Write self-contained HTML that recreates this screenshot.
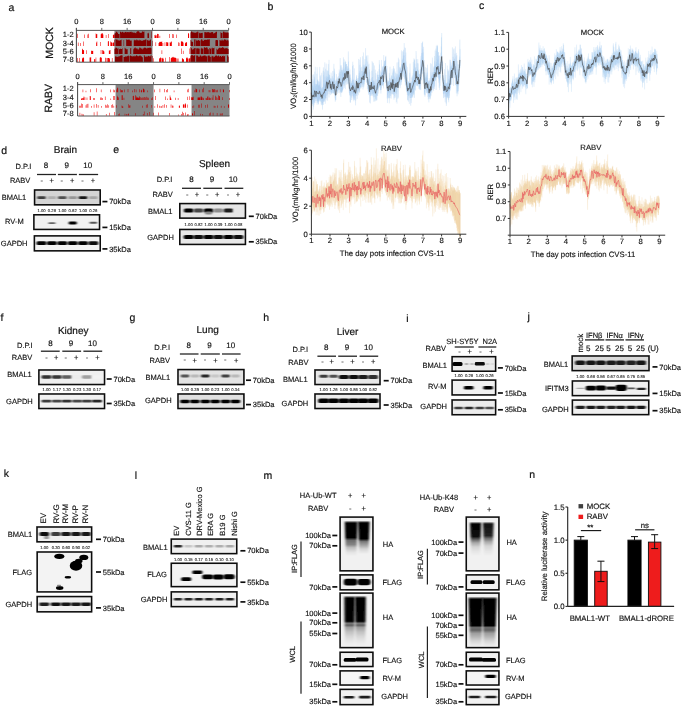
<!DOCTYPE html>
<html><head><meta charset="utf-8"><title>Figure</title>
<style>html,body{margin:0;padding:0;background:#fff;width:685px;height:707px;overflow:hidden;font-family:"Liberation Sans",sans-serif;}svg{display:block;will-change:transform;text-rendering:geometricPrecision;}</style>
</head><body>
<svg width="685" height="707" viewBox="0 0 685 707" font-family='"Liberation Sans", sans-serif'><defs><filter id="b0_85" x="-50%" y="-50%" width="200%" height="200%"><feGaussianBlur stdDeviation="0.85 0.55"/></filter><filter id="b0_80" x="-50%" y="-50%" width="200%" height="200%"><feGaussianBlur stdDeviation="0.8 0.52"/></filter><filter id="b1_00" x="-50%" y="-50%" width="200%" height="200%"><feGaussianBlur stdDeviation="1 0.65"/></filter><filter id="b0_90" x="-50%" y="-50%" width="200%" height="200%"><feGaussianBlur stdDeviation="0.9 0.59"/></filter><filter id="b0_70" x="-50%" y="-50%" width="200%" height="200%"><feGaussianBlur stdDeviation="0.7 0.45"/></filter><filter id="b0_60" x="-50%" y="-50%" width="200%" height="200%"><feGaussianBlur stdDeviation="0.6 0.39"/></filter><linearGradient id="sm1" gradientUnits="userSpaceOnUse" x1="0" y1="520.5" x2="0" y2="556"><stop offset="0" stop-color="#000" stop-opacity="0"/><stop offset="0.07" stop-color="#000" stop-opacity="1"/><stop offset="0.48" stop-color="#000" stop-opacity="1"/><stop offset="0.56" stop-color="#000" stop-opacity="0.55"/><stop offset="0.68" stop-color="#000" stop-opacity="0.45"/><stop offset="0.76" stop-color="#000" stop-opacity="0.22"/><stop offset="0.89" stop-color="#000" stop-opacity="0.06"/><stop offset="1" stop-color="#000" stop-opacity="0"/></linearGradient><filter id="b1_10" x="-50%" y="-50%" width="200%" height="200%"><feGaussianBlur stdDeviation="1.1 0.72"/></filter><linearGradient id="sm2" gradientUnits="userSpaceOnUse" x1="0" y1="520.5" x2="0" y2="554"><stop offset="0" stop-color="#000" stop-opacity="0"/><stop offset="0.07" stop-color="#000" stop-opacity="1"/><stop offset="0.54" stop-color="#000" stop-opacity="1"/><stop offset="0.63" stop-color="#000" stop-opacity="0.5"/><stop offset="0.75" stop-color="#000" stop-opacity="0.3"/><stop offset="0.85" stop-color="#000" stop-opacity="0.12"/><stop offset="1" stop-color="#000" stop-opacity="0"/></linearGradient><linearGradient id="sm3" gradientUnits="userSpaceOnUse" x1="0" y1="595.5" x2="0" y2="646"><stop offset="0" stop-color="#000" stop-opacity="0"/><stop offset="0.05" stop-color="#000" stop-opacity="1"/><stop offset="0.51" stop-color="#000" stop-opacity="1"/><stop offset="0.55" stop-color="#000" stop-opacity="0.5"/><stop offset="0.59" stop-color="#000" stop-opacity="0.6"/><stop offset="0.63" stop-color="#000" stop-opacity="0.35"/><stop offset="0.72" stop-color="#000" stop-opacity="0.2"/><stop offset="0.82" stop-color="#000" stop-opacity="0.1"/><stop offset="0.94" stop-color="#000" stop-opacity="0.02"/><stop offset="1" stop-color="#000" stop-opacity="0"/></linearGradient><linearGradient id="sm4" gradientUnits="userSpaceOnUse" x1="0" y1="595.5" x2="0" y2="646"><stop offset="0" stop-color="#000" stop-opacity="0"/><stop offset="0.05" stop-color="#000" stop-opacity="1"/><stop offset="0.51" stop-color="#000" stop-opacity="1"/><stop offset="0.55" stop-color="#000" stop-opacity="0.5"/><stop offset="0.59" stop-color="#000" stop-opacity="0.6"/><stop offset="0.63" stop-color="#000" stop-opacity="0.35"/><stop offset="0.72" stop-color="#000" stop-opacity="0.2"/><stop offset="0.82" stop-color="#000" stop-opacity="0.1"/><stop offset="0.94" stop-color="#000" stop-opacity="0.02"/><stop offset="1" stop-color="#000" stop-opacity="0"/></linearGradient><linearGradient id="sm5" gradientUnits="userSpaceOnUse" x1="0" y1="521.5" x2="0" y2="556"><stop offset="0" stop-color="#000" stop-opacity="0"/><stop offset="0.07" stop-color="#000" stop-opacity="1"/><stop offset="0.43" stop-color="#000" stop-opacity="0.95"/><stop offset="0.52" stop-color="#000" stop-opacity="0.6"/><stop offset="0.62" stop-color="#000" stop-opacity="0.3"/><stop offset="0.74" stop-color="#000" stop-opacity="0.12"/><stop offset="0.88" stop-color="#000" stop-opacity="0.04"/><stop offset="1" stop-color="#000" stop-opacity="0"/></linearGradient><linearGradient id="sm6" gradientUnits="userSpaceOnUse" x1="0" y1="521.5" x2="0" y2="556"><stop offset="0" stop-color="#000" stop-opacity="0"/><stop offset="0.07" stop-color="#000" stop-opacity="0.92"/><stop offset="0.41" stop-color="#000" stop-opacity="0.85"/><stop offset="0.49" stop-color="#000" stop-opacity="0.55"/><stop offset="0.59" stop-color="#000" stop-opacity="0.3"/><stop offset="0.71" stop-color="#000" stop-opacity="0.12"/><stop offset="0.88" stop-color="#000" stop-opacity="0.04"/><stop offset="1" stop-color="#000" stop-opacity="0"/></linearGradient><linearGradient id="sm7" gradientUnits="userSpaceOnUse" x1="0" y1="596.5" x2="0" y2="647.5"><stop offset="0" stop-color="#000" stop-opacity="0"/><stop offset="0.05" stop-color="#000" stop-opacity="1"/><stop offset="0.57" stop-color="#000" stop-opacity="1"/><stop offset="0.61" stop-color="#000" stop-opacity="0.55"/><stop offset="0.66" stop-color="#000" stop-opacity="0.6"/><stop offset="0.72" stop-color="#000" stop-opacity="0.35"/><stop offset="0.79" stop-color="#000" stop-opacity="0.25"/><stop offset="0.87" stop-color="#000" stop-opacity="0.12"/><stop offset="0.96" stop-color="#000" stop-opacity="0.03"/><stop offset="1" stop-color="#000" stop-opacity="0"/></linearGradient><linearGradient id="sm8" gradientUnits="userSpaceOnUse" x1="0" y1="596.5" x2="0" y2="647.5"><stop offset="0" stop-color="#000" stop-opacity="0"/><stop offset="0.05" stop-color="#000" stop-opacity="1"/><stop offset="0.57" stop-color="#000" stop-opacity="1"/><stop offset="0.61" stop-color="#000" stop-opacity="0.55"/><stop offset="0.66" stop-color="#000" stop-opacity="0.6"/><stop offset="0.72" stop-color="#000" stop-opacity="0.35"/><stop offset="0.79" stop-color="#000" stop-opacity="0.25"/><stop offset="0.87" stop-color="#000" stop-opacity="0.12"/><stop offset="0.96" stop-color="#000" stop-opacity="0.03"/><stop offset="1" stop-color="#000" stop-opacity="0"/></linearGradient><filter id="gblur" x="0" y="0" width="100%" height="100%" filterUnits="userSpaceOnUse"><feGaussianBlur stdDeviation="0.3"/></filter></defs><rect width="685" height="707" fill="#fff"/><g filter="url(#gblur)"><text x="8.6" y="10.9" font-size="10.5" text-anchor="start" fill="#141414" stroke="#141414" stroke-width="0.21">a</text>
<text x="267.4" y="9.7" font-size="10.5" text-anchor="start" fill="#141414" stroke="#141414" stroke-width="0.21">b</text>
<text x="479" y="8.5" font-size="10.5" text-anchor="start" fill="#141414" stroke="#141414" stroke-width="0.21">c</text>
<text x="1.3" y="154.2" font-size="10.5" text-anchor="start" fill="#141414" stroke="#141414" stroke-width="0.21">d</text>
<text x="113.2" y="152.5" font-size="10.5" text-anchor="start" fill="#141414" stroke="#141414" stroke-width="0.21">e</text>
<text x="0.6" y="320.8" font-size="10.5" text-anchor="start" fill="#141414" stroke="#141414" stroke-width="0.21">f</text>
<text x="129.4" y="320.8" font-size="10.5" text-anchor="start" fill="#141414" stroke="#141414" stroke-width="0.21">g</text>
<text x="263.2" y="320.5" font-size="10.5" text-anchor="start" fill="#141414" stroke="#141414" stroke-width="0.21">h</text>
<text x="406.2" y="322" font-size="10.5" text-anchor="start" fill="#141414" stroke="#141414" stroke-width="0.21">i</text>
<text x="527.6" y="320" font-size="10.5" text-anchor="start" fill="#141414" stroke="#141414" stroke-width="0.21">j</text>
<text x="3.7" y="477.2" font-size="10.5" text-anchor="start" fill="#141414" stroke="#141414" stroke-width="0.21">k</text>
<text x="134.7" y="479" font-size="10.5" text-anchor="start" fill="#141414" stroke="#141414" stroke-width="0.21">l</text>
<text x="263.4" y="478.6" font-size="10.5" text-anchor="start" fill="#141414" stroke="#141414" stroke-width="0.21">m</text>
<text x="529.2" y="477.6" font-size="10.5" text-anchor="start" fill="#141414" stroke="#141414" stroke-width="0.21">n</text>
<text x="65.5" y="153.38" font-size="10" text-anchor="middle" fill="#141414" stroke="#141414" stroke-width="0.2">Brain</text>
<text x="31.3" y="168.69" font-size="7.5" text-anchor="end" fill="#141414" stroke="#141414" stroke-width="0.15">D.P.I</text>
<text x="46.1" y="168.26" font-size="8" text-anchor="middle" fill="#141414" stroke="#141414" stroke-width="0.16">8</text>
<text x="66.8" y="168.26" font-size="8" text-anchor="middle" fill="#141414" stroke="#141414" stroke-width="0.16">9</text>
<text x="87.7" y="168.26" font-size="8" text-anchor="middle" fill="#141414" stroke="#141414" stroke-width="0.16">10</text>
<line x1="37" y1="174.5" x2="56" y2="174.5" stroke="#222" stroke-width="1.3"/>
<line x1="57.9" y1="174.5" x2="76.9" y2="174.5" stroke="#222" stroke-width="1.3"/>
<line x1="78.9" y1="174.5" x2="98.1" y2="174.5" stroke="#222" stroke-width="1.3"/>
<text x="30.4" y="183.19" font-size="7.5" text-anchor="end" fill="#141414" stroke="#141414" stroke-width="0.15">RABV</text>
<text x="41.7" y="182.88" font-size="7.5" text-anchor="middle" fill="#141414" stroke="#141414" stroke-width="0.15">-</text>
<text x="51.6" y="183.19" font-size="7.5" text-anchor="middle" fill="#141414" stroke="#141414" stroke-width="0.15">+</text>
<text x="61.7" y="182.88" font-size="7.5" text-anchor="middle" fill="#141414" stroke="#141414" stroke-width="0.15">-</text>
<text x="72.1" y="183.19" font-size="7.5" text-anchor="middle" fill="#141414" stroke="#141414" stroke-width="0.15">+</text>
<text x="82.5" y="182.88" font-size="7.5" text-anchor="middle" fill="#141414" stroke="#141414" stroke-width="0.15">-</text>
<text x="93" y="183.19" font-size="7.5" text-anchor="middle" fill="#141414" stroke="#141414" stroke-width="0.15">+</text>
<rect x="34.57" y="189.97" width="65.65" height="14.85" fill="#d4d4d4" stroke="#0a0a0a" stroke-width="1.55"/>
<rect x="37.25" y="196.2" width="8.5" height="2.8" rx="1.12" fill="#3c3c3c" opacity="1" filter="url(#b0_85)"/>
<rect x="47.65" y="196.2" width="8.5" height="2.8" rx="1.12" fill="#afafaf" opacity="1" filter="url(#b0_85)"/>
<rect x="58.05" y="196.2" width="8.5" height="2.8" rx="1.12" fill="#505050" opacity="1" filter="url(#b0_85)"/>
<rect x="68.45" y="196.2" width="8.5" height="2.8" rx="1.12" fill="#969696" opacity="1" filter="url(#b0_85)"/>
<rect x="78.75" y="196.2" width="8.5" height="2.8" rx="1.12" fill="#191919" opacity="1" filter="url(#b0_85)"/>
<rect x="89.05" y="196.2" width="8.5" height="2.8" rx="1.12" fill="#a5a5a5" opacity="1" filter="url(#b0_85)"/>
<text x="14" y="200.28" font-size="7.5" text-anchor="middle" fill="#141414" stroke="#141414" stroke-width="0.15">BMAL1</text>
<text x="41.5" y="211.5" font-size="4.2" text-anchor="middle" fill="#2a2a2a" stroke="#2a2a2a" stroke-width="0.12">1.00</text>
<text x="51.9" y="211.5" font-size="4.2" text-anchor="middle" fill="#2a2a2a" stroke="#2a2a2a" stroke-width="0.12">0.26</text>
<text x="62.3" y="211.5" font-size="4.2" text-anchor="middle" fill="#2a2a2a" stroke="#2a2a2a" stroke-width="0.12">1.00</text>
<text x="72.7" y="211.5" font-size="4.2" text-anchor="middle" fill="#2a2a2a" stroke="#2a2a2a" stroke-width="0.12">0.62</text>
<text x="83" y="211.5" font-size="4.2" text-anchor="middle" fill="#2a2a2a" stroke="#2a2a2a" stroke-width="0.12">1.00</text>
<text x="93.3" y="211.5" font-size="4.2" text-anchor="middle" fill="#2a2a2a" stroke="#2a2a2a" stroke-width="0.12">0.26</text>
<rect x="33.88" y="214.78" width="65.65" height="14.65" fill="#f1f1f1" stroke="#0a0a0a" stroke-width="1.55"/>
<rect x="48.4" y="222.3" width="7" height="1.8" rx="0.72" fill="#666" opacity="1" filter="url(#b0_80)"/>
<rect x="68.7" y="221.5" width="8" height="3" rx="1.2" fill="#000" opacity="1" filter="url(#b0_80)"/>
<rect x="89.55" y="221.7" width="7.5" height="2" rx="0.8" fill="#555" opacity="1" filter="url(#b0_80)"/>
<text x="14.4" y="223.99" font-size="7.5" text-anchor="middle" fill="#141414" stroke="#141414" stroke-width="0.15">RV-M</text>
<rect x="34.38" y="235.88" width="65.85" height="14.95" fill="#f3f3f3" stroke="#0a0a0a" stroke-width="1.55"/>
<rect x="36.5" y="241.3" width="10" height="3.8" rx="1.52" fill="#000000" opacity="1" filter="url(#b0_80)"/>
<rect x="46.9" y="241.3" width="10" height="3.8" rx="1.52" fill="#050505" opacity="1" filter="url(#b0_80)"/>
<rect x="57.3" y="241.3" width="10" height="3.8" rx="1.52" fill="#000000" opacity="1" filter="url(#b0_80)"/>
<rect x="67.7" y="241.3" width="10" height="3.8" rx="1.52" fill="#050505" opacity="1" filter="url(#b0_80)"/>
<rect x="78" y="241.3" width="10" height="3.8" rx="1.52" fill="#000000" opacity="1" filter="url(#b0_80)"/>
<rect x="88.3" y="241.3" width="10" height="3.8" rx="1.52" fill="#0a0a0a" opacity="1" filter="url(#b0_80)"/>
<text x="14.2" y="246.28" font-size="7.5" text-anchor="middle" fill="#141414" stroke="#141414" stroke-width="0.15">GAPDH</text>
<line x1="102.4" y1="201.6" x2="107.4" y2="201.6" stroke="#111" stroke-width="1.7"/>
<text x="109.2" y="204.28" font-size="7.5" text-anchor="start" fill="#141414" stroke="#141414" stroke-width="0.15">70kDa</text>
<line x1="102.4" y1="227.4" x2="107.4" y2="227.4" stroke="#111" stroke-width="1.7"/>
<text x="109.2" y="230.09" font-size="7.5" text-anchor="start" fill="#141414" stroke="#141414" stroke-width="0.15">15kDa</text>
<line x1="102.4" y1="248.9" x2="107.4" y2="248.9" stroke="#111" stroke-width="1.7"/>
<text x="109.2" y="251.59" font-size="7.5" text-anchor="start" fill="#141414" stroke="#141414" stroke-width="0.15">35kDa</text>
<text x="214.5" y="166.58" font-size="10" text-anchor="middle" fill="#141414" stroke="#141414" stroke-width="0.2">Spleen</text>
<text x="172.4" y="181.59" font-size="7.5" text-anchor="end" fill="#141414" stroke="#141414" stroke-width="0.15">D.P.I</text>
<text x="191.6" y="182.16" font-size="8" text-anchor="middle" fill="#141414" stroke="#141414" stroke-width="0.16">8</text>
<text x="212" y="182.16" font-size="8" text-anchor="middle" fill="#141414" stroke="#141414" stroke-width="0.16">9</text>
<text x="233.1" y="182.16" font-size="8" text-anchor="middle" fill="#141414" stroke="#141414" stroke-width="0.16">10</text>
<line x1="182" y1="188.3" x2="201" y2="188.3" stroke="#222" stroke-width="1.3"/>
<line x1="203.3" y1="188.3" x2="222.1" y2="188.3" stroke="#222" stroke-width="1.3"/>
<line x1="224.5" y1="188.3" x2="243.3" y2="188.3" stroke="#222" stroke-width="1.3"/>
<text x="172.9" y="197.49" font-size="7.5" text-anchor="end" fill="#141414" stroke="#141414" stroke-width="0.15">RABV</text>
<text x="187.2" y="196.69" font-size="7.5" text-anchor="middle" fill="#141414" stroke="#141414" stroke-width="0.15">-</text>
<text x="197" y="196.99" font-size="7.5" text-anchor="middle" fill="#141414" stroke="#141414" stroke-width="0.15">+</text>
<text x="207.2" y="196.69" font-size="7.5" text-anchor="middle" fill="#141414" stroke="#141414" stroke-width="0.15">-</text>
<text x="217.2" y="196.99" font-size="7.5" text-anchor="middle" fill="#141414" stroke="#141414" stroke-width="0.15">+</text>
<text x="228" y="196.69" font-size="7.5" text-anchor="middle" fill="#141414" stroke="#141414" stroke-width="0.15">-</text>
<text x="237.9" y="196.99" font-size="7.5" text-anchor="middle" fill="#141414" stroke="#141414" stroke-width="0.15">+</text>
<rect x="179.78" y="203.58" width="65.65" height="14.55" fill="#e6e6e6" stroke="#0a0a0a" stroke-width="1.55"/>
<rect x="183.95" y="208.6" width="9.5" height="3.8" rx="1.52" fill="#050505" opacity="1" filter="url(#b0_85)"/>
<rect x="193.75" y="208.6" width="9.5" height="3.8" rx="1.52" fill="#464646" opacity="1" filter="url(#b0_85)"/>
<rect x="203.85" y="208.6" width="9.5" height="3.8" rx="1.52" fill="#050505" opacity="1" filter="url(#b0_85)"/>
<rect x="213.55" y="208.6" width="9.5" height="3.8" rx="1.52" fill="#8c8c8c" opacity="1" filter="url(#b0_85)"/>
<rect x="223.75" y="208.6" width="9.5" height="3.8" rx="1.52" fill="#1e1e1e" opacity="1" filter="url(#b0_85)"/>
<rect x="233.55" y="208.6" width="9.5" height="3.8" rx="1.52" fill="#e6e6e6" opacity="1" filter="url(#b0_85)"/>
<rect x="205.1" y="211.5" width="7" height="3" rx="1.2" fill="#888" opacity="1" filter="url(#b1_00)"/>
<text x="160.2" y="213.69" font-size="7.5" text-anchor="middle" fill="#141414" stroke="#141414" stroke-width="0.15">BMAL1</text>
<text x="188.7" y="225.8" font-size="4.2" text-anchor="middle" fill="#2a2a2a" stroke="#2a2a2a" stroke-width="0.12">1.00</text>
<text x="198.5" y="225.8" font-size="4.2" text-anchor="middle" fill="#2a2a2a" stroke="#2a2a2a" stroke-width="0.12">0.82</text>
<text x="208.6" y="225.8" font-size="4.2" text-anchor="middle" fill="#2a2a2a" stroke="#2a2a2a" stroke-width="0.12">1.00</text>
<text x="218.3" y="225.8" font-size="4.2" text-anchor="middle" fill="#2a2a2a" stroke="#2a2a2a" stroke-width="0.12">0.39</text>
<text x="228.5" y="225.8" font-size="4.2" text-anchor="middle" fill="#2a2a2a" stroke="#2a2a2a" stroke-width="0.12">1.00</text>
<text x="238.3" y="225.8" font-size="4.2" text-anchor="middle" fill="#2a2a2a" stroke="#2a2a2a" stroke-width="0.12">0.08</text>
<rect x="179.78" y="229.47" width="65.65" height="14.95" fill="#e8e8e8" stroke="#0a0a0a" stroke-width="1.55"/>
<rect x="183.7" y="235" width="10" height="4" rx="1.6" fill="#000000" opacity="1" filter="url(#b0_80)"/>
<rect x="193.5" y="235" width="10" height="4" rx="1.6" fill="#0a0a0a" opacity="1" filter="url(#b0_80)"/>
<rect x="203.6" y="235" width="10" height="4" rx="1.6" fill="#000000" opacity="1" filter="url(#b0_80)"/>
<rect x="213.3" y="235" width="10" height="4" rx="1.6" fill="#0f0f0f" opacity="1" filter="url(#b0_80)"/>
<rect x="223.5" y="235" width="10" height="4" rx="1.6" fill="#050505" opacity="1" filter="url(#b0_80)"/>
<rect x="233.3" y="235" width="10" height="4" rx="1.6" fill="#0f0f0f" opacity="1" filter="url(#b0_80)"/>
<text x="160.5" y="240.49" font-size="7.5" text-anchor="middle" fill="#141414" stroke="#141414" stroke-width="0.15">GAPDH</text>
<line x1="248.8" y1="216.3" x2="253.8" y2="216.3" stroke="#111" stroke-width="1.7"/>
<text x="255.6" y="218.99" font-size="7.5" text-anchor="start" fill="#141414" stroke="#141414" stroke-width="0.15">70kDa</text>
<line x1="248.8" y1="241.8" x2="253.8" y2="241.8" stroke="#111" stroke-width="1.7"/>
<text x="255.6" y="244.49" font-size="7.5" text-anchor="start" fill="#141414" stroke="#141414" stroke-width="0.15">35kDa</text>
<text x="73.2" y="333.58" font-size="10" text-anchor="middle" fill="#141414" stroke="#141414" stroke-width="0.2">Kidney</text>
<text x="32.7" y="347.58" font-size="7.5" text-anchor="end" fill="#141414" stroke="#141414" stroke-width="0.15">D.P.I</text>
<text x="50.5" y="345.66" font-size="8" text-anchor="middle" fill="#141414" stroke="#141414" stroke-width="0.16">8</text>
<text x="70.9" y="345.66" font-size="8" text-anchor="middle" fill="#141414" stroke="#141414" stroke-width="0.16">9</text>
<text x="92.4" y="345.66" font-size="8" text-anchor="middle" fill="#141414" stroke="#141414" stroke-width="0.16">10</text>
<line x1="40.9" y1="351.2" x2="59.7" y2="351.2" stroke="#222" stroke-width="1.3"/>
<line x1="62.3" y1="351.2" x2="81.1" y2="351.2" stroke="#222" stroke-width="1.3"/>
<line x1="83.4" y1="351.2" x2="102.2" y2="351.2" stroke="#222" stroke-width="1.3"/>
<text x="32.3" y="360.29" font-size="7.5" text-anchor="end" fill="#141414" stroke="#141414" stroke-width="0.15">RABV</text>
<text x="46.4" y="359.78" font-size="7.5" text-anchor="middle" fill="#141414" stroke="#141414" stroke-width="0.15">-</text>
<text x="56.2" y="360.08" font-size="7.5" text-anchor="middle" fill="#141414" stroke="#141414" stroke-width="0.15">+</text>
<text x="65.8" y="359.78" font-size="7.5" text-anchor="middle" fill="#141414" stroke="#141414" stroke-width="0.15">-</text>
<text x="76.2" y="360.08" font-size="7.5" text-anchor="middle" fill="#141414" stroke="#141414" stroke-width="0.15">+</text>
<text x="86.9" y="359.78" font-size="7.5" text-anchor="middle" fill="#141414" stroke="#141414" stroke-width="0.15">-</text>
<text x="97.5" y="360.08" font-size="7.5" text-anchor="middle" fill="#141414" stroke="#141414" stroke-width="0.15">+</text>
<rect x="38.88" y="369.97" width="65.65" height="14.55" fill="#efefef" stroke="#0a0a0a" stroke-width="1.55"/>
<rect x="41.5" y="375.35" width="10" height="3.3" rx="1.32" fill="#323232" opacity="1" filter="url(#b0_90)"/>
<rect x="51.9" y="375.35" width="10" height="3.3" rx="1.32" fill="#373737" opacity="1" filter="url(#b0_90)"/>
<rect x="61.8" y="375.35" width="10" height="3.3" rx="1.32" fill="#5f5f5f" opacity="1" filter="url(#b0_90)"/>
<rect x="72.2" y="375.35" width="10" height="3.3" rx="1.32" fill="#ececec" opacity="1" filter="url(#b0_90)"/>
<rect x="81.9" y="375.35" width="10" height="3.3" rx="1.32" fill="#a0a0a0" opacity="1" filter="url(#b0_90)"/>
<rect x="92" y="375.35" width="10" height="3.3" rx="1.32" fill="#f2f2f2" opacity="1" filter="url(#b0_90)"/>
<text x="19.5" y="376.99" font-size="7.5" text-anchor="middle" fill="#141414" stroke="#141414" stroke-width="0.15">BMAL1</text>
<text x="46.5" y="390.5" font-size="4.2" text-anchor="middle" fill="#2a2a2a" stroke="#2a2a2a" stroke-width="0.12">1.00</text>
<text x="56.9" y="390.5" font-size="4.2" text-anchor="middle" fill="#2a2a2a" stroke="#2a2a2a" stroke-width="0.12">1.17</text>
<text x="66.8" y="390.5" font-size="4.2" text-anchor="middle" fill="#2a2a2a" stroke="#2a2a2a" stroke-width="0.12">1.30</text>
<text x="77.2" y="390.5" font-size="4.2" text-anchor="middle" fill="#2a2a2a" stroke="#2a2a2a" stroke-width="0.12">0.23</text>
<text x="86.9" y="390.5" font-size="4.2" text-anchor="middle" fill="#2a2a2a" stroke="#2a2a2a" stroke-width="0.12">1.30</text>
<text x="97" y="390.5" font-size="4.2" text-anchor="middle" fill="#2a2a2a" stroke="#2a2a2a" stroke-width="0.12">0.17</text>
<rect x="38.88" y="393.97" width="65.65" height="14.55" fill="#f1f1f1" stroke="#0a0a0a" stroke-width="1.55"/>
<rect x="41.5" y="399.7" width="10" height="2.8" rx="1.12" fill="#3c3c3c" opacity="1" filter="url(#b0_80)"/>
<rect x="51.9" y="399.7" width="10" height="2.8" rx="1.12" fill="#464646" opacity="1" filter="url(#b0_80)"/>
<rect x="61.8" y="399.7" width="10" height="2.8" rx="1.12" fill="#323232" opacity="1" filter="url(#b0_80)"/>
<rect x="72.2" y="399.7" width="10" height="2.8" rx="1.12" fill="#464646" opacity="1" filter="url(#b0_80)"/>
<rect x="81.9" y="399.7" width="10" height="2.8" rx="1.12" fill="#3c3c3c" opacity="1" filter="url(#b0_80)"/>
<rect x="92" y="399.7" width="10" height="2.8" rx="1.12" fill="#282828" opacity="1" filter="url(#b0_80)"/>
<text x="19.4" y="403.58" font-size="7.5" text-anchor="middle" fill="#141414" stroke="#141414" stroke-width="0.15">GAPDH</text>
<line x1="106.7" y1="379" x2="111.7" y2="379" stroke="#111" stroke-width="1.7"/>
<text x="113.5" y="381.69" font-size="7.5" text-anchor="start" fill="#141414" stroke="#141414" stroke-width="0.15">70kDa</text>
<line x1="106.7" y1="403.5" x2="111.7" y2="403.5" stroke="#111" stroke-width="1.7"/>
<text x="113.5" y="406.19" font-size="7.5" text-anchor="start" fill="#141414" stroke="#141414" stroke-width="0.15">35kDa</text>
<text x="207.7" y="332.98" font-size="10" text-anchor="middle" fill="#141414" stroke="#141414" stroke-width="0.2">Lung</text>
<text x="170" y="350.29" font-size="7.5" text-anchor="end" fill="#141414" stroke="#141414" stroke-width="0.15">D.P.I</text>
<text x="188.7" y="348.06" font-size="8" text-anchor="middle" fill="#141414" stroke="#141414" stroke-width="0.16">8</text>
<text x="209.5" y="348.06" font-size="8" text-anchor="middle" fill="#141414" stroke="#141414" stroke-width="0.16">9</text>
<text x="230.7" y="348.06" font-size="8" text-anchor="middle" fill="#141414" stroke="#141414" stroke-width="0.16">10</text>
<line x1="179.9" y1="354" x2="198.5" y2="354" stroke="#222" stroke-width="1.3"/>
<line x1="200.7" y1="354" x2="219.8" y2="354" stroke="#222" stroke-width="1.3"/>
<line x1="222" y1="354" x2="240.6" y2="354" stroke="#222" stroke-width="1.3"/>
<text x="170" y="363.19" font-size="7.5" text-anchor="end" fill="#141414" stroke="#141414" stroke-width="0.15">RABV</text>
<text x="184.7" y="362.49" font-size="7.5" text-anchor="middle" fill="#141414" stroke="#141414" stroke-width="0.15">-</text>
<text x="194.8" y="362.79" font-size="7.5" text-anchor="middle" fill="#141414" stroke="#141414" stroke-width="0.15">+</text>
<text x="204.9" y="362.49" font-size="7.5" text-anchor="middle" fill="#141414" stroke="#141414" stroke-width="0.15">-</text>
<text x="215.4" y="362.79" font-size="7.5" text-anchor="middle" fill="#141414" stroke="#141414" stroke-width="0.15">+</text>
<text x="225.2" y="362.49" font-size="7.5" text-anchor="middle" fill="#141414" stroke="#141414" stroke-width="0.15">-</text>
<text x="236.2" y="362.79" font-size="7.5" text-anchor="middle" fill="#141414" stroke="#141414" stroke-width="0.15">+</text>
<rect x="177.97" y="369.57" width="65.95" height="14.95" fill="#e3e3e3" stroke="#0a0a0a" stroke-width="1.55"/>
<rect x="180.75" y="374.6" width="8.5" height="2.8" rx="1.12" fill="#555555" opacity="1" filter="url(#b0_85)"/>
<rect x="190.65" y="374.6" width="8.5" height="2.8" rx="1.12" fill="#b9b9b9" opacity="1" filter="url(#b0_85)"/>
<rect x="201.05" y="374.6" width="8.5" height="2.8" rx="1.12" fill="#282828" opacity="1" filter="url(#b0_85)"/>
<rect x="210.95" y="374.6" width="8.5" height="2.8" rx="1.12" fill="#c8c8c8" opacity="1" filter="url(#b0_85)"/>
<rect x="221.35" y="374.6" width="8.5" height="2.8" rx="1.12" fill="#414141" opacity="1" filter="url(#b0_85)"/>
<rect x="231.15" y="374.6" width="8.5" height="2.8" rx="1.12" fill="#b9b9b9" opacity="1" filter="url(#b0_85)"/>
<text x="157.9" y="379.69" font-size="7.5" text-anchor="middle" fill="#141414" stroke="#141414" stroke-width="0.15">BMAL1</text>
<text x="185" y="390.6" font-size="4.2" text-anchor="middle" fill="#2a2a2a" stroke="#2a2a2a" stroke-width="0.12">1.00</text>
<text x="194.9" y="390.6" font-size="4.2" text-anchor="middle" fill="#2a2a2a" stroke="#2a2a2a" stroke-width="0.12">0.39</text>
<text x="205.3" y="390.6" font-size="4.2" text-anchor="middle" fill="#2a2a2a" stroke="#2a2a2a" stroke-width="0.12">1.00</text>
<text x="215.2" y="390.6" font-size="4.2" text-anchor="middle" fill="#2a2a2a" stroke="#2a2a2a" stroke-width="0.12">0.23</text>
<text x="225.6" y="390.6" font-size="4.2" text-anchor="middle" fill="#2a2a2a" stroke="#2a2a2a" stroke-width="0.12">1.00</text>
<text x="235.4" y="390.6" font-size="4.2" text-anchor="middle" fill="#2a2a2a" stroke="#2a2a2a" stroke-width="0.12">0.34</text>
<rect x="177.97" y="393.97" width="65.95" height="14.55" fill="#e0e0e0" stroke="#0a0a0a" stroke-width="1.55"/>
<rect x="180.25" y="399.7" width="9.5" height="3.6" rx="1.44" fill="#000000" opacity="1" filter="url(#b0_80)"/>
<rect x="190.15" y="399.7" width="9.5" height="3.6" rx="1.44" fill="#050505" opacity="1" filter="url(#b0_80)"/>
<rect x="200.55" y="399.7" width="9.5" height="3.6" rx="1.44" fill="#050505" opacity="1" filter="url(#b0_80)"/>
<rect x="210.45" y="399.7" width="9.5" height="3.6" rx="1.44" fill="#000000" opacity="1" filter="url(#b0_80)"/>
<rect x="220.85" y="399.7" width="9.5" height="3.6" rx="1.44" fill="#050505" opacity="1" filter="url(#b0_80)"/>
<rect x="230.65" y="399.7" width="9.5" height="3.6" rx="1.44" fill="#000000" opacity="1" filter="url(#b0_80)"/>
<text x="158.3" y="403.08" font-size="7.5" text-anchor="middle" fill="#141414" stroke="#141414" stroke-width="0.15">GAPDH</text>
<line x1="246" y1="380.2" x2="251" y2="380.2" stroke="#111" stroke-width="1.7"/>
<text x="252.8" y="382.88" font-size="7.5" text-anchor="start" fill="#141414" stroke="#141414" stroke-width="0.15">70kDa</text>
<line x1="246" y1="404.6" x2="251" y2="404.6" stroke="#111" stroke-width="1.7"/>
<text x="252.8" y="407.29" font-size="7.5" text-anchor="start" fill="#141414" stroke="#141414" stroke-width="0.15">35kDa</text>
<text x="347.6" y="334.98" font-size="10" text-anchor="middle" fill="#141414" stroke="#141414" stroke-width="0.2">Liver</text>
<text x="308.2" y="351.69" font-size="7.5" text-anchor="end" fill="#141414" stroke="#141414" stroke-width="0.15">D.P.I</text>
<text x="326.3" y="350.26" font-size="8" text-anchor="middle" fill="#141414" stroke="#141414" stroke-width="0.16">8</text>
<text x="346.9" y="350.26" font-size="8" text-anchor="middle" fill="#141414" stroke="#141414" stroke-width="0.16">9</text>
<text x="368.4" y="350.26" font-size="8" text-anchor="middle" fill="#141414" stroke="#141414" stroke-width="0.16">10</text>
<line x1="317.4" y1="356.2" x2="336" y2="356.2" stroke="#222" stroke-width="1.3"/>
<line x1="338.2" y1="356.2" x2="357" y2="356.2" stroke="#222" stroke-width="1.3"/>
<line x1="359.6" y1="356.2" x2="378.2" y2="356.2" stroke="#222" stroke-width="1.3"/>
<text x="308.6" y="364.69" font-size="7.5" text-anchor="end" fill="#141414" stroke="#141414" stroke-width="0.15">RABV</text>
<text x="322.4" y="364.19" font-size="7.5" text-anchor="middle" fill="#141414" stroke="#141414" stroke-width="0.15">-</text>
<text x="331.8" y="364.49" font-size="7.5" text-anchor="middle" fill="#141414" stroke="#141414" stroke-width="0.15">+</text>
<text x="342.5" y="364.19" font-size="7.5" text-anchor="middle" fill="#141414" stroke="#141414" stroke-width="0.15">-</text>
<text x="352.4" y="364.49" font-size="7.5" text-anchor="middle" fill="#141414" stroke="#141414" stroke-width="0.15">+</text>
<text x="362.9" y="364.19" font-size="7.5" text-anchor="middle" fill="#141414" stroke="#141414" stroke-width="0.15">-</text>
<text x="373.2" y="364.49" font-size="7.5" text-anchor="middle" fill="#141414" stroke="#141414" stroke-width="0.15">+</text>
<rect x="314.97" y="369.97" width="65.05" height="14.55" fill="#e8e8e8" stroke="#0a0a0a" stroke-width="1.55"/>
<rect x="319.45" y="374.8" width="8.5" height="3" rx="1.2" fill="#3c3c3c" opacity="1" filter="url(#b0_85)"/>
<rect x="329.25" y="374.8" width="8.5" height="3" rx="1.2" fill="#505050" opacity="1" filter="url(#b0_85)"/>
<rect x="338.9" y="374.9" width="10" height="4.2" rx="1.68" fill="#0f0f0f" opacity="1" filter="url(#b0_85)"/>
<rect x="348.8" y="374.9" width="10" height="4.2" rx="1.68" fill="#0a0a0a" opacity="1" filter="url(#b0_85)"/>
<rect x="358.1" y="374.9" width="10" height="4.2" rx="1.68" fill="#1e1e1e" opacity="1" filter="url(#b0_85)"/>
<rect x="368" y="374.9" width="10" height="4.2" rx="1.68" fill="#2d2d2d" opacity="1" filter="url(#b0_85)"/>
<text x="295.4" y="381.88" font-size="7.5" text-anchor="middle" fill="#141414" stroke="#141414" stroke-width="0.15">BMAL1</text>
<text x="323.7" y="390.9" font-size="4.2" text-anchor="middle" fill="#2a2a2a" stroke="#2a2a2a" stroke-width="0.12">1.00</text>
<text x="333.5" y="390.9" font-size="4.2" text-anchor="middle" fill="#2a2a2a" stroke="#2a2a2a" stroke-width="0.12">1.26</text>
<text x="343.9" y="390.9" font-size="4.2" text-anchor="middle" fill="#2a2a2a" stroke="#2a2a2a" stroke-width="0.12">1.00</text>
<text x="353.8" y="390.9" font-size="4.2" text-anchor="middle" fill="#2a2a2a" stroke="#2a2a2a" stroke-width="0.12">0.86</text>
<text x="363.1" y="390.9" font-size="4.2" text-anchor="middle" fill="#2a2a2a" stroke="#2a2a2a" stroke-width="0.12">1.00</text>
<text x="373" y="390.9" font-size="4.2" text-anchor="middle" fill="#2a2a2a" stroke="#2a2a2a" stroke-width="0.12">0.82</text>
<rect x="314.97" y="393.97" width="65.05" height="14.55" fill="#ebebeb" stroke="#0a0a0a" stroke-width="1.55"/>
<rect x="318.2" y="398.5" width="11" height="4.6" rx="1.84" fill="#000000" opacity="1" filter="url(#b0_80)"/>
<rect x="328" y="398.5" width="11" height="4.6" rx="1.84" fill="#050505" opacity="1" filter="url(#b0_80)"/>
<rect x="338.4" y="398.5" width="11" height="4.6" rx="1.84" fill="#050505" opacity="1" filter="url(#b0_80)"/>
<rect x="348.3" y="398.5" width="11" height="4.6" rx="1.84" fill="#000000" opacity="1" filter="url(#b0_80)"/>
<rect x="357.6" y="398.5" width="11" height="4.6" rx="1.84" fill="#050505" opacity="1" filter="url(#b0_80)"/>
<rect x="367.5" y="398.5" width="11" height="4.6" rx="1.84" fill="#050505" opacity="1" filter="url(#b0_80)"/>
<text x="294.9" y="405.88" font-size="7.5" text-anchor="middle" fill="#141414" stroke="#141414" stroke-width="0.15">GAPDH</text>
<line x1="383.7" y1="380.7" x2="388.7" y2="380.7" stroke="#111" stroke-width="1.7"/>
<text x="390.5" y="383.38" font-size="7.5" text-anchor="start" fill="#141414" stroke="#141414" stroke-width="0.15">70kDa</text>
<line x1="383.7" y1="405" x2="388.7" y2="405" stroke="#111" stroke-width="1.7"/>
<text x="390.5" y="407.69" font-size="7.5" text-anchor="start" fill="#141414" stroke="#141414" stroke-width="0.15">35kDa</text>
<text x="462.4" y="343.99" font-size="7.5" text-anchor="middle" fill="#141414" stroke="#141414" stroke-width="0.15">SH-SY5Y</text>
<text x="489.8" y="343.99" font-size="7.5" text-anchor="middle" fill="#141414" stroke="#141414" stroke-width="0.15">N2A</text>
<line x1="454.7" y1="347" x2="473.8" y2="347" stroke="#222" stroke-width="1.3"/>
<line x1="478.4" y1="347" x2="496.3" y2="347" stroke="#222" stroke-width="1.3"/>
<text x="446" y="351.29" font-size="7.5" text-anchor="end" fill="#141414" stroke="#141414" stroke-width="0.15">RABV</text>
<text x="459.6" y="354.19" font-size="7.5" text-anchor="middle" fill="#141414" stroke="#141414" stroke-width="0.15">-</text>
<text x="469.6" y="354.49" font-size="7.5" text-anchor="middle" fill="#141414" stroke="#141414" stroke-width="0.15">+</text>
<text x="480.6" y="354.19" font-size="7.5" text-anchor="middle" fill="#141414" stroke="#141414" stroke-width="0.15">-</text>
<text x="491.5" y="354.49" font-size="7.5" text-anchor="middle" fill="#141414" stroke="#141414" stroke-width="0.15">+</text>
<rect x="452.07" y="356.67" width="43.55" height="14.55" fill="#ececec" stroke="#0a0a0a" stroke-width="1.55"/>
<rect x="452.5" y="362.1" width="10" height="3.8" rx="1.52" fill="#000" opacity="1" filter="url(#b0_70)"/>
<rect x="465" y="363.1" width="3" height="1.8" rx="0.72" fill="#999" opacity="1" filter="url(#b0_80)"/>
<rect x="470.5" y="363.1" width="3" height="1.8" rx="0.72" fill="#aaa" opacity="1" filter="url(#b0_80)"/>
<rect x="474.8" y="362" width="10" height="3.6" rx="1.44" fill="#080808" opacity="1" filter="url(#b0_70)"/>
<rect x="486" y="363.2" width="3" height="1.6" rx="0.64" fill="#bbb" opacity="1" filter="url(#b0_80)"/>
<rect x="491.25" y="363.3" width="2.5" height="1.4" rx="0.56" fill="#ccc" opacity="1" filter="url(#b0_80)"/>
<text x="447" y="367.58" font-size="7.5" text-anchor="end" fill="#141414" stroke="#141414" stroke-width="0.15">BMAL1</text>
<text x="458.6" y="376.9" font-size="4.2" text-anchor="middle" fill="#2a2a2a" stroke="#2a2a2a" stroke-width="0.12">1.00</text>
<text x="469" y="376.9" font-size="4.2" text-anchor="middle" fill="#2a2a2a" stroke="#2a2a2a" stroke-width="0.12">0.26</text>
<text x="479.8" y="376.9" font-size="4.2" text-anchor="middle" fill="#2a2a2a" stroke="#2a2a2a" stroke-width="0.12">1.00</text>
<text x="489.6" y="376.9" font-size="4.2" text-anchor="middle" fill="#2a2a2a" stroke="#2a2a2a" stroke-width="0.12">0.26</text>
<rect x="452.07" y="380.07" width="43.55" height="14.85" fill="#f1f1f1" stroke="#0a0a0a" stroke-width="1.55"/>
<rect x="463.95" y="386" width="9.5" height="3.6" rx="1.44" fill="#000" opacity="1" filter="url(#b0_80)"/>
<rect x="483.35" y="386" width="9.5" height="3.6" rx="1.44" fill="#000" opacity="1" filter="url(#b0_80)"/>
<text x="446.6" y="389.08" font-size="7.5" text-anchor="end" fill="#141414" stroke="#141414" stroke-width="0.15">RV-M</text>
<rect x="452.07" y="399.97" width="43.55" height="14.75" fill="#ececec" stroke="#0a0a0a" stroke-width="1.55"/>
<rect x="454.1" y="406.7" width="9" height="2.6" rx="1.04" fill="#3c3c3c" opacity="1" filter="url(#b0_85)"/>
<rect x="464.5" y="406.7" width="9" height="2.6" rx="1.04" fill="#282828" opacity="1" filter="url(#b0_85)"/>
<rect x="475.3" y="406.7" width="9" height="2.6" rx="1.04" fill="#3c3c3c" opacity="1" filter="url(#b0_85)"/>
<rect x="485.1" y="406.7" width="9" height="2.6" rx="1.04" fill="#505050" opacity="1" filter="url(#b0_85)"/>
<text x="447" y="408.79" font-size="7.5" text-anchor="end" fill="#141414" stroke="#141414" stroke-width="0.15">GAPDH</text>
<line x1="497.9" y1="367.9" x2="502.9" y2="367.9" stroke="#111" stroke-width="1.7"/>
<text x="504.7" y="370.58" font-size="7.5" text-anchor="start" fill="#141414" stroke="#141414" stroke-width="0.15">70kDa</text>
<line x1="497.9" y1="393" x2="502.9" y2="393" stroke="#111" stroke-width="1.7"/>
<text x="504.7" y="395.69" font-size="7.5" text-anchor="start" fill="#141414" stroke="#141414" stroke-width="0.15">15kDa</text>
<line x1="497.9" y1="409.8" x2="502.9" y2="409.8" stroke="#111" stroke-width="1.7"/>
<text x="504.7" y="412.49" font-size="7.5" text-anchor="start" fill="#141414" stroke="#141414" stroke-width="0.15">35kDa</text>
<text transform="translate(579.9,343.2) rotate(-90)" x="0" y="2.79" font-size="7.8" text-anchor="middle" fill="#141414" stroke="#141414" stroke-width="0.16">mock</text>
<text x="594.2" y="337.79" font-size="7.5" text-anchor="middle" fill="#141414" stroke="#141414" stroke-width="0.15">IFNβ</text>
<text x="614.7" y="337.79" font-size="7.5" text-anchor="middle" fill="#141414" stroke="#141414" stroke-width="0.15">IFNα</text>
<text x="635.6" y="337.79" font-size="7.5" text-anchor="middle" fill="#141414" stroke="#141414" stroke-width="0.15">IFNγ</text>
<line x1="585" y1="339.9" x2="604.3" y2="339.9" stroke="#222" stroke-width="1.3"/>
<line x1="605.5" y1="339.9" x2="624" y2="339.9" stroke="#222" stroke-width="1.3"/>
<line x1="625.5" y1="339.9" x2="644" y2="339.9" stroke="#222" stroke-width="1.3"/>
<text x="588.2" y="350.96" font-size="8" text-anchor="middle" fill="#141414" stroke="#141414" stroke-width="0.16">5</text>
<text x="599.5" y="350.96" font-size="8" text-anchor="middle" fill="#141414" stroke="#141414" stroke-width="0.16">25</text>
<text x="608.4" y="350.96" font-size="8" text-anchor="middle" fill="#141414" stroke="#141414" stroke-width="0.16">5</text>
<text x="619.5" y="350.96" font-size="8" text-anchor="middle" fill="#141414" stroke="#141414" stroke-width="0.16">25</text>
<text x="630" y="350.96" font-size="8" text-anchor="middle" fill="#141414" stroke="#141414" stroke-width="0.16">5</text>
<text x="640.4" y="350.96" font-size="8" text-anchor="middle" fill="#141414" stroke="#141414" stroke-width="0.16">25</text>
<text x="653.2" y="350.96" font-size="8" text-anchor="middle" fill="#141414" stroke="#141414" stroke-width="0.16">(U)</text>
<rect x="572.17" y="355.97" width="76.85" height="14.65" fill="#d9d9d9" stroke="#0a0a0a" stroke-width="1.55"/>
<rect x="575.3" y="360.5" width="10" height="4.6" rx="1.84" fill="#141414" opacity="1" filter="url(#b0_85)"/>
<rect x="585.9" y="360.5" width="10" height="4.6" rx="1.84" fill="#141414" opacity="1" filter="url(#b0_85)"/>
<rect x="595.8" y="360.5" width="10" height="4.6" rx="1.84" fill="#191919" opacity="1" filter="url(#b0_85)"/>
<rect x="606.2" y="360.5" width="10" height="4.6" rx="1.84" fill="#1e1e1e" opacity="1" filter="url(#b0_85)"/>
<rect x="615.7" y="360.5" width="10" height="4.6" rx="1.84" fill="#1e1e1e" opacity="1" filter="url(#b0_85)"/>
<rect x="626.1" y="360.5" width="10" height="4.6" rx="1.84" fill="#232323" opacity="1" filter="url(#b0_85)"/>
<rect x="636" y="360.5" width="10" height="4.6" rx="1.84" fill="#141414" opacity="1" filter="url(#b0_85)"/>
<text x="568.3" y="366.69" font-size="7.5" text-anchor="end" fill="#141414" stroke="#141414" stroke-width="0.15">BMAL1</text>
<text x="580.3" y="377.8" font-size="4.2" text-anchor="middle" fill="#2a2a2a" stroke="#2a2a2a" stroke-width="0.12">1.00</text>
<text x="590.9" y="377.8" font-size="4.2" text-anchor="middle" fill="#2a2a2a" stroke="#2a2a2a" stroke-width="0.12">0.66</text>
<text x="600.8" y="377.8" font-size="4.2" text-anchor="middle" fill="#2a2a2a" stroke="#2a2a2a" stroke-width="0.12">0.56</text>
<text x="611.2" y="377.8" font-size="4.2" text-anchor="middle" fill="#2a2a2a" stroke="#2a2a2a" stroke-width="0.12">0.67</text>
<text x="620.7" y="377.8" font-size="4.2" text-anchor="middle" fill="#2a2a2a" stroke="#2a2a2a" stroke-width="0.12">0.65</text>
<text x="631.1" y="377.8" font-size="4.2" text-anchor="middle" fill="#2a2a2a" stroke="#2a2a2a" stroke-width="0.12">0.75</text>
<text x="641" y="377.8" font-size="4.2" text-anchor="middle" fill="#2a2a2a" stroke="#2a2a2a" stroke-width="0.12">0.85</text>
<rect x="572.38" y="380.97" width="76.35" height="14.65" fill="#f0f0f0" stroke="#0a0a0a" stroke-width="1.55"/>
<rect x="576.3" y="387.7" width="8" height="1.4" rx="0.56" fill="#aaa" opacity="1" filter="url(#b0_80)"/>
<rect x="585.65" y="385.8" width="10.5" height="4.6" rx="1.84" fill="#000" opacity="1" filter="url(#b0_80)"/>
<rect x="595.55" y="385.6" width="10.5" height="4.8" rx="1.92" fill="#000" opacity="1" filter="url(#b0_80)"/>
<rect x="606.2" y="386.5" width="10" height="3.2" rx="1.28" fill="#111" opacity="1" filter="url(#b0_80)"/>
<rect x="615.45" y="384.8" width="11.5" height="6.2" rx="2.48" fill="#000" opacity="1" filter="url(#b0_80)"/>
<rect x="627.1" y="387.6" width="8" height="1.6" rx="0.64" fill="#555" opacity="1" filter="url(#b0_80)"/>
<rect x="636.8" y="387.7" width="9" height="2.2" rx="0.88" fill="#222" opacity="1" filter="url(#b0_80)"/>
<text x="568.7" y="390.79" font-size="7.5" text-anchor="end" fill="#141414" stroke="#141414" stroke-width="0.15">IFITM3</text>
<rect x="572.38" y="400.07" width="76.35" height="14.55" fill="#f0f0f0" stroke="#0a0a0a" stroke-width="1.55"/>
<rect x="575.55" y="405.7" width="9.5" height="3.2" rx="1.28" fill="#1e1e1e" opacity="1" filter="url(#b0_85)"/>
<rect x="586.15" y="405.7" width="9.5" height="3.2" rx="1.28" fill="#191919" opacity="1" filter="url(#b0_85)"/>
<rect x="596.05" y="405.7" width="9.5" height="3.2" rx="1.28" fill="#1e1e1e" opacity="1" filter="url(#b0_85)"/>
<rect x="606.45" y="405.7" width="9.5" height="3.2" rx="1.28" fill="#232323" opacity="1" filter="url(#b0_85)"/>
<rect x="615.95" y="405.7" width="9.5" height="3.2" rx="1.28" fill="#1e1e1e" opacity="1" filter="url(#b0_85)"/>
<rect x="626.35" y="405.7" width="9.5" height="3.2" rx="1.28" fill="#141414" opacity="1" filter="url(#b0_85)"/>
<rect x="636.25" y="405.7" width="9.5" height="3.2" rx="1.28" fill="#141414" opacity="1" filter="url(#b0_85)"/>
<text x="568.7" y="412.19" font-size="7.5" text-anchor="end" fill="#141414" stroke="#141414" stroke-width="0.15">GAPDH</text>
<line x1="652.5" y1="366.9" x2="657.5" y2="366.9" stroke="#111" stroke-width="1.7"/>
<text x="659.3" y="369.58" font-size="7.5" text-anchor="start" fill="#141414" stroke="#141414" stroke-width="0.15">70kDa</text>
<line x1="652.5" y1="393.4" x2="657.5" y2="393.4" stroke="#111" stroke-width="1.7"/>
<text x="659.3" y="396.08" font-size="7.5" text-anchor="start" fill="#141414" stroke="#141414" stroke-width="0.15">15kDa</text>
<line x1="652.5" y1="410.7" x2="657.5" y2="410.7" stroke="#111" stroke-width="1.7"/>
<text x="659.3" y="413.38" font-size="7.5" text-anchor="start" fill="#141414" stroke="#141414" stroke-width="0.15">35kDa</text>
<text transform="translate(43.5,523.6) rotate(-90)" x="0" y="2.86" font-size="8" text-anchor="start" fill="#141414" stroke="#141414" stroke-width="0.16">EV</text>
<text transform="translate(55.8,523.6) rotate(-90)" x="0" y="2.86" font-size="8" text-anchor="start" fill="#141414" stroke="#141414" stroke-width="0.16">RV-G</text>
<text transform="translate(65,523.6) rotate(-90)" x="0" y="2.86" font-size="8" text-anchor="start" fill="#141414" stroke="#141414" stroke-width="0.16">RV-M</text>
<text transform="translate(75.2,523.6) rotate(-90)" x="0" y="2.86" font-size="8" text-anchor="start" fill="#141414" stroke="#141414" stroke-width="0.16">RV-P</text>
<text transform="translate(85.4,523.6) rotate(-90)" x="0" y="2.86" font-size="8" text-anchor="start" fill="#141414" stroke="#141414" stroke-width="0.16">RV-N</text>
<rect x="36.98" y="526.98" width="54.65" height="14.85" fill="#efefef" stroke="#0a0a0a" stroke-width="1.55"/>
<rect x="39.55" y="532.1" width="9.5" height="3.8" rx="1.52" fill="#0a0a0a" opacity="1" filter="url(#b0_85)"/>
<rect x="51.05" y="532.1" width="9.5" height="3.8" rx="1.52" fill="#3c3c3c" opacity="1" filter="url(#b0_85)"/>
<rect x="61.25" y="532.1" width="9.5" height="3.8" rx="1.52" fill="#141414" opacity="1" filter="url(#b0_85)"/>
<rect x="71.25" y="532.1" width="9.5" height="3.8" rx="1.52" fill="#141414" opacity="1" filter="url(#b0_85)"/>
<rect x="81.25" y="532.1" width="9.5" height="3.8" rx="1.52" fill="#141414" opacity="1" filter="url(#b0_85)"/>
<rect x="44" y="536" width="5" height="3" rx="1.2" fill="#999" opacity="1" filter="url(#b0_90)"/>
<text x="32.3" y="536.88" font-size="7.5" text-anchor="end" fill="#141414" stroke="#141414" stroke-width="0.15">BMAL1</text>
<text x="44.3" y="549.2" font-size="4.2" text-anchor="middle" fill="#2a2a2a" stroke="#2a2a2a" stroke-width="0.12">1.00</text>
<text x="55.8" y="549.2" font-size="4.2" text-anchor="middle" fill="#2a2a2a" stroke="#2a2a2a" stroke-width="0.12">0.30</text>
<text x="66" y="549.2" font-size="4.2" text-anchor="middle" fill="#2a2a2a" stroke="#2a2a2a" stroke-width="0.12">0.60</text>
<text x="76" y="549.2" font-size="4.2" text-anchor="middle" fill="#2a2a2a" stroke="#2a2a2a" stroke-width="0.12">0.90</text>
<text x="86" y="549.2" font-size="4.2" text-anchor="middle" fill="#2a2a2a" stroke="#2a2a2a" stroke-width="0.12">0.02</text>
<rect x="37.17" y="551.98" width="54.45" height="39.95" fill="#f3f3f3" stroke="#0a0a0a" stroke-width="1.55"/>
<ellipse cx="59.3" cy="556.3" rx="5" ry="2.6" fill="#000" opacity="1" filter="url(#b0_70)"/>
<ellipse cx="83.8" cy="557.4" rx="4.5" ry="2.6" fill="#000" opacity="1" filter="url(#b0_70)"/>
<ellipse cx="76" cy="565.8" rx="6.25" ry="5" fill="#000" opacity="1" filter="url(#b0_70)"/>
<ellipse cx="78.8" cy="561" rx="3.75" ry="2.25" fill="#000" opacity="1" filter="url(#b0_70)"/>
<ellipse cx="67.9" cy="577.2" rx="3.25" ry="1.3" fill="#000" opacity="1" filter="url(#b0_60)"/>
<ellipse cx="59.7" cy="588" rx="3.75" ry="1.9" fill="#000" opacity="1" filter="url(#b0_60)"/>
<rect x="57" y="584.65" width="4" height="1.5" rx="0.6" fill="#888" opacity="1" filter="url(#b0_70)"/>
<text x="32.1" y="574.88" font-size="7.5" text-anchor="end" fill="#141414" stroke="#141414" stroke-width="0.15">FLAG</text>
<rect x="37.17" y="596.57" width="54.45" height="15.25" fill="#f1f1f1" stroke="#0a0a0a" stroke-width="1.55"/>
<rect x="39.3" y="602.5" width="10" height="3.4" rx="1.36" fill="#1e1e1e" opacity="1" filter="url(#b0_85)"/>
<rect x="50.8" y="602.5" width="10" height="3.4" rx="1.36" fill="#0f0f0f" opacity="1" filter="url(#b0_85)"/>
<rect x="61" y="602.5" width="10" height="3.4" rx="1.36" fill="#141414" opacity="1" filter="url(#b0_85)"/>
<rect x="71" y="602.5" width="10" height="3.4" rx="1.36" fill="#1e1e1e" opacity="1" filter="url(#b0_85)"/>
<rect x="81" y="602.5" width="10" height="3.4" rx="1.36" fill="#141414" opacity="1" filter="url(#b0_85)"/>
<text x="32.1" y="606.68" font-size="7.5" text-anchor="end" fill="#141414" stroke="#141414" stroke-width="0.15">GAPDH</text>
<line x1="96" y1="539.3" x2="101" y2="539.3" stroke="#111" stroke-width="1.7"/>
<text x="102.8" y="541.98" font-size="7.5" text-anchor="start" fill="#141414" stroke="#141414" stroke-width="0.15">70kDa</text>
<line x1="96" y1="572" x2="101" y2="572" stroke="#111" stroke-width="1.7"/>
<text x="102.8" y="574.68" font-size="7.5" text-anchor="start" fill="#141414" stroke="#141414" stroke-width="0.15">55kDa</text>
<line x1="96" y1="607.9" x2="101" y2="607.9" stroke="#111" stroke-width="1.7"/>
<text x="102.8" y="610.58" font-size="7.5" text-anchor="start" fill="#141414" stroke="#141414" stroke-width="0.15">35kDa</text>
<text transform="translate(176.6,535.8) rotate(-90)" x="0" y="2.69" font-size="7.5" text-anchor="start" fill="#141414" stroke="#141414" stroke-width="0.15">EV</text>
<text transform="translate(188.2,535.8) rotate(-90)" x="0" y="2.69" font-size="7.5" text-anchor="start" fill="#141414" stroke="#141414" stroke-width="0.15">CVS-11 G</text>
<text transform="translate(199.5,535.8) rotate(-90)" x="0" y="2.69" font-size="7.5" text-anchor="start" fill="#141414" stroke="#141414" stroke-width="0.15">DRV-Mexico G</text>
<text transform="translate(210.1,535.8) rotate(-90)" x="0" y="2.69" font-size="7.5" text-anchor="start" fill="#141414" stroke="#141414" stroke-width="0.15">ERA G</text>
<text transform="translate(222,535.8) rotate(-90)" x="0" y="2.69" font-size="7.5" text-anchor="start" fill="#141414" stroke="#141414" stroke-width="0.15">B19 G</text>
<text transform="translate(234.6,535.8) rotate(-90)" x="0" y="2.69" font-size="7.5" text-anchor="start" fill="#141414" stroke="#141414" stroke-width="0.15">Nishi G</text>
<rect x="171.28" y="539.07" width="65.45" height="14.55" fill="#f0f0f0" stroke="#0a0a0a" stroke-width="1.55"/>
<rect x="173.75" y="545" width="8.5" height="2.6" rx="1.04" fill="#282828" opacity="1" filter="url(#b0_85)"/>
<rect x="184.25" y="545" width="8.5" height="2.6" rx="1.04" fill="#c8c8c8" opacity="1" filter="url(#b0_85)"/>
<rect x="194.55" y="545" width="8.5" height="2.6" rx="1.04" fill="#aaaaaa" opacity="1" filter="url(#b0_85)"/>
<rect x="204.75" y="545" width="8.5" height="2.6" rx="1.04" fill="#afafaf" opacity="1" filter="url(#b0_85)"/>
<rect x="215.25" y="545" width="8.5" height="2.6" rx="1.04" fill="#afafaf" opacity="1" filter="url(#b0_85)"/>
<rect x="225.55" y="545" width="8.5" height="2.6" rx="1.04" fill="#aaaaaa" opacity="1" filter="url(#b0_85)"/>
<text x="167.6" y="549.78" font-size="7.5" text-anchor="end" fill="#141414" stroke="#141414" stroke-width="0.15">BMAL1</text>
<text x="178" y="560.5" font-size="4.2" text-anchor="middle" fill="#2a2a2a" stroke="#2a2a2a" stroke-width="0.12">1.00</text>
<text x="188.5" y="560.5" font-size="4.2" text-anchor="middle" fill="#2a2a2a" stroke="#2a2a2a" stroke-width="0.12">0.15</text>
<text x="198.8" y="560.5" font-size="4.2" text-anchor="middle" fill="#2a2a2a" stroke="#2a2a2a" stroke-width="0.12">0.17</text>
<text x="209" y="560.5" font-size="4.2" text-anchor="middle" fill="#2a2a2a" stroke="#2a2a2a" stroke-width="0.12">0.15</text>
<text x="219.5" y="560.5" font-size="4.2" text-anchor="middle" fill="#2a2a2a" stroke="#2a2a2a" stroke-width="0.12">0.10</text>
<text x="229.8" y="560.5" font-size="4.2" text-anchor="middle" fill="#2a2a2a" stroke="#2a2a2a" stroke-width="0.12">0.10</text>
<rect x="171.28" y="563.27" width="65.65" height="23.35" fill="#f3f3f3" stroke="#0a0a0a" stroke-width="1.55"/>
<rect x="181.2" y="577.3" width="10" height="3.8" rx="1.52" fill="#000" opacity="1" filter="url(#b0_80)"/>
<rect x="192.4" y="570.5" width="10" height="3.6" rx="1.44" fill="#000" opacity="1" filter="url(#b0_80)"/>
<rect x="202.2" y="574.4" width="11" height="4.8" rx="1.92" fill="#000" opacity="1" filter="url(#b0_80)"/>
<rect x="212.8" y="574.4" width="11" height="5.2" rx="2.08" fill="#000" opacity="1" filter="url(#b0_80)"/>
<rect x="223.6" y="574.3" width="11" height="5" rx="2" fill="#000" opacity="1" filter="url(#b0_80)"/>
<text x="166.8" y="577.38" font-size="7.5" text-anchor="end" fill="#141414" stroke="#141414" stroke-width="0.15">FLAG</text>
<rect x="171.28" y="591.88" width="65.65" height="14.75" fill="#efefef" stroke="#0a0a0a" stroke-width="1.55"/>
<rect x="173.75" y="598" width="8.5" height="2.6" rx="1.04" fill="#282828" opacity="1" filter="url(#b0_85)"/>
<rect x="184.25" y="598" width="8.5" height="2.6" rx="1.04" fill="#232323" opacity="1" filter="url(#b0_85)"/>
<rect x="194.55" y="598" width="8.5" height="2.6" rx="1.04" fill="#1e1e1e" opacity="1" filter="url(#b0_85)"/>
<rect x="204.75" y="598" width="8.5" height="2.6" rx="1.04" fill="#232323" opacity="1" filter="url(#b0_85)"/>
<rect x="215.25" y="598" width="8.5" height="2.6" rx="1.04" fill="#1e1e1e" opacity="1" filter="url(#b0_85)"/>
<rect x="225.55" y="598" width="8.5" height="2.6" rx="1.04" fill="#1e1e1e" opacity="1" filter="url(#b0_85)"/>
<text x="167.4" y="601.98" font-size="7.5" text-anchor="end" fill="#141414" stroke="#141414" stroke-width="0.15">GAPDH</text>
<line x1="240.4" y1="550.8" x2="245.4" y2="550.8" stroke="#111" stroke-width="1.7"/>
<text x="247.2" y="553.48" font-size="7.5" text-anchor="start" fill="#141414" stroke="#141414" stroke-width="0.15">70kDa</text>
<line x1="240.4" y1="582.2" x2="245.4" y2="582.2" stroke="#111" stroke-width="1.7"/>
<text x="247.2" y="584.88" font-size="7.5" text-anchor="start" fill="#141414" stroke="#141414" stroke-width="0.15">55kDa</text>
<line x1="240.4" y1="601.9" x2="245.4" y2="601.9" stroke="#111" stroke-width="1.7"/>
<text x="247.2" y="604.58" font-size="7.5" text-anchor="start" fill="#141414" stroke="#141414" stroke-width="0.15">35kDa</text>
<text x="336.5" y="498.19" font-size="7.5" text-anchor="end" fill="#141414" stroke="#141414" stroke-width="0.15">HA-Ub-WT</text>
<text x="350.2" y="498.19" font-size="7.5" text-anchor="middle" fill="#141414" stroke="#141414" stroke-width="0.15">+</text>
<text x="363.6" y="498.19" font-size="7.5" text-anchor="middle" fill="#141414" stroke="#141414" stroke-width="0.15">+</text>
<text x="328.4" y="511.29" font-size="7.5" text-anchor="end" fill="#141414" stroke="#141414" stroke-width="0.15">RABV</text>
<text x="350.2" y="510.99" font-size="7.5" text-anchor="middle" fill="#141414" stroke="#141414" stroke-width="0.15">-</text>
<text x="363.6" y="511.29" font-size="7.5" text-anchor="middle" fill="#141414" stroke="#141414" stroke-width="0.15">+</text>
<rect x="340.07" y="517.07" width="32.85" height="53.75" fill="#f1f1f1" stroke="#0a0a0a" stroke-width="1.55"/>
<rect x="340.07" y="574.88" width="32.85" height="14.95" fill="#f1f1f1" stroke="#0a0a0a" stroke-width="1.55"/>
<rect x="340.07" y="593.07" width="32.85" height="54.55" fill="#f1f1f1" stroke="#0a0a0a" stroke-width="1.55"/>
<rect x="340.07" y="652.27" width="32.85" height="14.25" fill="#f1f1f1" stroke="#0a0a0a" stroke-width="1.55"/>
<rect x="340.07" y="670.88" width="32.85" height="14.15" fill="#f5f5f5" stroke="#0a0a0a" stroke-width="1.55"/>
<rect x="340.07" y="689.38" width="32.85" height="15.25" fill="#f1f1f1" stroke="#0a0a0a" stroke-width="1.55"/>
<text x="382.8" y="546.58" font-size="7.5" text-anchor="start" fill="#141414" stroke="#141414" stroke-width="0.15">HA</text>
<text x="382.4" y="585.18" font-size="7.5" text-anchor="start" fill="#141414" stroke="#141414" stroke-width="0.15">FLAG</text>
<text x="382.8" y="619.68" font-size="7.5" text-anchor="start" fill="#141414" stroke="#141414" stroke-width="0.15">HA</text>
<text x="382.4" y="662.88" font-size="7.5" text-anchor="start" fill="#141414" stroke="#141414" stroke-width="0.15">FLAG</text>
<text x="382.4" y="681.48" font-size="7.5" text-anchor="start" fill="#141414" stroke="#141414" stroke-width="0.15">RV-M</text>
<text x="381.3" y="699.08" font-size="7.5" text-anchor="start" fill="#141414" stroke="#141414" stroke-width="0.15">GAPDH</text>
<line x1="332.3" y1="535.5" x2="337.3" y2="535.5" stroke="#111" stroke-width="1.7"/>
<text x="331" y="538.18" font-size="7.5" text-anchor="end" fill="#141414" stroke="#141414" stroke-width="0.15">100kDa</text>
<line x1="332.3" y1="545.8" x2="337.3" y2="545.8" stroke="#111" stroke-width="1.7"/>
<text x="331" y="548.48" font-size="7.5" text-anchor="end" fill="#141414" stroke="#141414" stroke-width="0.15">70kDa</text>
<line x1="332.3" y1="586.9" x2="337.3" y2="586.9" stroke="#111" stroke-width="1.7"/>
<text x="331" y="589.58" font-size="7.5" text-anchor="end" fill="#141414" stroke="#141414" stroke-width="0.15">70kDa</text>
<line x1="332.3" y1="613.1" x2="337.3" y2="613.1" stroke="#111" stroke-width="1.7"/>
<text x="331" y="615.78" font-size="7.5" text-anchor="end" fill="#141414" stroke="#141414" stroke-width="0.15">100kDa</text>
<line x1="332.3" y1="622.8" x2="337.3" y2="622.8" stroke="#111" stroke-width="1.7"/>
<text x="331" y="625.48" font-size="7.5" text-anchor="end" fill="#141414" stroke="#141414" stroke-width="0.15">70kDa</text>
<line x1="332.3" y1="633.5" x2="337.3" y2="633.5" stroke="#111" stroke-width="1.7"/>
<text x="331" y="636.18" font-size="7.5" text-anchor="end" fill="#141414" stroke="#141414" stroke-width="0.15">55kDa</text>
<line x1="332.3" y1="664.8" x2="337.3" y2="664.8" stroke="#111" stroke-width="1.7"/>
<text x="331" y="667.48" font-size="7.5" text-anchor="end" fill="#141414" stroke="#141414" stroke-width="0.15">70kDa</text>
<line x1="332.3" y1="684.3" x2="337.3" y2="684.3" stroke="#111" stroke-width="1.7"/>
<text x="331" y="686.98" font-size="7.5" text-anchor="end" fill="#141414" stroke="#141414" stroke-width="0.15">15kDa</text>
<line x1="332.3" y1="701.8" x2="337.3" y2="701.8" stroke="#111" stroke-width="1.7"/>
<text x="331" y="704.48" font-size="7.5" text-anchor="end" fill="#141414" stroke="#141414" stroke-width="0.15">35kDa</text>
<text transform="translate(294,558.5) rotate(-90)" x="0" y="2.69" font-size="7.5" text-anchor="middle" fill="#141414" stroke="#141414" stroke-width="0.15">IP:FLAG</text>
<line x1="301" y1="541.5" x2="301" y2="577.1" stroke="#222" stroke-width="1.2"/>
<text transform="translate(292.7,654.3) rotate(-90)" x="0" y="2.69" font-size="7.5" text-anchor="middle" fill="#141414" stroke="#141414" stroke-width="0.15">WCL</text>
<line x1="301" y1="621.5" x2="301" y2="693.7" stroke="#222" stroke-width="1.2"/>
<polygon points="344.7,520.5 357.6,520.5 356.4,556 345.9,556" fill="url(#sm1)" filter="url(#b1_10)"/>
<polygon points="358,520.5 369.6,520.5 368.4,554 359.2,554" fill="url(#sm2)" filter="url(#b1_10)"/>
<rect x="343.85" y="578.8" width="13.5" height="6.6" rx="2.64" fill="#000" opacity="1" filter="url(#b0_80)"/>
<rect x="357.5" y="579" width="13" height="6.2" rx="2.48" fill="#000" opacity="1" filter="url(#b0_80)"/>
<polygon points="344.3,595.5 354.9,595.5 354.3,646 344.9,646" fill="url(#sm3)" filter="url(#b0_90)"/>
<polygon points="355.1,595.5 365.9,595.5 365.3,646 355.7,646" fill="url(#sm4)" filter="url(#b0_90)"/>
<rect x="343.75" y="657.9" width="12.5" height="3.8" rx="1.52" fill="#050505" opacity="1" filter="url(#b0_70)"/>
<rect x="355.5" y="657.5" width="13" height="4" rx="1.6" fill="#050505" opacity="1" filter="url(#b0_70)"/>
<rect x="360.15" y="675.9" width="9.3" height="3.4" rx="1.36" fill="#000" opacity="1" filter="url(#b0_80)"/>
<rect x="343.75" y="695.9" width="10.5" height="2.6" rx="1.04" fill="#1a1a1a" opacity="1" filter="url(#b0_80)"/>
<rect x="359.05" y="695.8" width="11.5" height="2.8" rx="1.12" fill="#1a1a1a" opacity="1" filter="url(#b0_80)"/>
<text x="458.1" y="499.88" font-size="7.5" text-anchor="end" fill="#141414" stroke="#141414" stroke-width="0.15">HA-Ub-K48</text>
<text x="475.6" y="499.88" font-size="7.5" text-anchor="middle" fill="#141414" stroke="#141414" stroke-width="0.15">+</text>
<text x="489.2" y="499.88" font-size="7.5" text-anchor="middle" fill="#141414" stroke="#141414" stroke-width="0.15">+</text>
<text x="454.1" y="511.99" font-size="7.5" text-anchor="end" fill="#141414" stroke="#141414" stroke-width="0.15">RABV</text>
<text x="475.6" y="511.69" font-size="7.5" text-anchor="middle" fill="#141414" stroke="#141414" stroke-width="0.15">-</text>
<text x="489.2" y="511.99" font-size="7.5" text-anchor="middle" fill="#141414" stroke="#141414" stroke-width="0.15">+</text>
<rect x="466.27" y="517.07" width="32.65" height="53.75" fill="#f1f1f1" stroke="#0a0a0a" stroke-width="1.55"/>
<rect x="466.27" y="574.88" width="32.65" height="14.95" fill="#f1f1f1" stroke="#0a0a0a" stroke-width="1.55"/>
<rect x="466.27" y="593.07" width="32.65" height="54.55" fill="#f1f1f1" stroke="#0a0a0a" stroke-width="1.55"/>
<rect x="466.27" y="652.27" width="32.65" height="14.25" fill="#f1f1f1" stroke="#0a0a0a" stroke-width="1.55"/>
<rect x="466.27" y="670.88" width="32.65" height="14.15" fill="#f5f5f5" stroke="#0a0a0a" stroke-width="1.55"/>
<rect x="466.27" y="689.38" width="32.65" height="15.25" fill="#f1f1f1" stroke="#0a0a0a" stroke-width="1.55"/>
<text x="506.4" y="545.48" font-size="7.5" text-anchor="start" fill="#141414" stroke="#141414" stroke-width="0.15">HA</text>
<text x="506" y="585.18" font-size="7.5" text-anchor="start" fill="#141414" stroke="#141414" stroke-width="0.15">FLAG</text>
<text x="506.4" y="619.68" font-size="7.5" text-anchor="start" fill="#141414" stroke="#141414" stroke-width="0.15">HA</text>
<text x="506" y="662.88" font-size="7.5" text-anchor="start" fill="#141414" stroke="#141414" stroke-width="0.15">FLAG</text>
<text x="506" y="681.48" font-size="7.5" text-anchor="start" fill="#141414" stroke="#141414" stroke-width="0.15">RV-M</text>
<text x="504.9" y="699.08" font-size="7.5" text-anchor="start" fill="#141414" stroke="#141414" stroke-width="0.15">GAPDH</text>
<line x1="458.5" y1="542.1" x2="463.5" y2="542.1" stroke="#111" stroke-width="1.7"/>
<text x="457.2" y="544.78" font-size="7.5" text-anchor="end" fill="#141414" stroke="#141414" stroke-width="0.15">100kDa</text>
<line x1="458.5" y1="553.1" x2="463.5" y2="553.1" stroke="#111" stroke-width="1.7"/>
<text x="457.2" y="555.78" font-size="7.5" text-anchor="end" fill="#141414" stroke="#141414" stroke-width="0.15">70kDa</text>
<line x1="458.5" y1="586.9" x2="463.5" y2="586.9" stroke="#111" stroke-width="1.7"/>
<text x="457.2" y="589.58" font-size="7.5" text-anchor="end" fill="#141414" stroke="#141414" stroke-width="0.15">70kDa</text>
<line x1="458.5" y1="615.3" x2="463.5" y2="615.3" stroke="#111" stroke-width="1.7"/>
<text x="457.2" y="617.98" font-size="7.5" text-anchor="end" fill="#141414" stroke="#141414" stroke-width="0.15">100kDa</text>
<line x1="458.5" y1="625.2" x2="463.5" y2="625.2" stroke="#111" stroke-width="1.7"/>
<text x="457.2" y="627.88" font-size="7.5" text-anchor="end" fill="#141414" stroke="#141414" stroke-width="0.15">70kDa</text>
<line x1="458.5" y1="635.3" x2="463.5" y2="635.3" stroke="#111" stroke-width="1.7"/>
<text x="457.2" y="637.98" font-size="7.5" text-anchor="end" fill="#141414" stroke="#141414" stroke-width="0.15">55kDa</text>
<line x1="458.5" y1="664.8" x2="463.5" y2="664.8" stroke="#111" stroke-width="1.7"/>
<text x="457.2" y="667.48" font-size="7.5" text-anchor="end" fill="#141414" stroke="#141414" stroke-width="0.15">70kDa</text>
<line x1="458.5" y1="683.9" x2="463.5" y2="683.9" stroke="#111" stroke-width="1.7"/>
<text x="457.2" y="686.58" font-size="7.5" text-anchor="end" fill="#141414" stroke="#141414" stroke-width="0.15">15kDa</text>
<line x1="458.5" y1="701.8" x2="463.5" y2="701.8" stroke="#111" stroke-width="1.7"/>
<text x="457.2" y="704.48" font-size="7.5" text-anchor="end" fill="#141414" stroke="#141414" stroke-width="0.15">35kDa</text>
<text transform="translate(420.2,564.5) rotate(-90)" x="0" y="2.69" font-size="7.5" text-anchor="middle" fill="#141414" stroke="#141414" stroke-width="0.15">IP:FLAG</text>
<line x1="427.4" y1="548.7" x2="427.4" y2="584.4" stroke="#222" stroke-width="1.2"/>
<text transform="translate(421.3,659.8) rotate(-90)" x="0" y="2.69" font-size="7.5" text-anchor="middle" fill="#141414" stroke="#141414" stroke-width="0.15">WCL</text>
<line x1="427.4" y1="626.5" x2="427.4" y2="698.1" stroke="#222" stroke-width="1.2"/>
<polygon points="470,521.5 481.3,521.5 480.1,556 471.2,556" fill="url(#sm5)" filter="url(#b1_10)"/>
<polygon points="482.9,521.5 493.7,521.5 492.5,556 484.1,556" fill="url(#sm6)" filter="url(#b1_10)"/>
<rect x="470.5" y="580.3" width="12" height="3.8" rx="1.52" fill="#000" opacity="1" filter="url(#b0_70)"/>
<rect x="482.7" y="580.3" width="12" height="3.8" rx="1.52" fill="#000" opacity="1" filter="url(#b0_70)"/>
<polygon points="468.5,596.5 483.1,596.5 481.5,647.5 470.1,647.5" fill="url(#sm7)" filter="url(#b0_90)"/>
<polygon points="482.1,596.5 496.7,596.5 495.1,647.5 483.7,647.5" fill="url(#sm8)" filter="url(#b0_90)"/>
<rect x="469" y="657.6" width="14" height="4" rx="1.6" fill="#050505" opacity="1" filter="url(#b0_70)"/>
<rect x="482" y="658" width="14" height="3.8" rx="1.52" fill="#050505" opacity="1" filter="url(#b0_70)"/>
<rect x="485.25" y="674.7" width="10.5" height="3.4" rx="1.36" fill="#000" opacity="1" filter="url(#b0_80)"/>
<rect x="468.75" y="695.7" width="11.5" height="2.6" rx="1.04" fill="#1a1a1a" opacity="1" filter="url(#b0_80)"/>
<rect x="485.05" y="695.7" width="11.5" height="2.6" rx="1.04" fill="#1a1a1a" opacity="1" filter="url(#b0_80)"/>
<rect x="76.4" y="30.4" width="152.2" height="31.8" fill="#ffffff" stroke="none" stroke-width="1"/>
<rect x="114.45" y="30.4" width="38.05" height="31.8" fill="#858585" stroke="none" stroke-width="1"/>
<rect x="190.55" y="30.4" width="38.05" height="31.8" fill="#858585" stroke="none" stroke-width="1"/>
<path d="M77.41 38.05h0.55v-4.25h-0.55zM84.01 38.05h0.55v-3.50h-0.55zM87.56 38.05h0.55v-3.63h-0.55zM88.07 38.05h0.55v-4.24h-0.55zM95.68 38.05h0.55v-4.52h-0.55zM96.19 38.05h0.55v-3.75h-0.55zM96.69 38.05h0.55v-4.15h-0.55zM100.75 38.05h0.55v-3.79h-0.55zM101.26 38.05h0.55v-4.29h-0.55zM101.77 38.05h0.55v-5.11h-0.55zM102.27 38.05h0.55v-4.48h-0.55zM102.78 38.05h0.55v-3.52h-0.55zM105.83 38.05h0.55v-3.05h-0.55zM108.36 38.05h0.55v-4.15h-0.55zM112.93 38.05h0.55v-3.31h-0.55zM113.44 38.05h0.55v-3.26h-0.55zM113.94 38.05h0.55v-3.12h-0.55zM154.53 38.05h0.55v-3.14h-0.55zM155.04 38.05h0.55v-3.21h-0.55zM155.54 38.05h0.55v-2.33h-0.55zM156.05 38.05h0.55v-2.70h-0.55zM157.07 38.05h0.55v-4.10h-0.55zM157.57 38.05h0.55v-4.29h-0.55zM158.08 38.05h0.55v-3.94h-0.55zM159.60 38.05h0.55v-2.39h-0.55zM169.24 38.05h0.55v-4.10h-0.55zM172.29 38.05h0.55v-4.13h-0.55zM173.30 38.05h0.55v-3.74h-0.55zM176.34 38.05h0.55v-3.53h-0.55zM188.01 38.05h0.55v-4.98h-0.55zM188.52 38.05h0.55v-4.25h-0.55z" fill="#f20000"/>
<path d="M114.45 38.05h0.55v-4.56h-0.55zM114.96 38.05h0.55v-4.78h-0.55zM115.46 38.05h0.55v-5.32h-0.55zM115.97 38.05h0.55v-6.03h-0.55zM116.48 38.05h0.55v-6.52h-0.55zM116.99 38.05h0.55v-5.74h-0.55zM117.49 38.05h0.55v-5.11h-0.55zM118.00 38.05h0.55v-4.07h-0.55zM118.51 38.05h0.55v-4.10h-0.55zM119.02 38.05h0.55v-3.98h-0.55zM120.03 38.05h0.55v-6.28h-0.55zM120.54 38.05h0.55v-6.39h-0.55zM121.05 38.05h0.55v-5.61h-0.55zM121.55 38.05h0.55v-5.69h-0.55zM122.06 38.05h0.55v-6.10h-0.55zM122.57 38.05h0.55v-6.23h-0.55zM123.07 38.05h0.55v-5.68h-0.55zM123.58 38.05h0.55v-5.32h-0.55zM124.09 38.05h0.55v-5.58h-0.55zM124.60 38.05h0.55v-5.88h-0.55zM125.10 38.05h0.55v-6.15h-0.55zM125.61 38.05h0.55v-6.40h-0.55zM126.12 38.05h0.55v-5.73h-0.55zM126.63 38.05h0.55v-5.83h-0.55zM127.13 38.05h0.55v-6.02h-0.55zM127.64 38.05h0.55v-6.06h-0.55zM128.15 38.05h0.55v-5.94h-0.55zM128.66 38.05h0.55v-5.52h-0.55zM129.16 38.05h0.55v-5.74h-0.55zM129.67 38.05h0.55v-6.26h-0.55zM130.18 38.05h0.55v-6.11h-0.55zM130.68 38.05h0.55v-6.26h-0.55zM131.19 38.05h0.55v-6.19h-0.55zM131.70 38.05h0.55v-5.67h-0.55zM132.21 38.05h0.55v-6.11h-0.55zM132.71 38.05h0.55v-5.20h-0.55zM133.22 38.05h0.55v-5.64h-0.55zM133.73 38.05h0.55v-5.18h-0.55zM134.24 38.05h0.55v-5.61h-0.55zM134.74 38.05h0.55v-5.19h-0.55zM135.25 38.05h0.55v-4.96h-0.55zM135.76 38.05h0.55v-4.79h-0.55zM136.27 38.05h0.55v-5.93h-0.55zM136.77 38.05h0.55v-6.57h-0.55zM137.28 38.05h0.55v-6.80h-0.55zM137.79 38.05h0.55v-6.77h-0.55zM138.29 38.05h0.55v-6.72h-0.55zM138.80 38.05h0.55v-6.51h-0.55zM139.31 38.05h0.55v-5.62h-0.55zM139.82 38.05h0.55v-5.31h-0.55zM140.32 38.05h0.55v-5.24h-0.55zM140.83 38.05h0.55v-5.10h-0.55zM141.34 38.05h0.55v-5.57h-0.55zM141.85 38.05h0.55v-6.29h-0.55zM142.35 38.05h0.55v-6.83h-0.55zM142.86 38.05h0.55v-6.46h-0.55zM143.37 38.05h0.55v-6.14h-0.55zM143.88 38.05h0.55v-6.55h-0.55zM147.43 38.05h0.55v-4.89h-0.55zM147.93 38.05h0.55v-4.67h-0.55zM148.44 38.05h0.55v-5.37h-0.55zM150.98 38.05h0.55v-6.59h-0.55zM190.55 38.05h0.55v-5.58h-0.55zM191.06 38.05h0.55v-6.57h-0.55zM191.56 38.05h0.55v-6.52h-0.55zM192.07 38.05h0.55v-5.96h-0.55zM192.58 38.05h0.55v-5.64h-0.55zM193.09 38.05h0.55v-5.18h-0.55zM193.59 38.05h0.55v-6.07h-0.55zM194.10 38.05h0.55v-5.33h-0.55zM194.61 38.05h0.55v-5.42h-0.55zM195.12 38.05h0.55v-5.22h-0.55zM195.62 38.05h0.55v-5.38h-0.55zM196.13 38.05h0.55v-5.76h-0.55zM196.64 38.05h0.55v-5.78h-0.55zM197.15 38.05h0.55v-6.41h-0.55zM197.65 38.05h0.55v-6.65h-0.55zM198.67 38.05h0.55v-5.71h-0.55zM199.17 38.05h0.55v-4.94h-0.55zM199.68 38.05h0.55v-4.90h-0.55zM200.19 38.05h0.55v-4.78h-0.55zM200.70 38.05h0.55v-5.37h-0.55zM201.20 38.05h0.55v-4.95h-0.55zM201.71 38.05h0.55v-4.95h-0.55zM202.22 38.05h0.55v-5.25h-0.55zM204.25 38.05h0.55v-5.70h-0.55zM204.76 38.05h0.55v-6.10h-0.55zM205.26 38.05h0.55v-6.02h-0.55zM205.77 38.05h0.55v-5.59h-0.55zM206.28 38.05h0.55v-5.86h-0.55zM206.78 38.05h0.55v-5.56h-0.55zM207.29 38.05h0.55v-6.17h-0.55zM207.80 38.05h0.55v-5.85h-0.55zM208.31 38.05h0.55v-6.05h-0.55zM208.81 38.05h0.55v-5.84h-0.55zM209.32 38.05h0.55v-5.26h-0.55zM209.83 38.05h0.55v-5.54h-0.55zM210.34 38.05h0.55v-5.26h-0.55zM210.84 38.05h0.55v-5.47h-0.55zM211.35 38.05h0.55v-6.02h-0.55zM211.86 38.05h0.55v-6.15h-0.55zM212.37 38.05h0.55v-6.06h-0.55zM212.87 38.05h0.55v-5.20h-0.55zM213.38 38.05h0.55v-4.27h-0.55zM213.89 38.05h0.55v-4.90h-0.55zM214.39 38.05h0.55v-4.94h-0.55zM214.90 38.05h0.55v-5.55h-0.55zM215.41 38.05h0.55v-5.84h-0.55zM215.92 38.05h0.55v-6.58h-0.55zM216.42 38.05h0.55v-6.14h-0.55zM220.48 38.05h0.55v-5.68h-0.55zM220.99 38.05h0.55v-5.23h-0.55zM221.50 38.05h0.55v-5.03h-0.55zM222.51 38.05h0.55v-5.41h-0.55zM223.02 38.05h0.55v-6.28h-0.55zM223.53 38.05h0.55v-6.47h-0.55zM224.03 38.05h0.55v-6.30h-0.55zM224.54 38.05h0.55v-5.55h-0.55zM225.05 38.05h0.55v-5.50h-0.55zM225.56 38.05h0.55v-5.88h-0.55zM226.06 38.05h0.55v-5.61h-0.55zM226.57 38.05h0.55v-5.43h-0.55zM227.08 38.05h0.55v-5.23h-0.55zM227.59 38.05h0.55v-6.13h-0.55zM228.09 38.05h0.55v-5.41h-0.55z" fill="#840606"/>
<path d="M77.92 46.00h0.55v-3.43h-0.55zM80.46 46.00h0.55v-3.05h-0.55zM83.00 46.00h0.55v-4.46h-0.55zM96.19 46.00h0.55v-3.50h-0.55zM96.69 46.00h0.55v-4.53h-0.55zM100.24 46.00h0.55v-3.90h-0.55zM107.85 46.00h0.55v-4.39h-0.55zM108.36 46.00h0.55v-5.04h-0.55zM110.39 46.00h0.55v-4.56h-0.55zM110.90 46.00h0.55v-3.38h-0.55zM111.41 46.00h0.55v-3.86h-0.55zM111.91 46.00h0.55v-3.18h-0.55zM112.93 46.00h0.55v-3.46h-0.55zM113.44 46.00h0.55v-3.57h-0.55zM155.54 46.00h0.55v-3.86h-0.55zM158.59 46.00h0.55v-2.94h-0.55zM159.10 46.00h0.55v-3.73h-0.55zM159.60 46.00h0.55v-4.29h-0.55zM160.11 46.00h0.55v-4.26h-0.55zM160.62 46.00h0.55v-4.04h-0.55zM161.12 46.00h0.55v-3.90h-0.55zM161.63 46.00h0.55v-4.69h-0.55zM162.65 46.00h0.55v-3.12h-0.55zM164.68 46.00h0.55v-3.84h-0.55zM166.20 46.00h0.55v-3.71h-0.55zM166.71 46.00h0.55v-3.97h-0.55zM167.21 46.00h0.55v-3.62h-0.55zM167.72 46.00h0.55v-3.48h-0.55zM169.75 46.00h0.55v-3.75h-0.55zM170.26 46.00h0.55v-3.23h-0.55zM170.76 46.00h0.55v-4.21h-0.55zM171.27 46.00h0.55v-4.52h-0.55zM178.37 46.00h0.55v-3.81h-0.55zM178.88 46.00h0.55v-3.31h-0.55zM180.91 46.00h0.55v-4.61h-0.55zM181.42 46.00h0.55v-4.78h-0.55zM181.93 46.00h0.55v-4.59h-0.55zM182.43 46.00h0.55v-4.36h-0.55zM182.94 46.00h0.55v-3.59h-0.55zM184.97 46.00h0.55v-2.78h-0.55zM185.48 46.00h0.55v-3.41h-0.55zM185.98 46.00h0.55v-3.53h-0.55zM186.49 46.00h0.55v-3.97h-0.55z" fill="#f20000"/>
<path d="M114.45 46.00h0.55v-6.28h-0.55zM114.96 46.00h0.55v-6.68h-0.55zM115.97 46.00h0.55v-6.68h-0.55zM116.48 46.00h0.55v-6.22h-0.55zM116.99 46.00h0.55v-6.54h-0.55zM117.49 46.00h0.55v-5.82h-0.55zM118.00 46.00h0.55v-5.67h-0.55zM118.51 46.00h0.55v-5.60h-0.55zM119.02 46.00h0.55v-5.33h-0.55zM119.52 46.00h0.55v-5.78h-0.55zM120.03 46.00h0.55v-5.68h-0.55zM120.54 46.00h0.55v-5.88h-0.55zM121.05 46.00h0.55v-6.15h-0.55zM123.58 46.00h0.55v-6.00h-0.55zM126.12 46.00h0.55v-6.56h-0.55zM126.63 46.00h0.55v-6.55h-0.55zM127.13 46.00h0.55v-6.34h-0.55zM127.64 46.00h0.55v-6.12h-0.55zM128.15 46.00h0.55v-6.14h-0.55zM128.66 46.00h0.55v-6.87h-0.55zM129.16 46.00h0.55v-6.25h-0.55zM129.67 46.00h0.55v-5.63h-0.55zM130.18 46.00h0.55v-5.31h-0.55zM130.68 46.00h0.55v-5.60h-0.55zM131.19 46.00h0.55v-5.58h-0.55zM133.73 46.00h0.55v-5.56h-0.55zM134.24 46.00h0.55v-6.29h-0.55zM134.74 46.00h0.55v-5.93h-0.55zM135.25 46.00h0.55v-5.66h-0.55zM135.76 46.00h0.55v-5.56h-0.55zM136.27 46.00h0.55v-6.38h-0.55zM136.77 46.00h0.55v-6.13h-0.55zM137.28 46.00h0.55v-5.91h-0.55zM137.79 46.00h0.55v-5.02h-0.55zM138.29 46.00h0.55v-6.02h-0.55zM138.80 46.00h0.55v-5.55h-0.55zM139.31 46.00h0.55v-6.13h-0.55zM139.82 46.00h0.55v-5.60h-0.55zM140.32 46.00h0.55v-5.89h-0.55zM140.83 46.00h0.55v-5.43h-0.55zM141.34 46.00h0.55v-5.29h-0.55zM141.85 46.00h0.55v-4.99h-0.55zM142.35 46.00h0.55v-5.50h-0.55zM142.86 46.00h0.55v-5.58h-0.55zM143.37 46.00h0.55v-5.93h-0.55zM143.88 46.00h0.55v-5.84h-0.55zM144.38 46.00h0.55v-6.11h-0.55zM144.89 46.00h0.55v-6.52h-0.55zM145.40 46.00h0.55v-6.51h-0.55zM145.90 46.00h0.55v-6.39h-0.55zM146.92 46.00h0.55v-6.02h-0.55zM147.43 46.00h0.55v-5.87h-0.55zM147.93 46.00h0.55v-5.44h-0.55zM148.44 46.00h0.55v-5.42h-0.55zM148.95 46.00h0.55v-5.22h-0.55zM149.46 46.00h0.55v-5.72h-0.55zM149.96 46.00h0.55v-6.11h-0.55zM150.47 46.00h0.55v-6.69h-0.55zM151.99 46.00h0.55v-5.22h-0.55zM190.55 46.00h0.55v-5.88h-0.55zM191.06 46.00h0.55v-5.56h-0.55zM191.56 46.00h0.55v-4.36h-0.55zM192.07 46.00h0.55v-4.16h-0.55zM192.58 46.00h0.55v-4.09h-0.55zM194.10 46.00h0.55v-6.51h-0.55zM194.61 46.00h0.55v-6.54h-0.55zM195.62 46.00h0.55v-6.61h-0.55zM196.13 46.00h0.55v-5.77h-0.55zM196.64 46.00h0.55v-5.37h-0.55zM197.15 46.00h0.55v-5.26h-0.55zM197.65 46.00h0.55v-6.05h-0.55zM198.16 46.00h0.55v-6.05h-0.55zM198.67 46.00h0.55v-5.87h-0.55zM199.17 46.00h0.55v-5.20h-0.55zM199.68 46.00h0.55v-5.21h-0.55zM200.70 46.00h0.55v-6.10h-0.55zM201.20 46.00h0.55v-6.81h-0.55zM201.71 46.00h0.55v-6.80h-0.55zM202.22 46.00h0.55v-5.86h-0.55zM202.73 46.00h0.55v-5.01h-0.55zM203.23 46.00h0.55v-5.12h-0.55zM203.74 46.00h0.55v-6.18h-0.55zM204.25 46.00h0.55v-6.04h-0.55zM204.76 46.00h0.55v-6.23h-0.55zM205.26 46.00h0.55v-6.18h-0.55zM205.77 46.00h0.55v-6.12h-0.55zM206.28 46.00h0.55v-6.20h-0.55zM206.78 46.00h0.55v-5.89h-0.55zM207.29 46.00h0.55v-6.69h-0.55zM207.80 46.00h0.55v-6.45h-0.55zM208.31 46.00h0.55v-6.54h-0.55zM208.81 46.00h0.55v-6.57h-0.55zM209.32 46.00h0.55v-6.66h-0.55zM215.41 46.00h0.55v-5.69h-0.55zM215.92 46.00h0.55v-6.06h-0.55zM216.42 46.00h0.55v-5.96h-0.55zM216.93 46.00h0.55v-5.89h-0.55zM217.44 46.00h0.55v-5.86h-0.55zM219.47 46.00h0.55v-5.90h-0.55zM219.98 46.00h0.55v-5.58h-0.55zM220.48 46.00h0.55v-5.84h-0.55zM220.99 46.00h0.55v-5.36h-0.55zM221.50 46.00h0.55v-6.23h-0.55zM222.00 46.00h0.55v-6.14h-0.55zM222.51 46.00h0.55v-5.61h-0.55zM223.02 46.00h0.55v-5.34h-0.55zM223.53 46.00h0.55v-6.09h-0.55zM224.03 46.00h0.55v-6.45h-0.55zM224.54 46.00h0.55v-6.74h-0.55zM225.05 46.00h0.55v-6.09h-0.55zM225.56 46.00h0.55v-6.54h-0.55zM226.06 46.00h0.55v-5.44h-0.55zM226.57 46.00h0.55v-5.86h-0.55zM227.08 46.00h0.55v-5.86h-0.55zM227.59 46.00h0.55v-6.17h-0.55zM228.09 46.00h0.55v-5.39h-0.55z" fill="#840606"/>
<path d="M81.98 53.95h0.55v-5.31h-0.55zM82.49 53.95h0.55v-4.36h-0.55zM83.00 53.95h0.55v-4.02h-0.55zM83.50 53.95h0.55v-3.82h-0.55zM86.04 53.95h0.55v-3.78h-0.55zM91.11 53.95h0.55v-3.28h-0.55zM91.62 53.95h0.55v-3.13h-0.55zM92.13 53.95h0.55v-2.91h-0.55zM92.63 53.95h0.55v-3.29h-0.55zM100.75 53.95h0.55v-3.99h-0.55zM102.27 53.95h0.55v-3.73h-0.55zM102.78 53.95h0.55v-3.89h-0.55zM103.29 53.95h0.55v-2.98h-0.55zM103.80 53.95h0.55v-2.53h-0.55zM108.87 53.95h0.55v-3.39h-0.55zM109.38 53.95h0.55v-3.48h-0.55zM109.88 53.95h0.55v-4.02h-0.55zM161.63 53.95h0.55v-3.80h-0.55zM181.42 53.95h0.55v-5.39h-0.55zM182.94 53.95h0.55v-3.20h-0.55zM189.54 53.95h0.55v-5.43h-0.55z" fill="#f20000"/>
<path d="M114.45 53.95h0.55v-5.14h-0.55zM114.96 53.95h0.55v-5.35h-0.55zM115.46 53.95h0.55v-6.33h-0.55zM115.97 53.95h0.55v-6.55h-0.55zM116.48 53.95h0.55v-6.00h-0.55zM116.99 53.95h0.55v-5.38h-0.55zM117.49 53.95h0.55v-5.44h-0.55zM118.51 53.95h0.55v-5.82h-0.55zM119.02 53.95h0.55v-4.91h-0.55zM119.52 53.95h0.55v-4.59h-0.55zM120.03 53.95h0.55v-5.14h-0.55zM120.54 53.95h0.55v-5.28h-0.55zM121.05 53.95h0.55v-4.98h-0.55zM121.55 53.95h0.55v-4.85h-0.55zM122.06 53.95h0.55v-5.67h-0.55zM124.60 53.95h0.55v-6.27h-0.55zM125.10 53.95h0.55v-5.41h-0.55zM125.61 53.95h0.55v-5.57h-0.55zM126.12 53.95h0.55v-4.57h-0.55zM126.63 53.95h0.55v-4.92h-0.55zM127.13 53.95h0.55v-4.78h-0.55zM130.18 53.95h0.55v-5.75h-0.55zM130.68 53.95h0.55v-5.90h-0.55zM133.22 53.95h0.55v-4.66h-0.55zM133.73 53.95h0.55v-5.46h-0.55zM134.24 53.95h0.55v-5.94h-0.55zM134.74 53.95h0.55v-6.65h-0.55zM135.25 53.95h0.55v-6.31h-0.55zM135.76 53.95h0.55v-5.52h-0.55zM136.27 53.95h0.55v-5.61h-0.55zM136.77 53.95h0.55v-5.21h-0.55zM137.28 53.95h0.55v-5.47h-0.55zM137.79 53.95h0.55v-4.24h-0.55zM138.29 53.95h0.55v-4.70h-0.55zM138.80 53.95h0.55v-5.33h-0.55zM139.31 53.95h0.55v-6.35h-0.55zM139.82 53.95h0.55v-6.51h-0.55zM140.32 53.95h0.55v-5.86h-0.55zM140.83 53.95h0.55v-5.81h-0.55zM141.34 53.95h0.55v-5.27h-0.55zM141.85 53.95h0.55v-5.42h-0.55zM142.35 53.95h0.55v-4.51h-0.55zM142.86 53.95h0.55v-5.56h-0.55zM143.37 53.95h0.55v-5.80h-0.55zM143.88 53.95h0.55v-6.48h-0.55zM144.38 53.95h0.55v-6.13h-0.55zM144.89 53.95h0.55v-6.20h-0.55zM145.40 53.95h0.55v-6.14h-0.55zM145.90 53.95h0.55v-5.76h-0.55zM146.41 53.95h0.55v-5.52h-0.55zM146.92 53.95h0.55v-5.66h-0.55zM147.43 53.95h0.55v-6.10h-0.55zM147.93 53.95h0.55v-6.22h-0.55zM148.44 53.95h0.55v-5.91h-0.55zM148.95 53.95h0.55v-6.07h-0.55zM149.46 53.95h0.55v-6.43h-0.55zM149.96 53.95h0.55v-6.30h-0.55zM150.47 53.95h0.55v-6.16h-0.55zM150.98 53.95h0.55v-5.63h-0.55zM190.55 53.95h0.55v-6.87h-0.55zM191.06 53.95h0.55v-6.07h-0.55zM191.56 53.95h0.55v-5.33h-0.55zM192.07 53.95h0.55v-4.41h-0.55zM192.58 53.95h0.55v-4.40h-0.55zM193.09 53.95h0.55v-4.91h-0.55zM193.59 53.95h0.55v-5.41h-0.55zM194.10 53.95h0.55v-6.03h-0.55zM194.61 53.95h0.55v-5.78h-0.55zM195.12 53.95h0.55v-5.98h-0.55zM196.13 53.95h0.55v-5.44h-0.55zM196.64 53.95h0.55v-5.62h-0.55zM197.15 53.95h0.55v-5.54h-0.55zM197.65 53.95h0.55v-5.88h-0.55zM198.16 53.95h0.55v-5.26h-0.55zM198.67 53.95h0.55v-5.69h-0.55zM199.17 53.95h0.55v-5.28h-0.55zM200.70 53.95h0.55v-5.41h-0.55zM201.20 53.95h0.55v-6.09h-0.55zM201.71 53.95h0.55v-5.46h-0.55zM202.22 53.95h0.55v-5.79h-0.55zM202.73 53.95h0.55v-5.06h-0.55zM203.74 53.95h0.55v-6.27h-0.55zM204.25 53.95h0.55v-7.03h-0.55zM204.76 53.95h0.55v-6.39h-0.55zM205.26 53.95h0.55v-6.07h-0.55zM205.77 53.95h0.55v-6.28h-0.55zM206.28 53.95h0.55v-6.69h-0.55zM206.78 53.95h0.55v-6.71h-0.55zM207.29 53.95h0.55v-5.68h-0.55zM207.80 53.95h0.55v-4.81h-0.55zM208.31 53.95h0.55v-4.77h-0.55zM209.32 53.95h0.55v-5.88h-0.55zM209.83 53.95h0.55v-5.37h-0.55zM210.34 53.95h0.55v-5.16h-0.55zM210.84 53.95h0.55v-5.65h-0.55zM211.86 53.95h0.55v-6.56h-0.55zM212.37 53.95h0.55v-5.79h-0.55zM212.87 53.95h0.55v-5.98h-0.55zM213.38 53.95h0.55v-5.60h-0.55zM213.89 53.95h0.55v-6.18h-0.55zM216.42 53.95h0.55v-5.13h-0.55zM216.93 53.95h0.55v-4.08h-0.55zM217.44 53.95h0.55v-4.33h-0.55zM217.95 53.95h0.55v-5.24h-0.55zM218.45 53.95h0.55v-5.73h-0.55zM218.96 53.95h0.55v-6.29h-0.55zM219.47 53.95h0.55v-6.17h-0.55zM219.98 53.95h0.55v-6.19h-0.55zM220.48 53.95h0.55v-5.61h-0.55zM220.99 53.95h0.55v-5.91h-0.55zM221.50 53.95h0.55v-6.14h-0.55zM222.00 53.95h0.55v-6.73h-0.55zM222.51 53.95h0.55v-6.80h-0.55zM223.02 53.95h0.55v-6.42h-0.55zM223.53 53.95h0.55v-6.06h-0.55zM224.03 53.95h0.55v-5.54h-0.55zM224.54 53.95h0.55v-5.48h-0.55zM225.05 53.95h0.55v-5.59h-0.55zM225.56 53.95h0.55v-5.77h-0.55zM226.06 53.95h0.55v-6.04h-0.55zM226.57 53.95h0.55v-5.66h-0.55zM227.08 53.95h0.55v-5.77h-0.55zM227.59 53.95h0.55v-5.15h-0.55zM228.09 53.95h0.55v-4.91h-0.55z" fill="#840606"/>
<path d="M77.41 61.90h0.55v-3.86h-0.55zM79.44 61.90h0.55v-3.84h-0.55zM81.98 61.90h0.55v-4.26h-0.55zM82.49 61.90h0.55v-3.41h-0.55zM83.00 61.90h0.55v-4.39h-0.55zM83.50 61.90h0.55v-4.12h-0.55zM89.59 61.90h0.55v-4.31h-0.55zM90.10 61.90h0.55v-4.32h-0.55zM90.61 61.90h0.55v-4.65h-0.55zM94.16 61.90h0.55v-2.96h-0.55zM94.66 61.90h0.55v-2.73h-0.55zM95.68 61.90h0.55v-4.36h-0.55zM99.74 61.90h0.55v-4.25h-0.55zM100.24 61.90h0.55v-4.78h-0.55zM100.75 61.90h0.55v-4.28h-0.55zM101.26 61.90h0.55v-4.03h-0.55zM105.32 61.90h0.55v-4.08h-0.55zM105.83 61.90h0.55v-4.00h-0.55zM107.35 61.90h0.55v-3.83h-0.55zM107.85 61.90h0.55v-3.94h-0.55zM108.36 61.90h0.55v-3.97h-0.55zM108.87 61.90h0.55v-3.56h-0.55zM109.38 61.90h0.55v-3.44h-0.55zM111.91 61.90h0.55v-3.97h-0.55zM153.01 61.90h0.55v-3.66h-0.55zM159.10 61.90h0.55v-3.54h-0.55zM159.60 61.90h0.55v-3.37h-0.55zM160.11 61.90h0.55v-4.28h-0.55zM160.62 61.90h0.55v-4.16h-0.55zM161.63 61.90h0.55v-3.98h-0.55zM162.14 61.90h0.55v-3.31h-0.55zM162.65 61.90h0.55v-4.04h-0.55zM163.15 61.90h0.55v-3.15h-0.55zM165.18 61.90h0.55v-4.26h-0.55zM169.24 61.90h0.55v-4.83h-0.55zM170.76 61.90h0.55v-3.74h-0.55zM171.27 61.90h0.55v-4.20h-0.55zM171.78 61.90h0.55v-4.48h-0.55zM172.29 61.90h0.55v-4.59h-0.55zM172.79 61.90h0.55v-5.12h-0.55zM173.30 61.90h0.55v-4.44h-0.55zM173.81 61.90h0.55v-4.54h-0.55zM174.32 61.90h0.55v-4.23h-0.55zM174.82 61.90h0.55v-4.20h-0.55zM175.33 61.90h0.55v-4.05h-0.55zM175.84 61.90h0.55v-3.62h-0.55zM176.85 61.90h0.55v-3.32h-0.55zM177.87 61.90h0.55v-3.44h-0.55zM181.93 61.90h0.55v-3.49h-0.55zM182.43 61.90h0.55v-3.60h-0.55zM182.94 61.90h0.55v-2.61h-0.55zM183.45 61.90h0.55v-2.73h-0.55zM185.98 61.90h0.55v-3.75h-0.55zM186.49 61.90h0.55v-4.49h-0.55zM187.00 61.90h0.55v-4.35h-0.55zM187.51 61.90h0.55v-3.32h-0.55zM188.52 61.90h0.55v-3.42h-0.55zM189.03 61.90h0.55v-3.94h-0.55zM189.54 61.90h0.55v-3.16h-0.55zM190.04 61.90h0.55v-4.16h-0.55z" fill="#f20000"/>
<path d="M114.96 61.90h0.55v-5.51h-0.55zM115.46 61.90h0.55v-5.69h-0.55zM115.97 61.90h0.55v-5.14h-0.55zM116.48 61.90h0.55v-5.40h-0.55zM116.99 61.90h0.55v-4.81h-0.55zM117.49 61.90h0.55v-5.11h-0.55zM118.00 61.90h0.55v-5.38h-0.55zM118.51 61.90h0.55v-5.51h-0.55zM119.02 61.90h0.55v-5.97h-0.55zM119.52 61.90h0.55v-5.31h-0.55zM120.03 61.90h0.55v-6.19h-0.55zM120.54 61.90h0.55v-6.57h-0.55zM121.05 61.90h0.55v-6.65h-0.55zM121.55 61.90h0.55v-6.56h-0.55zM122.06 61.90h0.55v-6.49h-0.55zM123.58 61.90h0.55v-4.87h-0.55zM124.09 61.90h0.55v-4.90h-0.55zM124.60 61.90h0.55v-5.11h-0.55zM125.10 61.90h0.55v-5.50h-0.55zM125.61 61.90h0.55v-5.76h-0.55zM126.12 61.90h0.55v-5.37h-0.55zM126.63 61.90h0.55v-5.41h-0.55zM127.13 61.90h0.55v-5.99h-0.55zM127.64 61.90h0.55v-6.16h-0.55zM128.15 61.90h0.55v-6.33h-0.55zM128.66 61.90h0.55v-5.53h-0.55zM129.67 61.90h0.55v-5.85h-0.55zM130.18 61.90h0.55v-6.59h-0.55zM130.68 61.90h0.55v-5.87h-0.55zM131.19 61.90h0.55v-5.96h-0.55zM131.70 61.90h0.55v-5.38h-0.55zM132.21 61.90h0.55v-5.73h-0.55zM132.71 61.90h0.55v-5.34h-0.55zM133.22 61.90h0.55v-5.90h-0.55zM133.73 61.90h0.55v-5.77h-0.55zM134.24 61.90h0.55v-6.10h-0.55zM134.74 61.90h0.55v-5.06h-0.55zM135.25 61.90h0.55v-5.92h-0.55zM135.76 61.90h0.55v-6.11h-0.55zM136.27 61.90h0.55v-6.79h-0.55zM136.77 61.90h0.55v-6.34h-0.55zM137.28 61.90h0.55v-5.86h-0.55zM137.79 61.90h0.55v-5.57h-0.55zM138.29 61.90h0.55v-5.73h-0.55zM138.80 61.90h0.55v-5.90h-0.55zM139.31 61.90h0.55v-6.40h-0.55zM139.82 61.90h0.55v-6.04h-0.55zM140.32 61.90h0.55v-6.42h-0.55zM140.83 61.90h0.55v-5.77h-0.55zM141.34 61.90h0.55v-5.56h-0.55zM141.85 61.90h0.55v-4.59h-0.55zM142.35 61.90h0.55v-4.53h-0.55zM143.88 61.90h0.55v-6.79h-0.55zM144.38 61.90h0.55v-6.16h-0.55zM144.89 61.90h0.55v-5.50h-0.55zM145.40 61.90h0.55v-5.03h-0.55zM145.90 61.90h0.55v-5.49h-0.55zM146.41 61.90h0.55v-5.42h-0.55zM146.92 61.90h0.55v-5.62h-0.55zM147.43 61.90h0.55v-5.26h-0.55zM147.93 61.90h0.55v-5.96h-0.55zM148.44 61.90h0.55v-6.09h-0.55zM148.95 61.90h0.55v-5.85h-0.55zM149.46 61.90h0.55v-5.31h-0.55zM149.96 61.90h0.55v-5.51h-0.55zM150.47 61.90h0.55v-6.34h-0.55zM151.49 61.90h0.55v-6.56h-0.55zM151.99 61.90h0.55v-5.84h-0.55zM190.55 61.90h0.55v-6.04h-0.55zM191.06 61.90h0.55v-6.64h-0.55zM191.56 61.90h0.55v-6.82h-0.55zM192.07 61.90h0.55v-6.95h-0.55zM192.58 61.90h0.55v-6.49h-0.55zM193.09 61.90h0.55v-6.05h-0.55zM193.59 61.90h0.55v-6.26h-0.55zM194.10 61.90h0.55v-6.53h-0.55zM194.61 61.90h0.55v-6.74h-0.55zM196.13 61.90h0.55v-6.48h-0.55zM196.64 61.90h0.55v-6.29h-0.55zM197.15 61.90h0.55v-6.30h-0.55zM197.65 61.90h0.55v-6.22h-0.55zM198.16 61.90h0.55v-5.49h-0.55zM198.67 61.90h0.55v-5.02h-0.55zM199.17 61.90h0.55v-5.18h-0.55zM199.68 61.90h0.55v-6.19h-0.55zM200.19 61.90h0.55v-6.62h-0.55zM200.70 61.90h0.55v-6.12h-0.55zM201.20 61.90h0.55v-5.24h-0.55zM201.71 61.90h0.55v-5.85h-0.55zM202.22 61.90h0.55v-5.70h-0.55zM202.73 61.90h0.55v-6.17h-0.55zM203.23 61.90h0.55v-6.03h-0.55zM203.74 61.90h0.55v-6.24h-0.55zM204.25 61.90h0.55v-6.57h-0.55zM204.76 61.90h0.55v-6.09h-0.55zM205.26 61.90h0.55v-6.44h-0.55zM205.77 61.90h0.55v-5.62h-0.55zM206.28 61.90h0.55v-5.75h-0.55zM206.78 61.90h0.55v-5.66h-0.55zM207.80 61.90h0.55v-6.10h-0.55zM208.31 61.90h0.55v-6.36h-0.55zM208.81 61.90h0.55v-6.40h-0.55zM209.32 61.90h0.55v-6.04h-0.55zM209.83 61.90h0.55v-4.92h-0.55zM210.34 61.90h0.55v-5.07h-0.55zM211.35 61.90h0.55v-5.39h-0.55zM211.86 61.90h0.55v-6.05h-0.55zM212.37 61.90h0.55v-5.57h-0.55zM212.87 61.90h0.55v-5.96h-0.55zM213.38 61.90h0.55v-4.76h-0.55zM213.89 61.90h0.55v-4.93h-0.55zM214.39 61.90h0.55v-5.32h-0.55zM214.90 61.90h0.55v-5.80h-0.55zM215.41 61.90h0.55v-6.40h-0.55zM215.92 61.90h0.55v-6.42h-0.55zM216.42 61.90h0.55v-6.45h-0.55zM216.93 61.90h0.55v-5.68h-0.55zM217.44 61.90h0.55v-5.67h-0.55zM217.95 61.90h0.55v-6.21h-0.55zM218.45 61.90h0.55v-6.30h-0.55zM218.96 61.90h0.55v-5.48h-0.55zM219.47 61.90h0.55v-5.39h-0.55zM219.98 61.90h0.55v-5.82h-0.55zM220.48 61.90h0.55v-6.02h-0.55zM220.99 61.90h0.55v-5.23h-0.55zM221.50 61.90h0.55v-5.09h-0.55zM222.00 61.90h0.55v-5.89h-0.55zM222.51 61.90h0.55v-5.89h-0.55zM223.02 61.90h0.55v-6.14h-0.55zM223.53 61.90h0.55v-5.36h-0.55zM224.03 61.90h0.55v-5.86h-0.55zM224.54 61.90h0.55v-5.54h-0.55zM227.08 61.90h0.55v-6.68h-0.55zM227.59 61.90h0.55v-6.21h-0.55zM228.09 61.90h0.55v-5.05h-0.55z" fill="#840606"/>
<line x1="76.4" y1="30.4" x2="228.6" y2="30.4" stroke="#555" stroke-width="1"/>
<line x1="76.4" y1="62.2" x2="228.6" y2="62.2" stroke="#555" stroke-width="1"/>
<line x1="76.4" y1="27.9" x2="76.4" y2="62.2" stroke="#444" stroke-width="1"/>
<line x1="76.4" y1="27.9" x2="76.4" y2="30.4" stroke="#555" stroke-width="0.9"/>
<text x="76.4" y="24.48" font-size="7.5" text-anchor="middle" fill="#141414" stroke="#141414" stroke-width="0.15">0</text>
<line x1="101.77" y1="27.9" x2="101.77" y2="30.4" stroke="#555" stroke-width="0.9"/>
<text x="101.77" y="24.48" font-size="7.5" text-anchor="middle" fill="#141414" stroke="#141414" stroke-width="0.15">8</text>
<line x1="127.13" y1="27.9" x2="127.13" y2="30.4" stroke="#555" stroke-width="0.9"/>
<text x="127.13" y="24.48" font-size="7.5" text-anchor="middle" fill="#141414" stroke="#141414" stroke-width="0.15">16</text>
<line x1="152.5" y1="27.9" x2="152.5" y2="30.4" stroke="#555" stroke-width="0.9"/>
<text x="152.5" y="24.48" font-size="7.5" text-anchor="middle" fill="#141414" stroke="#141414" stroke-width="0.15">0</text>
<line x1="177.87" y1="27.9" x2="177.87" y2="30.4" stroke="#555" stroke-width="0.9"/>
<text x="177.87" y="24.48" font-size="7.5" text-anchor="middle" fill="#141414" stroke="#141414" stroke-width="0.15">8</text>
<line x1="203.23" y1="27.9" x2="203.23" y2="30.4" stroke="#555" stroke-width="0.9"/>
<text x="203.23" y="24.48" font-size="7.5" text-anchor="middle" fill="#141414" stroke="#141414" stroke-width="0.15">16</text>
<line x1="228.6" y1="27.9" x2="228.6" y2="30.4" stroke="#555" stroke-width="0.9"/>
<text x="228.6" y="24.48" font-size="7.5" text-anchor="middle" fill="#141414" stroke="#141414" stroke-width="0.15">0</text>
<text x="73.6" y="37.39" font-size="7.5" text-anchor="end" fill="#141414" stroke="#141414" stroke-width="0.15">1-2</text>
<text x="73.6" y="45.79" font-size="7.5" text-anchor="end" fill="#141414" stroke="#141414" stroke-width="0.15">3-4</text>
<text x="73.6" y="53.89" font-size="7.5" text-anchor="end" fill="#141414" stroke="#141414" stroke-width="0.15">5-6</text>
<text x="73.6" y="61.98" font-size="7.5" text-anchor="end" fill="#141414" stroke="#141414" stroke-width="0.15">7-8</text>
<text transform="translate(49.4,43) rotate(-90)" x="0" y="3.76" font-size="10.5" text-anchor="middle" fill="#141414" stroke="#141414" stroke-width="0.21">MOCK</text>
<rect x="77.6" y="84.6" width="151.9" height="31.4" fill="#ffffff" stroke="none" stroke-width="1"/>
<rect x="115.57" y="84.6" width="37.98" height="31.4" fill="#858585" stroke="none" stroke-width="1"/>
<rect x="191.53" y="84.6" width="37.97" height="31.4" fill="#858585" stroke="none" stroke-width="1"/>
<path d="M82.66 92.15h0.55v-2.75h-0.55zM85.70 92.15h0.55v-1.51h-0.55zM90.26 92.15h0.55v-2.94h-0.55zM96.33 92.15h0.55v-3.96h-0.55zM100.89 92.15h0.55v-2.59h-0.55zM110.01 92.15h0.55v-2.58h-0.55zM113.55 92.15h0.55v-2.77h-0.55zM114.06 92.15h0.55v-1.83h-0.55zM154.06 92.15h0.55v-2.77h-0.55zM159.63 92.15h0.55v-3.35h-0.55zM164.18 92.15h0.55v-3.27h-0.55zM166.21 92.15h0.55v-2.06h-0.55zM167.22 92.15h0.55v-3.17h-0.55zM173.80 92.15h0.55v-1.75h-0.55zM187.47 92.15h0.55v-2.57h-0.55zM187.98 92.15h0.55v-3.29h-0.55z" fill="#f20000"/>
<path d="M116.08 92.15h0.55v-2.55h-0.55zM117.09 92.15h0.55v-4.75h-0.55zM117.60 92.15h0.55v-3.89h-0.55zM120.13 92.15h0.55v-2.96h-0.55zM121.14 92.15h0.55v-1.99h-0.55zM121.65 92.15h0.55v-1.86h-0.55zM122.16 92.15h0.55v-1.86h-0.55zM124.18 92.15h0.55v-2.72h-0.55zM127.73 92.15h0.55v-3.26h-0.55zM132.28 92.15h0.55v-1.58h-0.55zM134.31 92.15h0.55v-3.24h-0.55zM135.83 92.15h0.55v-2.67h-0.55zM139.37 92.15h0.55v-2.79h-0.55zM140.89 92.15h0.55v-1.63h-0.55zM141.40 92.15h0.55v-2.32h-0.55zM142.92 92.15h0.55v-3.67h-0.55zM143.42 92.15h0.55v-3.07h-0.55zM144.44 92.15h0.55v-2.58h-0.55zM147.47 92.15h0.55v-1.73h-0.55zM194.56 92.15h0.55v-1.97h-0.55zM195.58 92.15h0.55v-3.68h-0.55zM196.08 92.15h0.55v-3.07h-0.55zM196.59 92.15h0.55v-2.81h-0.55zM199.12 92.15h0.55v-2.68h-0.55zM202.16 92.15h0.55v-2.94h-0.55zM203.17 92.15h0.55v-4.35h-0.55zM208.74 92.15h0.55v-2.13h-0.55zM209.75 92.15h0.55v-1.90h-0.55zM212.28 92.15h0.55v-3.22h-0.55zM212.79 92.15h0.55v-3.10h-0.55zM213.30 92.15h0.55v-2.28h-0.55zM214.31 92.15h0.55v-3.17h-0.55zM214.82 92.15h0.55v-2.36h-0.55zM216.34 92.15h0.55v-2.00h-0.55zM217.35 92.15h0.55v-2.38h-0.55zM219.88 92.15h0.55v-2.98h-0.55zM222.92 92.15h0.55v-3.23h-0.55zM223.42 92.15h0.55v-2.09h-0.55zM228.99 92.15h0.55v-2.09h-0.55z" fill="#b80000"/>
<path d="M81.14 100.00h0.55v-1.33h-0.55zM81.65 100.00h0.55v-2.12h-0.55zM82.16 100.00h0.55v-2.09h-0.55zM83.17 100.00h0.55v-2.16h-0.55zM83.68 100.00h0.55v-3.61h-0.55zM84.69 100.00h0.55v-2.77h-0.55zM86.71 100.00h0.55v-2.53h-0.55zM89.75 100.00h0.55v-3.97h-0.55zM90.26 100.00h0.55v-3.67h-0.55zM93.30 100.00h0.55v-2.12h-0.55zM94.31 100.00h0.55v-1.91h-0.55zM100.38 100.00h0.55v-2.53h-0.55zM101.40 100.00h0.55v-2.51h-0.55zM102.41 100.00h0.55v-1.97h-0.55zM104.94 100.00h0.55v-3.58h-0.55zM110.51 100.00h0.55v-1.40h-0.55zM113.04 100.00h0.55v-3.98h-0.55zM114.06 100.00h0.55v-3.94h-0.55zM155.07 100.00h0.55v-3.97h-0.55zM165.20 100.00h0.55v-3.42h-0.55zM167.22 100.00h0.55v-1.59h-0.55zM169.75 100.00h0.55v-4.55h-0.55zM170.26 100.00h0.55v-2.74h-0.55zM170.77 100.00h0.55v-1.54h-0.55zM175.32 100.00h0.55v-2.34h-0.55zM177.85 100.00h0.55v-1.92h-0.55zM187.47 100.00h0.55v-3.17h-0.55zM189.50 100.00h0.55v-3.68h-0.55zM191.02 100.00h0.55v-2.94h-0.55z" fill="#f20000"/>
<path d="M117.09 100.00h0.55v-4.30h-0.55zM117.60 100.00h0.55v-3.10h-0.55zM118.11 100.00h0.55v-2.60h-0.55zM121.65 100.00h0.55v-4.83h-0.55zM122.16 100.00h0.55v-4.71h-0.55zM123.68 100.00h0.55v-2.25h-0.55zM132.79 100.00h0.55v-3.91h-0.55zM133.30 100.00h0.55v-4.17h-0.55zM135.32 100.00h0.55v-4.76h-0.55zM135.83 100.00h0.55v-3.68h-0.55zM136.33 100.00h0.55v-2.55h-0.55zM136.84 100.00h0.55v-2.21h-0.55zM137.35 100.00h0.55v-2.65h-0.55zM137.85 100.00h0.55v-2.45h-0.55zM138.36 100.00h0.55v-1.80h-0.55zM138.87 100.00h0.55v-2.45h-0.55zM139.37 100.00h0.55v-3.79h-0.55zM140.39 100.00h0.55v-2.86h-0.55zM141.40 100.00h0.55v-2.14h-0.55zM142.41 100.00h0.55v-2.58h-0.55zM143.42 100.00h0.55v-2.43h-0.55zM144.44 100.00h0.55v-2.91h-0.55zM144.94 100.00h0.55v-2.62h-0.55zM145.95 100.00h0.55v-3.28h-0.55zM147.47 100.00h0.55v-2.46h-0.55zM147.98 100.00h0.55v-2.24h-0.55zM151.02 100.00h0.55v-1.79h-0.55zM152.03 100.00h0.55v-2.79h-0.55zM191.52 100.00h0.55v-2.34h-0.55zM192.03 100.00h0.55v-2.65h-0.55zM192.54 100.00h0.55v-2.61h-0.55zM193.04 100.00h0.55v-3.32h-0.55zM197.60 100.00h0.55v-2.51h-0.55zM198.11 100.00h0.55v-2.79h-0.55zM198.61 100.00h0.55v-2.20h-0.55zM199.12 100.00h0.55v-2.41h-0.55zM199.63 100.00h0.55v-2.77h-0.55zM200.64 100.00h0.55v-3.57h-0.55zM201.15 100.00h0.55v-3.39h-0.55zM201.65 100.00h0.55v-2.79h-0.55zM202.66 100.00h0.55v-2.51h-0.55zM203.17 100.00h0.55v-1.84h-0.55zM205.70 100.00h0.55v-2.00h-0.55zM206.21 100.00h0.55v-1.80h-0.55zM207.22 100.00h0.55v-3.17h-0.55zM207.73 100.00h0.55v-3.78h-0.55zM208.74 100.00h0.55v-2.24h-0.55zM209.25 100.00h0.55v-2.55h-0.55zM210.26 100.00h0.55v-2.05h-0.55zM211.78 100.00h0.55v-2.60h-0.55zM212.79 100.00h0.55v-4.71h-0.55zM215.32 100.00h0.55v-4.28h-0.55zM215.83 100.00h0.55v-3.25h-0.55zM216.84 100.00h0.55v-2.27h-0.55zM218.36 100.00h0.55v-4.75h-0.55zM218.87 100.00h0.55v-3.96h-0.55zM219.37 100.00h0.55v-3.79h-0.55zM222.41 100.00h0.55v-2.66h-0.55zM228.99 100.00h0.55v-2.08h-0.55z" fill="#b80000"/>
<path d="M79.12 107.85h0.55v-2.14h-0.55zM80.13 107.85h0.55v-2.10h-0.55zM81.14 107.85h0.55v-4.39h-0.55zM82.16 107.85h0.55v-3.96h-0.55zM85.70 107.85h0.55v-2.50h-0.55zM86.71 107.85h0.55v-3.97h-0.55zM87.73 107.85h0.55v-4.20h-0.55zM91.27 107.85h0.55v-1.84h-0.55zM93.80 107.85h0.55v-3.28h-0.55zM96.33 107.85h0.55v-3.96h-0.55zM97.85 107.85h0.55v-2.81h-0.55zM101.40 107.85h0.55v-1.85h-0.55zM105.45 107.85h0.55v-3.16h-0.55zM106.46 107.85h0.55v-2.39h-0.55zM107.47 107.85h0.55v-3.72h-0.55zM108.49 107.85h0.55v-2.56h-0.55zM111.52 107.85h0.55v-2.80h-0.55zM112.03 107.85h0.55v-3.54h-0.55zM113.55 107.85h0.55v-2.05h-0.55zM154.56 107.85h0.55v-1.71h-0.55zM157.09 107.85h0.55v-3.70h-0.55zM159.12 107.85h0.55v-2.13h-0.55zM160.64 107.85h0.55v-1.56h-0.55zM161.14 107.85h0.55v-1.70h-0.55zM162.66 107.85h0.55v-2.89h-0.55zM164.18 107.85h0.55v-3.54h-0.55zM166.21 107.85h0.55v-2.81h-0.55zM170.77 107.85h0.55v-3.33h-0.55zM172.28 107.85h0.55v-2.36h-0.55zM172.79 107.85h0.55v-2.08h-0.55zM178.87 107.85h0.55v-2.11h-0.55zM179.37 107.85h0.55v-2.32h-0.55zM182.92 107.85h0.55v-3.46h-0.55zM183.42 107.85h0.55v-3.48h-0.55zM183.93 107.85h0.55v-3.35h-0.55zM184.94 107.85h0.55v-4.56h-0.55zM185.45 107.85h0.55v-3.70h-0.55zM186.97 107.85h0.55v-3.29h-0.55z" fill="#f20000"/>
<path d="M116.08 107.85h0.55v-2.53h-0.55zM121.65 107.85h0.55v-2.32h-0.55zM122.16 107.85h0.55v-1.24h-0.55zM122.66 107.85h0.55v-1.35h-0.55zM128.23 107.85h0.55v-3.55h-0.55zM129.25 107.85h0.55v-2.27h-0.55zM129.75 107.85h0.55v-2.49h-0.55zM142.41 107.85h0.55v-2.21h-0.55zM145.95 107.85h0.55v-3.06h-0.55zM147.47 107.85h0.55v-3.50h-0.55zM151.52 107.85h0.55v-2.82h-0.55zM192.03 107.85h0.55v-1.66h-0.55zM193.55 107.85h0.55v-2.23h-0.55zM198.11 107.85h0.55v-3.05h-0.55zM199.12 107.85h0.55v-3.11h-0.55zM201.15 107.85h0.55v-4.30h-0.55zM205.20 107.85h0.55v-2.76h-0.55zM207.22 107.85h0.55v-3.47h-0.55zM213.80 107.85h0.55v-2.12h-0.55zM214.82 107.85h0.55v-1.92h-0.55zM217.35 107.85h0.55v-2.42h-0.55zM220.89 107.85h0.55v-2.15h-0.55zM223.93 107.85h0.55v-1.66h-0.55zM227.98 107.85h0.55v-3.64h-0.55zM228.49 107.85h0.55v-2.98h-0.55z" fill="#b80000"/>
<path d="M79.63 115.70h0.55v-2.93h-0.55zM81.65 115.70h0.55v-2.05h-0.55zM82.66 115.70h0.55v-1.17h-0.55zM83.17 115.70h0.55v-1.24h-0.55zM93.80 115.70h0.55v-3.47h-0.55zM96.84 115.70h0.55v-4.10h-0.55zM105.95 115.70h0.55v-1.68h-0.55zM108.99 115.70h0.55v-2.91h-0.55zM114.06 115.70h0.55v-3.74h-0.55zM158.11 115.70h0.55v-3.13h-0.55zM169.25 115.70h0.55v-2.66h-0.55zM178.36 115.70h0.55v-1.30h-0.55zM181.40 115.70h0.55v-1.80h-0.55zM182.41 115.70h0.55v-3.96h-0.55zM183.42 115.70h0.55v-2.75h-0.55zM185.45 115.70h0.55v-3.09h-0.55zM186.97 115.70h0.55v-1.24h-0.55zM187.47 115.70h0.55v-1.31h-0.55zM187.98 115.70h0.55v-1.57h-0.55z" fill="#f20000"/>
<path d="M118.11 115.70h0.55v-1.37h-0.55zM119.12 115.70h0.55v-2.13h-0.55zM124.69 115.70h0.55v-2.05h-0.55zM126.21 115.70h0.55v-1.70h-0.55zM127.73 115.70h0.55v-1.70h-0.55zM128.23 115.70h0.55v-2.30h-0.55zM135.32 115.70h0.55v-2.43h-0.55zM142.92 115.70h0.55v-1.71h-0.55zM143.93 115.70h0.55v-4.10h-0.55zM146.97 115.70h0.55v-2.75h-0.55zM149.50 115.70h0.55v-3.62h-0.55zM153.04 115.70h0.55v-3.00h-0.55zM192.03 115.70h0.55v-2.61h-0.55zM192.54 115.70h0.55v-1.96h-0.55zM194.06 115.70h0.55v-4.82h-0.55zM200.13 115.70h0.55v-1.98h-0.55zM202.16 115.70h0.55v-1.73h-0.55zM209.25 115.70h0.55v-2.43h-0.55zM210.26 115.70h0.55v-3.32h-0.55zM212.79 115.70h0.55v-2.94h-0.55zM216.84 115.70h0.55v-2.81h-0.55zM219.88 115.70h0.55v-2.27h-0.55zM220.89 115.70h0.55v-2.12h-0.55zM222.41 115.70h0.55v-2.52h-0.55z" fill="#b80000"/>
<line x1="77.6" y1="84.6" x2="229.5" y2="84.6" stroke="#555" stroke-width="1"/>
<line x1="77.6" y1="116" x2="229.5" y2="116" stroke="#555" stroke-width="1"/>
<line x1="77.6" y1="82.1" x2="77.6" y2="116" stroke="#444" stroke-width="1"/>
<line x1="77.6" y1="82.1" x2="77.6" y2="84.6" stroke="#555" stroke-width="0.9"/>
<text x="77.6" y="78.78" font-size="7.5" text-anchor="middle" fill="#141414" stroke="#141414" stroke-width="0.15">0</text>
<line x1="102.92" y1="82.1" x2="102.92" y2="84.6" stroke="#555" stroke-width="0.9"/>
<text x="102.92" y="78.78" font-size="7.5" text-anchor="middle" fill="#141414" stroke="#141414" stroke-width="0.15">8</text>
<line x1="128.23" y1="82.1" x2="128.23" y2="84.6" stroke="#555" stroke-width="0.9"/>
<text x="128.23" y="78.78" font-size="7.5" text-anchor="middle" fill="#141414" stroke="#141414" stroke-width="0.15">16</text>
<line x1="153.55" y1="82.1" x2="153.55" y2="84.6" stroke="#555" stroke-width="0.9"/>
<text x="153.55" y="78.78" font-size="7.5" text-anchor="middle" fill="#141414" stroke="#141414" stroke-width="0.15">0</text>
<line x1="178.87" y1="82.1" x2="178.87" y2="84.6" stroke="#555" stroke-width="0.9"/>
<text x="178.87" y="78.78" font-size="7.5" text-anchor="middle" fill="#141414" stroke="#141414" stroke-width="0.15">8</text>
<line x1="204.18" y1="82.1" x2="204.18" y2="84.6" stroke="#555" stroke-width="0.9"/>
<text x="204.18" y="78.78" font-size="7.5" text-anchor="middle" fill="#141414" stroke="#141414" stroke-width="0.15">16</text>
<line x1="229.5" y1="82.1" x2="229.5" y2="84.6" stroke="#555" stroke-width="0.9"/>
<text x="229.5" y="78.78" font-size="7.5" text-anchor="middle" fill="#141414" stroke="#141414" stroke-width="0.15">0</text>
<text x="73.6" y="91.39" font-size="7.5" text-anchor="end" fill="#141414" stroke="#141414" stroke-width="0.15">1-2</text>
<text x="73.6" y="99.69" font-size="7.5" text-anchor="end" fill="#141414" stroke="#141414" stroke-width="0.15">3-4</text>
<text x="73.6" y="107.69" font-size="7.5" text-anchor="end" fill="#141414" stroke="#141414" stroke-width="0.15">5-6</text>
<text x="73.6" y="116.09" font-size="7.5" text-anchor="end" fill="#141414" stroke="#141414" stroke-width="0.15">7-8</text>
<text transform="translate(48.2,98.2) rotate(-90)" x="0" y="3.76" font-size="10.5" text-anchor="middle" fill="#141414" stroke="#141414" stroke-width="0.21">RABV</text>
<polygon points="311.30,84.42 311.53,79.46 311.77,89.83 312.00,84.30 312.23,79.27 312.46,86.26 312.70,74.68 312.93,85.61 313.16,88.13 313.40,81.49 313.63,74.21 313.86,87.58 314.09,89.52 314.33,78.70 314.56,76.68 314.79,71.59 315.03,83.86 315.26,66.74 315.49,86.10 315.72,84.31 315.96,90.21 316.19,83.89 316.42,84.36 316.66,85.08 316.89,73.84 317.12,67.12 317.35,83.67 317.59,80.57 317.82,79.48 318.05,85.48 318.29,84.92 318.52,81.07 318.75,86.38 318.98,81.89 319.22,84.36 319.45,85.30 319.68,66.92 319.92,81.45 320.15,86.89 320.38,76.25 320.61,86.79 320.85,74.95 321.08,90.22 321.31,88.90 321.55,88.02 321.78,72.84 322.01,92.13 322.24,91.01 322.48,88.35 322.71,87.30 322.94,86.74 323.18,70.75 323.41,67.33 323.64,74.77 323.87,83.29 324.11,85.04 324.34,71.66 324.57,83.83 324.81,62.36 325.04,76.61 325.27,81.09 325.50,68.71 325.74,83.05 325.97,80.40 326.20,63.54 326.44,78.38 326.67,76.08 326.90,70.19 327.13,77.01 327.37,79.34 327.60,70.72 327.83,76.81 328.07,70.73 328.30,63.97 328.53,77.52 328.76,73.79 329.00,59.87 329.23,76.65 329.46,74.79 329.70,74.93 329.93,78.33 330.16,81.72 330.39,81.45 330.63,79.08 330.86,77.74 331.09,72.57 331.33,78.63 331.56,83.51 331.79,84.24 332.02,80.90 332.26,76.04 332.49,81.26 332.72,70.93 332.96,81.57 333.19,80.09 333.42,77.73 333.65,84.64 333.89,63.84 334.12,71.30 334.35,68.57 334.59,73.56 334.82,83.47 335.05,80.26 335.28,80.75 335.52,90.30 335.75,82.89 335.98,90.07 336.22,79.20 336.45,74.10 336.68,80.86 336.92,81.74 337.15,78.78 337.38,82.21 337.61,77.43 337.85,82.41 338.08,82.46 338.31,76.17 338.55,78.93 338.78,78.62 339.01,73.26 339.24,69.57 339.48,78.05 339.71,71.78 339.94,81.32 340.18,58.03 340.41,71.79 340.64,78.43 340.87,65.44 341.11,65.27 341.34,70.58 341.57,80.91 341.81,69.98 342.04,67.50 342.27,70.52 342.50,72.57 342.74,69.61 342.97,72.62 343.20,74.48 343.44,57.31 343.67,62.58 343.90,69.58 344.13,59.22 344.37,71.52 344.60,72.24 344.83,68.47 345.07,62.00 345.30,60.78 345.53,67.07 345.76,61.96 346.00,64.06 346.23,64.06 346.46,72.23 346.70,64.05 346.93,66.46 347.16,71.98 347.39,70.51 347.63,66.12 347.86,68.88 348.09,68.47 348.33,51.42 348.56,61.52 348.79,67.79 349.02,74.58 349.26,82.61 349.49,83.29 349.72,83.06 349.96,69.57 350.19,85.79 350.42,74.43 350.65,77.85 350.89,83.51 351.12,83.43 351.35,82.95 351.59,81.45 351.82,83.37 352.05,79.36 352.28,80.37 352.52,66.02 352.75,61.74 352.98,83.92 353.22,64.97 353.45,80.05 353.68,79.41 353.91,82.39 354.15,84.48 354.38,68.34 354.61,82.77 354.85,83.79 355.08,86.44 355.31,86.26 355.54,88.55 355.78,80.17 356.01,79.90 356.24,78.88 356.48,76.49 356.71,74.98 356.94,78.74 357.17,82.23 357.41,82.84 357.64,80.75 357.87,78.23 358.11,80.32 358.34,81.10 358.57,58.91 358.80,78.14 359.04,75.68 359.27,72.98 359.50,71.17 359.74,59.65 359.97,64.97 360.20,77.36 360.43,57.21 360.67,77.05 360.90,67.49 361.13,77.54 361.37,76.70 361.60,71.12 361.83,66.74 362.06,74.30 362.30,70.99 362.53,56.18 362.76,73.08 363.00,70.97 363.23,65.49 363.46,52.49 363.69,64.81 363.93,73.78 364.16,67.37 364.39,67.17 364.63,65.49 364.86,59.08 365.09,69.14 365.32,63.65 365.56,48.14 365.79,68.88 366.02,65.63 366.26,56.50 366.49,55.44 366.72,72.43 366.95,67.75 367.19,72.10 367.42,79.42 367.65,61.55 367.89,55.27 368.12,64.60 368.35,80.71 368.58,79.17 368.82,81.32 369.05,63.70 369.28,78.57 369.52,69.50 369.75,71.85 369.98,79.23 370.21,84.30 370.45,81.99 370.68,81.36 370.91,84.37 371.15,86.51 371.38,77.62 371.61,82.40 371.84,70.78 372.08,61.17 372.31,80.92 372.54,77.03 372.78,62.24 373.01,82.84 373.24,80.56 373.47,63.21 373.71,80.56 373.94,81.93 374.17,81.15 374.41,65.49 374.64,83.13 374.87,85.56 375.10,85.15 375.34,69.71 375.57,87.58 375.80,73.00 376.04,83.68 376.27,86.93 376.50,84.92 376.73,79.19 376.97,82.79 377.20,74.63 377.43,79.84 377.67,71.33 377.90,75.10 378.13,74.73 378.36,77.23 378.60,82.49 378.83,77.08 379.06,69.19 379.30,60.13 379.53,64.45 379.76,75.19 379.99,74.93 380.23,80.64 380.46,75.05 380.69,70.52 380.93,75.01 381.16,72.11 381.39,59.95 381.62,72.75 381.86,75.32 382.09,69.54 382.32,71.80 382.56,66.53 382.79,67.47 383.02,70.31 383.25,65.98 383.49,75.12 383.72,55.04 383.95,66.60 384.19,64.57 384.42,63.37 384.65,61.17 384.88,61.07 385.12,60.13 385.35,60.41 385.58,56.95 385.82,55.97 386.05,65.53 386.28,69.70 386.52,68.33 386.75,77.99 386.98,66.08 387.21,82.49 387.45,79.69 387.68,82.16 387.91,81.04 388.15,83.57 388.38,81.69 388.61,80.33 388.84,81.64 389.08,81.08 389.31,73.11 389.54,78.30 389.78,83.46 390.01,66.67 390.24,80.84 390.47,83.95 390.71,79.45 390.94,77.44 391.17,81.08 391.41,80.88 391.64,75.21 391.87,75.90 392.10,68.75 392.34,83.55 392.57,79.67 392.80,72.58 393.04,78.30 393.27,70.63 393.50,66.07 393.73,79.52 393.97,68.03 394.20,69.08 394.43,76.61 394.67,81.64 394.90,78.59 395.13,71.46 395.36,79.26 395.60,82.17 395.83,73.07 396.06,77.78 396.30,74.22 396.53,79.90 396.76,76.40 396.99,62.48 397.23,73.63 397.46,77.48 397.69,74.40 397.93,80.87 398.16,62.13 398.39,57.75 398.62,74.76 398.86,76.22 399.09,59.48 399.32,74.76 399.56,66.99 399.79,71.47 400.02,68.25 400.25,71.73 400.49,68.40 400.72,66.70 400.95,69.44 401.19,74.16 401.42,50.33 401.65,64.31 401.88,64.24 402.12,60.10 402.35,51.20 402.58,63.60 402.82,59.45 403.05,58.36 403.28,51.73 403.51,49.77 403.75,55.32 403.98,55.60 404.21,43.06 404.45,63.09 404.68,64.47 404.91,47.45 405.14,62.85 405.38,48.11 405.61,63.25 405.84,52.46 406.08,61.70 406.31,72.09 406.54,65.62 406.77,77.09 407.01,78.28 407.24,67.19 407.47,80.05 407.71,82.81 407.94,82.52 408.17,81.11 408.40,81.62 408.64,82.78 408.87,83.87 409.10,82.93 409.34,83.63 409.57,81.96 409.80,72.82 410.03,63.56 410.27,84.03 410.50,86.51 410.73,81.65 410.97,86.79 411.20,82.01 411.43,83.05 411.66,77.46 411.90,83.70 412.13,80.95 412.36,75.47 412.60,78.54 412.83,76.70 413.06,73.33 413.29,62.17 413.53,82.83 413.76,68.86 413.99,58.37 414.23,60.36 414.46,59.45 414.69,73.80 414.92,63.72 415.16,74.38 415.39,67.51 415.62,69.84 415.86,67.24 416.09,51.06 416.32,59.28 416.55,72.03 416.79,71.26 417.02,70.27 417.25,62.95 417.49,69.42 417.72,59.10 417.95,73.85 418.18,63.29 418.42,70.39 418.65,71.09 418.88,78.95 419.12,74.08 419.35,74.62 419.58,73.71 419.81,78.30 420.05,76.95 420.28,68.99 420.51,69.57 420.75,59.84 420.98,55.88 421.21,64.55 421.44,43.16 421.68,53.25 421.91,61.15 422.14,52.95 422.38,42.51 422.61,41.50 422.84,49.28 423.07,52.61 423.31,63.38 423.54,46.82 423.77,66.74 424.01,72.13 424.24,60.12 424.47,72.15 424.70,75.00 424.94,83.45 425.17,77.16 425.40,77.58 425.64,67.13 425.87,78.93 426.10,73.43 426.33,76.39 426.57,77.62 426.80,68.03 427.03,74.94 427.27,72.21 427.50,64.68 427.73,77.93 427.96,81.82 428.20,81.83 428.43,80.49 428.66,81.94 428.90,84.91 429.13,87.30 429.36,80.66 429.59,80.82 429.83,78.22 430.06,84.49 430.29,87.18 430.53,80.06 430.76,63.01 430.99,72.24 431.22,64.11 431.46,76.59 431.69,80.04 431.92,75.61 432.16,75.11 432.39,57.61 432.62,76.99 432.85,71.95 433.09,72.64 433.32,74.72 433.55,72.33 433.79,67.41 434.02,65.89 434.25,67.62 434.48,56.00 434.72,61.16 434.95,66.00 435.18,50.48 435.42,65.76 435.65,65.90 435.88,48.62 436.12,64.40 436.35,45.62 436.58,62.01 436.81,50.79 437.05,46.30 437.28,44.90 437.51,46.19 437.75,60.06 437.98,59.32 438.21,52.36 438.44,51.97 438.68,63.50 438.91,56.00 439.14,55.25 439.38,63.68 439.61,74.56 439.84,68.15 440.07,66.49 440.31,66.34 440.54,62.10 440.77,56.84 441.01,52.69 441.24,46.47 441.47,37.40 441.70,33.00 441.94,55.66 442.17,60.69 442.40,61.83 442.64,61.83 442.87,75.92 443.10,75.06 443.33,80.19 443.57,78.14 443.80,79.84 444.03,84.30 444.27,80.22 444.50,69.21 444.73,79.92 444.96,83.13 445.20,84.68 445.43,63.02 445.66,83.38 445.90,74.98 446.13,82.81 446.36,84.91 446.59,83.47 446.83,84.84 447.06,82.97 447.29,65.54 447.53,81.82 447.76,83.42 447.99,69.27 448.22,71.25 448.46,83.40 448.69,79.10 448.92,70.31 449.16,80.17 449.39,80.99 449.62,75.69 449.85,59.72 450.09,73.48 450.32,66.56 450.55,59.92 450.79,62.20 451.02,66.42 451.25,68.20 451.48,64.76 451.72,66.46 451.95,71.06 452.18,62.79 452.42,47.27 452.65,60.77 452.88,61.85 453.11,56.87 453.35,62.43 453.58,60.09 453.81,49.41 454.05,48.30 454.28,59.05 454.51,63.59 454.74,58.66 454.98,53.67 455.21,64.76 455.44,46.43 455.68,69.25 455.91,66.99 456.14,56.37 456.37,52.91 456.61,74.00 456.84,55.23 457.07,74.88 457.31,74.02 457.54,69.10 457.77,60.72 458.00,63.82 458.24,69.04 458.47,72.87 458.70,72.16 458.94,64.82 459.17,64.05 459.40,59.57 459.63,56.44 459.87,39.55 460.10,49.21 460.10,66.21 459.87,68.26 459.63,67.95 459.40,77.29 459.17,83.39 458.94,77.52 458.70,85.14 458.47,91.30 458.24,83.25 458.00,94.25 457.77,85.97 457.54,92.75 457.31,91.07 457.07,96.27 456.84,83.71 456.61,85.89 456.37,93.46 456.14,83.29 455.91,84.90 455.68,80.69 455.44,85.17 455.21,78.05 454.98,73.35 454.74,73.50 454.51,77.84 454.28,71.78 454.05,69.52 453.81,67.31 453.58,85.97 453.35,76.31 453.11,71.14 452.88,77.53 452.65,73.01 452.42,77.64 452.18,78.65 451.95,84.76 451.72,79.52 451.48,77.45 451.25,84.53 451.02,78.96 450.79,83.42 450.55,87.85 450.32,88.62 450.09,90.75 449.85,89.86 449.62,91.86 449.39,95.59 449.16,98.04 448.92,98.01 448.69,102.34 448.46,100.01 448.22,92.77 447.99,95.96 447.76,96.44 447.53,97.57 447.29,98.30 447.06,94.12 446.83,97.42 446.59,96.82 446.36,105.93 446.13,103.48 445.90,93.43 445.66,97.47 445.43,92.23 445.20,102.29 444.96,96.99 444.73,93.53 444.50,91.92 444.27,92.20 444.03,97.53 443.80,93.73 443.57,98.13 443.33,93.68 443.10,90.77 442.87,88.60 442.64,80.70 442.40,79.94 442.17,73.51 441.94,71.42 441.70,62.32 441.47,70.32 441.24,68.96 441.01,67.10 440.77,70.15 440.54,72.81 440.31,77.95 440.07,85.80 439.84,79.51 439.61,89.95 439.38,80.39 439.14,87.87 438.91,82.84 438.68,78.98 438.44,76.65 438.21,77.82 437.98,73.33 437.75,74.14 437.51,74.26 437.28,74.54 437.05,77.01 436.81,77.81 436.58,72.61 436.35,76.91 436.12,89.98 435.88,77.36 435.65,80.73 435.42,80.62 435.18,79.04 434.95,77.80 434.72,86.51 434.48,88.99 434.25,86.29 434.02,81.62 433.79,83.66 433.55,91.17 433.32,87.68 433.09,89.61 432.85,84.35 432.62,89.48 432.39,87.83 432.16,87.46 431.92,93.08 431.69,91.11 431.46,91.85 431.22,90.89 430.99,96.22 430.76,95.21 430.53,92.98 430.29,99.34 430.06,98.19 429.83,96.68 429.59,96.94 429.36,93.20 429.13,98.98 428.90,102.44 428.66,96.12 428.43,93.13 428.20,99.49 427.96,96.92 427.73,89.39 427.50,92.19 427.27,93.35 427.03,92.73 426.80,90.81 426.57,93.17 426.33,89.35 426.10,86.99 425.87,90.01 425.64,85.43 425.40,88.99 425.17,95.30 424.94,96.86 424.70,94.92 424.47,92.45 424.24,94.09 424.01,83.67 423.77,76.90 423.54,70.13 423.31,83.96 423.07,70.93 422.84,66.68 422.61,68.70 422.38,70.77 422.14,74.31 421.91,73.36 421.68,73.66 421.44,80.11 421.21,79.46 420.98,80.88 420.75,90.12 420.51,85.50 420.28,84.56 420.05,89.32 419.81,89.73 419.58,88.54 419.35,84.71 419.12,86.31 418.88,88.86 418.65,82.11 418.42,84.00 418.18,84.28 417.95,84.57 417.72,85.77 417.49,86.32 417.25,84.68 417.02,82.99 416.79,85.78 416.55,84.23 416.32,85.80 416.09,77.25 415.86,81.12 415.62,90.62 415.39,82.18 415.16,89.96 414.92,84.54 414.69,87.01 414.46,97.88 414.23,89.66 413.99,94.56 413.76,91.91 413.53,93.72 413.29,95.19 413.06,92.78 412.83,97.62 412.60,96.41 412.36,93.39 412.13,96.55 411.90,97.98 411.66,94.20 411.43,97.56 411.20,103.09 410.97,98.00 410.73,105.77 410.50,97.94 410.27,94.94 410.03,88.27 409.80,98.03 409.57,93.88 409.34,104.09 409.10,94.90 408.87,95.50 408.64,96.20 408.40,101.71 408.17,95.10 407.94,100.54 407.71,99.98 407.47,93.16 407.24,94.98 407.01,89.40 406.77,90.87 406.54,92.23 406.31,90.30 406.08,82.91 405.84,81.92 405.61,84.73 405.38,85.70 405.14,81.92 404.91,76.85 404.68,79.22 404.45,74.52 404.21,78.62 403.98,70.14 403.75,69.20 403.51,76.81 403.28,67.77 403.05,73.04 402.82,72.66 402.58,75.77 402.35,73.71 402.12,78.71 401.88,78.35 401.65,80.93 401.42,82.25 401.19,84.99 400.95,81.48 400.72,79.46 400.49,77.94 400.25,88.19 400.02,85.77 399.79,83.46 399.56,78.76 399.32,85.24 399.09,83.63 398.86,88.26 398.62,87.08 398.39,87.67 398.16,97.49 397.93,98.76 397.69,84.05 397.46,87.13 397.23,86.86 396.99,103.54 396.76,91.77 396.53,93.92 396.30,102.11 396.06,88.12 395.83,89.40 395.60,92.45 395.36,97.61 395.13,93.31 394.90,90.06 394.67,96.28 394.43,92.58 394.20,98.00 393.97,99.68 393.73,89.09 393.50,94.11 393.27,95.07 393.04,91.89 392.80,86.35 392.57,94.07 392.34,94.20 392.10,87.63 391.87,89.76 391.64,90.04 391.41,94.32 391.17,98.61 390.94,90.66 390.71,93.31 390.47,96.07 390.24,91.54 390.01,97.90 389.78,98.25 389.54,92.54 389.31,103.36 389.08,91.57 388.84,93.37 388.61,92.08 388.38,97.93 388.15,98.57 387.91,97.51 387.68,95.16 387.45,103.09 387.21,98.50 386.98,88.75 386.75,90.06 386.52,80.55 386.28,86.08 386.05,79.91 385.82,82.60 385.58,82.62 385.35,72.20 385.12,70.20 384.88,73.46 384.65,74.11 384.42,74.16 384.19,74.03 383.95,78.40 383.72,83.73 383.49,88.49 383.25,84.91 383.02,82.04 382.79,86.19 382.56,84.64 382.32,85.39 382.09,84.02 381.86,85.29 381.62,84.19 381.39,88.17 381.16,90.06 380.93,93.64 380.69,83.03 380.46,90.22 380.23,89.73 379.99,86.63 379.76,86.20 379.53,84.19 379.30,85.06 379.06,86.61 378.83,88.24 378.60,93.50 378.36,87.79 378.13,88.42 377.90,90.89 377.67,95.68 377.43,89.88 377.20,95.96 376.97,100.28 376.73,95.83 376.50,94.89 376.27,100.73 376.04,99.85 375.80,92.52 375.57,98.98 375.34,93.25 375.10,101.09 374.87,101.49 374.64,96.96 374.41,94.26 374.17,89.96 373.94,93.41 373.71,101.69 373.47,93.04 373.24,97.43 373.01,95.75 372.78,94.30 372.54,93.58 372.31,91.33 372.08,95.90 371.84,94.40 371.61,91.55 371.38,86.53 371.15,95.47 370.91,95.64 370.68,93.92 370.45,103.45 370.21,95.90 369.98,89.76 369.75,94.38 369.52,102.65 369.28,93.80 369.05,92.23 368.82,92.80 368.58,94.90 368.35,91.42 368.12,91.47 367.89,84.40 367.65,84.54 367.42,88.95 367.19,82.23 366.95,82.30 366.72,82.98 366.49,75.35 366.26,72.10 366.02,77.16 365.79,78.49 365.56,76.66 365.32,75.42 365.09,78.29 364.86,77.78 364.63,81.95 364.39,84.49 364.16,80.72 363.93,86.35 363.69,87.53 363.46,83.98 363.23,75.77 363.00,89.50 362.76,84.97 362.53,86.82 362.30,80.55 362.06,83.22 361.83,83.00 361.60,84.10 361.37,86.70 361.13,88.43 360.90,83.54 360.67,86.88 360.43,87.20 360.20,88.22 359.97,88.78 359.74,91.97 359.50,90.10 359.27,92.95 359.04,88.08 358.80,91.56 358.57,90.23 358.34,95.22 358.11,89.00 357.87,87.27 357.64,92.14 357.41,93.55 357.17,99.07 356.94,93.91 356.71,95.73 356.48,91.28 356.24,89.89 356.01,96.26 355.78,100.60 355.54,105.39 355.31,95.46 355.08,95.29 354.85,97.79 354.61,94.51 354.38,99.50 354.15,100.00 353.91,101.33 353.68,95.92 353.45,97.45 353.22,99.58 352.98,94.51 352.75,91.71 352.52,96.23 352.28,93.89 352.05,90.05 351.82,97.85 351.59,100.04 351.35,91.91 351.12,96.52 350.89,95.14 350.65,90.78 350.42,102.85 350.19,102.17 349.96,95.55 349.72,95.24 349.49,93.36 349.26,92.53 349.02,89.00 348.79,84.04 348.56,81.03 348.33,83.27 348.09,79.87 347.86,84.33 347.63,76.58 347.39,79.09 347.16,83.72 346.93,75.96 346.70,78.63 346.46,81.57 346.23,84.92 346.00,73.29 345.76,82.27 345.53,75.57 345.30,89.18 345.07,83.29 344.83,79.85 344.60,80.31 344.37,87.89 344.13,85.80 343.90,84.70 343.67,84.08 343.44,83.49 343.20,89.28 342.97,83.51 342.74,90.21 342.50,90.56 342.27,92.04 342.04,89.47 341.81,93.13 341.57,92.55 341.34,91.64 341.11,92.10 340.87,96.93 340.64,91.52 340.41,84.39 340.18,92.16 339.94,93.24 339.71,86.66 339.48,90.08 339.24,82.55 339.01,89.30 338.78,88.69 338.55,90.05 338.31,85.73 338.08,92.92 337.85,90.71 337.61,86.83 337.38,94.05 337.15,91.62 336.92,91.71 336.68,91.38 336.45,91.05 336.22,90.14 335.98,100.09 335.75,95.52 335.52,100.06 335.28,101.78 335.05,98.42 334.82,95.10 334.59,94.34 334.35,91.75 334.12,88.58 333.89,93.96 333.65,93.11 333.42,92.74 333.19,90.27 332.96,93.02 332.72,87.03 332.49,90.68 332.26,92.44 332.02,93.60 331.79,93.28 331.56,92.46 331.33,94.33 331.09,91.00 330.86,92.53 330.63,88.16 330.39,95.13 330.16,91.95 329.93,86.26 329.70,91.94 329.46,86.11 329.23,94.03 329.00,97.49 328.76,86.05 328.53,90.91 328.30,91.59 328.07,87.05 327.83,94.21 327.60,100.79 327.37,95.38 327.13,88.63 326.90,92.40 326.67,87.51 326.44,95.58 326.20,100.33 325.97,98.11 325.74,98.49 325.50,98.38 325.27,103.83 325.04,97.59 324.81,101.38 324.57,96.53 324.34,99.74 324.11,101.72 323.87,101.52 323.64,101.69 323.41,105.04 323.18,98.30 322.94,101.00 322.71,103.51 322.48,109.66 322.24,104.78 322.01,104.78 321.78,97.91 321.55,101.66 321.31,105.23 321.08,103.61 320.85,100.15 320.61,101.61 320.38,98.22 320.15,101.25 319.92,98.68 319.68,101.34 319.45,99.89 319.22,98.68 318.98,100.67 318.75,101.62 318.52,103.86 318.29,104.66 318.05,101.31 317.82,101.44 317.59,103.13 317.35,100.86 317.12,104.82 316.89,100.75 316.66,98.97 316.42,98.00 316.19,98.00 315.96,103.17 315.72,101.13 315.49,98.94 315.26,98.19 315.03,97.94 314.79,98.96 314.56,102.99 314.33,102.15 314.09,104.78 313.86,102.44 313.63,106.86 313.40,109.66 313.16,101.53 312.93,98.50 312.70,103.41 312.46,105.86 312.23,104.00 312.00,103.59 311.77,112.77 311.53,103.28 311.30,101.00" fill="#dfecf9" stroke="none"/>
<path d="M311.30 101.00V84.42M311.53 103.28V79.46M311.77 112.77V89.83M312.00 103.59V84.30M312.23 104.00V79.27M312.46 105.86V86.26M312.70 103.41V74.68M312.93 98.50V85.61M313.16 101.53V88.13M313.40 109.66V81.49M313.63 106.86V74.21M313.86 102.44V87.58M314.09 104.78V89.52M314.33 102.15V78.70M314.56 102.99V76.68M314.79 98.96V71.59M315.03 97.94V83.86M315.26 98.19V66.74M315.49 98.94V86.10M315.72 101.13V84.31M315.96 103.17V90.21M316.19 98.00V83.89M316.42 98.00V84.36M316.66 98.97V85.08M316.89 100.75V73.84M317.12 104.82V67.12M317.35 100.86V83.67M317.59 103.13V80.57M317.82 101.44V79.48M318.05 101.31V85.48M318.29 104.66V84.92M318.52 103.86V81.07M318.75 101.62V86.38M318.98 100.67V81.89M319.22 98.68V84.36M319.45 99.89V85.30M319.68 101.34V66.92M319.92 98.68V81.45M320.15 101.25V86.89M320.38 98.22V76.25M320.61 101.61V86.79M320.85 100.15V74.95M321.08 103.61V90.22M321.31 105.23V88.90M321.55 101.66V88.02M321.78 97.91V72.84M322.01 104.78V92.13M322.24 104.78V91.01M322.48 109.66V88.35M322.71 103.51V87.30M322.94 101.00V86.74M323.18 98.30V70.75M323.41 105.04V67.33M323.64 101.69V74.77M323.87 101.52V83.29M324.11 101.72V85.04M324.34 99.74V71.66M324.57 96.53V83.83M324.81 101.38V62.36M325.04 97.59V76.61M325.27 103.83V81.09M325.50 98.38V68.71M325.74 98.49V83.05M325.97 98.11V80.40M326.20 100.33V63.54M326.44 95.58V78.38M326.67 87.51V76.08M326.90 92.40V70.19M327.13 88.63V77.01M327.37 95.38V79.34M327.60 100.79V70.72M327.83 94.21V76.81M328.07 87.05V70.73M328.30 91.59V63.97M328.53 90.91V77.52M328.76 86.05V73.79M329.00 97.49V59.87M329.23 94.03V76.65M329.46 86.11V74.79M329.70 91.94V74.93M329.93 86.26V78.33M330.16 91.95V81.72M330.39 95.13V81.45M330.63 88.16V79.08M330.86 92.53V77.74M331.09 91.00V72.57M331.33 94.33V78.63M331.56 92.46V83.51M331.79 93.28V84.24M332.02 93.60V80.90M332.26 92.44V76.04M332.49 90.68V81.26M332.72 87.03V70.93M332.96 93.02V81.57M333.19 90.27V80.09M333.42 92.74V77.73M333.65 93.11V84.64M333.89 93.96V63.84M334.12 88.58V71.30M334.35 91.75V68.57M334.59 94.34V73.56M334.82 95.10V83.47M335.05 98.42V80.26M335.28 101.78V80.75M335.52 100.06V90.30M335.75 95.52V82.89M335.98 100.09V90.07M336.22 90.14V79.20M336.45 91.05V74.10M336.68 91.38V80.86M336.92 91.71V81.74M337.15 91.62V78.78M337.38 94.05V82.21M337.61 86.83V77.43M337.85 90.71V82.41M338.08 92.92V82.46M338.31 85.73V76.17M338.55 90.05V78.93M338.78 88.69V78.62M339.01 89.30V73.26M339.24 82.55V69.57M339.48 90.08V78.05M339.71 86.66V71.78M339.94 93.24V81.32M340.18 92.16V58.03M340.41 84.39V71.79M340.64 91.52V78.43M340.87 96.93V65.44M341.11 92.10V65.27M341.34 91.64V70.58M341.57 92.55V80.91M341.81 93.13V69.98M342.04 89.47V67.50M342.27 92.04V70.52M342.50 90.56V72.57M342.74 90.21V69.61M342.97 83.51V72.62M343.20 89.28V74.48M343.44 83.49V57.31M343.67 84.08V62.58M343.90 84.70V69.58M344.13 85.80V59.22M344.37 87.89V71.52M344.60 80.31V72.24M344.83 79.85V68.47M345.07 83.29V62.00M345.30 89.18V60.78M345.53 75.57V67.07M345.76 82.27V61.96M346.00 73.29V64.06M346.23 84.92V64.06M346.46 81.57V72.23M346.70 78.63V64.05M346.93 75.96V66.46M347.16 83.72V71.98M347.39 79.09V70.51M347.63 76.58V66.12M347.86 84.33V68.88M348.09 79.87V68.47M348.33 83.27V51.42M348.56 81.03V61.52M348.79 84.04V67.79M349.02 89.00V74.58M349.26 92.53V82.61M349.49 93.36V83.29M349.72 95.24V83.06M349.96 95.55V69.57M350.19 102.17V85.79M350.42 102.85V74.43M350.65 90.78V77.85M350.89 95.14V83.51M351.12 96.52V83.43M351.35 91.91V82.95M351.59 100.04V81.45M351.82 97.85V83.37M352.05 90.05V79.36M352.28 93.89V80.37M352.52 96.23V66.02M352.75 91.71V61.74M352.98 94.51V83.92M353.22 99.58V64.97M353.45 97.45V80.05M353.68 95.92V79.41M353.91 101.33V82.39M354.15 100.00V84.48M354.38 99.50V68.34M354.61 94.51V82.77M354.85 97.79V83.79M355.08 95.29V86.44M355.31 95.46V86.26M355.54 105.39V88.55M355.78 100.60V80.17M356.01 96.26V79.90M356.24 89.89V78.88M356.48 91.28V76.49M356.71 95.73V74.98M356.94 93.91V78.74M357.17 99.07V82.23M357.41 93.55V82.84M357.64 92.14V80.75M357.87 87.27V78.23M358.11 89.00V80.32M358.34 95.22V81.10M358.57 90.23V58.91M358.80 91.56V78.14M359.04 88.08V75.68M359.27 92.95V72.98M359.50 90.10V71.17M359.74 91.97V59.65M359.97 88.78V64.97M360.20 88.22V77.36M360.43 87.20V57.21M360.67 86.88V77.05M360.90 83.54V67.49M361.13 88.43V77.54M361.37 86.70V76.70M361.60 84.10V71.12M361.83 83.00V66.74M362.06 83.22V74.30M362.30 80.55V70.99M362.53 86.82V56.18M362.76 84.97V73.08M363.00 89.50V70.97M363.23 75.77V65.49M363.46 83.98V52.49M363.69 87.53V64.81M363.93 86.35V73.78M364.16 80.72V67.37M364.39 84.49V67.17M364.63 81.95V65.49M364.86 77.78V59.08M365.09 78.29V69.14M365.32 75.42V63.65M365.56 76.66V48.14M365.79 78.49V68.88M366.02 77.16V65.63M366.26 72.10V56.50M366.49 75.35V55.44M366.72 82.98V72.43M366.95 82.30V67.75M367.19 82.23V72.10M367.42 88.95V79.42M367.65 84.54V61.55M367.89 84.40V55.27M368.12 91.47V64.60M368.35 91.42V80.71M368.58 94.90V79.17M368.82 92.80V81.32M369.05 92.23V63.70M369.28 93.80V78.57M369.52 102.65V69.50M369.75 94.38V71.85M369.98 89.76V79.23M370.21 95.90V84.30M370.45 103.45V81.99M370.68 93.92V81.36M370.91 95.64V84.37M371.15 95.47V86.51M371.38 86.53V77.62M371.61 91.55V82.40M371.84 94.40V70.78M372.08 95.90V61.17M372.31 91.33V80.92M372.54 93.58V77.03M372.78 94.30V62.24M373.01 95.75V82.84M373.24 97.43V80.56M373.47 93.04V63.21M373.71 101.69V80.56M373.94 93.41V81.93M374.17 89.96V81.15M374.41 94.26V65.49M374.64 96.96V83.13M374.87 101.49V85.56M375.10 101.09V85.15M375.34 93.25V69.71M375.57 98.98V87.58M375.80 92.52V73.00M376.04 99.85V83.68M376.27 100.73V86.93M376.50 94.89V84.92M376.73 95.83V79.19M376.97 100.28V82.79M377.20 95.96V74.63M377.43 89.88V79.84M377.67 95.68V71.33M377.90 90.89V75.10M378.13 88.42V74.73M378.36 87.79V77.23M378.60 93.50V82.49M378.83 88.24V77.08M379.06 86.61V69.19M379.30 85.06V60.13M379.53 84.19V64.45M379.76 86.20V75.19M379.99 86.63V74.93M380.23 89.73V80.64M380.46 90.22V75.05M380.69 83.03V70.52M380.93 93.64V75.01M381.16 90.06V72.11M381.39 88.17V59.95M381.62 84.19V72.75M381.86 85.29V75.32M382.09 84.02V69.54M382.32 85.39V71.80M382.56 84.64V66.53M382.79 86.19V67.47M383.02 82.04V70.31M383.25 84.91V65.98M383.49 88.49V75.12M383.72 83.73V55.04M383.95 78.40V66.60M384.19 74.03V64.57M384.42 74.16V63.37M384.65 74.11V61.17M384.88 73.46V61.07M385.12 70.20V60.13M385.35 72.20V60.41M385.58 82.62V56.95M385.82 82.60V55.97M386.05 79.91V65.53M386.28 86.08V69.70M386.52 80.55V68.33M386.75 90.06V77.99M386.98 88.75V66.08M387.21 98.50V82.49M387.45 103.09V79.69M387.68 95.16V82.16M387.91 97.51V81.04M388.15 98.57V83.57M388.38 97.93V81.69M388.61 92.08V80.33M388.84 93.37V81.64M389.08 91.57V81.08M389.31 103.36V73.11M389.54 92.54V78.30M389.78 98.25V83.46M390.01 97.90V66.67M390.24 91.54V80.84M390.47 96.07V83.95M390.71 93.31V79.45M390.94 90.66V77.44M391.17 98.61V81.08M391.41 94.32V80.88M391.64 90.04V75.21M391.87 89.76V75.90M392.10 87.63V68.75M392.34 94.20V83.55M392.57 94.07V79.67M392.80 86.35V72.58M393.04 91.89V78.30M393.27 95.07V70.63M393.50 94.11V66.07M393.73 89.09V79.52M393.97 99.68V68.03M394.20 98.00V69.08M394.43 92.58V76.61M394.67 96.28V81.64M394.90 90.06V78.59M395.13 93.31V71.46M395.36 97.61V79.26M395.60 92.45V82.17M395.83 89.40V73.07M396.06 88.12V77.78M396.30 102.11V74.22M396.53 93.92V79.90M396.76 91.77V76.40M396.99 103.54V62.48M397.23 86.86V73.63M397.46 87.13V77.48M397.69 84.05V74.40M397.93 98.76V80.87M398.16 97.49V62.13M398.39 87.67V57.75M398.62 87.08V74.76M398.86 88.26V76.22M399.09 83.63V59.48M399.32 85.24V74.76M399.56 78.76V66.99M399.79 83.46V71.47M400.02 85.77V68.25M400.25 88.19V71.73M400.49 77.94V68.40M400.72 79.46V66.70M400.95 81.48V69.44M401.19 84.99V74.16M401.42 82.25V50.33M401.65 80.93V64.31M401.88 78.35V64.24M402.12 78.71V60.10M402.35 73.71V51.20M402.58 75.77V63.60M402.82 72.66V59.45M403.05 73.04V58.36M403.28 67.77V51.73M403.51 76.81V49.77M403.75 69.20V55.32M403.98 70.14V55.60M404.21 78.62V43.06M404.45 74.52V63.09M404.68 79.22V64.47M404.91 76.85V47.45M405.14 81.92V62.85M405.38 85.70V48.11M405.61 84.73V63.25M405.84 81.92V52.46M406.08 82.91V61.70M406.31 90.30V72.09M406.54 92.23V65.62M406.77 90.87V77.09M407.01 89.40V78.28M407.24 94.98V67.19M407.47 93.16V80.05M407.71 99.98V82.81M407.94 100.54V82.52M408.17 95.10V81.11M408.40 101.71V81.62M408.64 96.20V82.78M408.87 95.50V83.87M409.10 94.90V82.93M409.34 104.09V83.63M409.57 93.88V81.96M409.80 98.03V72.82M410.03 88.27V63.56M410.27 94.94V84.03M410.50 97.94V86.51M410.73 105.77V81.65M410.97 98.00V86.79M411.20 103.09V82.01M411.43 97.56V83.05M411.66 94.20V77.46M411.90 97.98V83.70M412.13 96.55V80.95M412.36 93.39V75.47M412.60 96.41V78.54M412.83 97.62V76.70M413.06 92.78V73.33M413.29 95.19V62.17M413.53 93.72V82.83M413.76 91.91V68.86M413.99 94.56V58.37M414.23 89.66V60.36M414.46 97.88V59.45M414.69 87.01V73.80M414.92 84.54V63.72M415.16 89.96V74.38M415.39 82.18V67.51M415.62 90.62V69.84M415.86 81.12V67.24M416.09 77.25V51.06M416.32 85.80V59.28M416.55 84.23V72.03M416.79 85.78V71.26M417.02 82.99V70.27M417.25 84.68V62.95M417.49 86.32V69.42M417.72 85.77V59.10M417.95 84.57V73.85M418.18 84.28V63.29M418.42 84.00V70.39M418.65 82.11V71.09M418.88 88.86V78.95M419.12 86.31V74.08M419.35 84.71V74.62M419.58 88.54V73.71M419.81 89.73V78.30M420.05 89.32V76.95M420.28 84.56V68.99M420.51 85.50V69.57M420.75 90.12V59.84M420.98 80.88V55.88M421.21 79.46V64.55M421.44 80.11V43.16M421.68 73.66V53.25M421.91 73.36V61.15M422.14 74.31V52.95M422.38 70.77V42.51M422.61 68.70V41.50M422.84 66.68V49.28M423.07 70.93V52.61M423.31 83.96V63.38M423.54 70.13V46.82M423.77 76.90V66.74M424.01 83.67V72.13M424.24 94.09V60.12M424.47 92.45V72.15M424.70 94.92V75.00M424.94 96.86V83.45M425.17 95.30V77.16M425.40 88.99V77.58M425.64 85.43V67.13M425.87 90.01V78.93M426.10 86.99V73.43M426.33 89.35V76.39M426.57 93.17V77.62M426.80 90.81V68.03M427.03 92.73V74.94M427.27 93.35V72.21M427.50 92.19V64.68M427.73 89.39V77.93M427.96 96.92V81.82M428.20 99.49V81.83M428.43 93.13V80.49M428.66 96.12V81.94M428.90 102.44V84.91M429.13 98.98V87.30M429.36 93.20V80.66M429.59 96.94V80.82M429.83 96.68V78.22M430.06 98.19V84.49M430.29 99.34V87.18M430.53 92.98V80.06M430.76 95.21V63.01M430.99 96.22V72.24M431.22 90.89V64.11M431.46 91.85V76.59M431.69 91.11V80.04M431.92 93.08V75.61M432.16 87.46V75.11M432.39 87.83V57.61M432.62 89.48V76.99M432.85 84.35V71.95M433.09 89.61V72.64M433.32 87.68V74.72M433.55 91.17V72.33M433.79 83.66V67.41M434.02 81.62V65.89M434.25 86.29V67.62M434.48 88.99V56.00M434.72 86.51V61.16M434.95 77.80V66.00M435.18 79.04V50.48M435.42 80.62V65.76M435.65 80.73V65.90M435.88 77.36V48.62M436.12 89.98V64.40M436.35 76.91V45.62M436.58 72.61V62.01M436.81 77.81V50.79M437.05 77.01V46.30M437.28 74.54V44.90M437.51 74.26V46.19M437.75 74.14V60.06M437.98 73.33V59.32M438.21 77.82V52.36M438.44 76.65V51.97M438.68 78.98V63.50M438.91 82.84V56.00M439.14 87.87V55.25M439.38 80.39V63.68M439.61 89.95V74.56M439.84 79.51V68.15M440.07 85.80V66.49M440.31 77.95V66.34M440.54 72.81V62.10M440.77 70.15V56.84M441.01 67.10V52.69M441.24 68.96V46.47M441.47 70.32V37.40M441.70 62.32V33.00M441.94 71.42V55.66M442.17 73.51V60.69M442.40 79.94V61.83M442.64 80.70V61.83M442.87 88.60V75.92M443.10 90.77V75.06M443.33 93.68V80.19M443.57 98.13V78.14M443.80 93.73V79.84M444.03 97.53V84.30M444.27 92.20V80.22M444.50 91.92V69.21M444.73 93.53V79.92M444.96 96.99V83.13M445.20 102.29V84.68M445.43 92.23V63.02M445.66 97.47V83.38M445.90 93.43V74.98M446.13 103.48V82.81M446.36 105.93V84.91M446.59 96.82V83.47M446.83 97.42V84.84M447.06 94.12V82.97M447.29 98.30V65.54M447.53 97.57V81.82M447.76 96.44V83.42M447.99 95.96V69.27M448.22 92.77V71.25M448.46 100.01V83.40M448.69 102.34V79.10M448.92 98.01V70.31M449.16 98.04V80.17M449.39 95.59V80.99M449.62 91.86V75.69M449.85 89.86V59.72M450.09 90.75V73.48M450.32 88.62V66.56M450.55 87.85V59.92M450.79 83.42V62.20M451.02 78.96V66.42M451.25 84.53V68.20M451.48 77.45V64.76M451.72 79.52V66.46M451.95 84.76V71.06M452.18 78.65V62.79M452.42 77.64V47.27M452.65 73.01V60.77M452.88 77.53V61.85M453.11 71.14V56.87M453.35 76.31V62.43M453.58 85.97V60.09M453.81 67.31V49.41M454.05 69.52V48.30M454.28 71.78V59.05M454.51 77.84V63.59M454.74 73.50V58.66M454.98 73.35V53.67M455.21 78.05V64.76M455.44 85.17V46.43M455.68 80.69V69.25M455.91 84.90V66.99M456.14 83.29V56.37M456.37 93.46V52.91M456.61 85.89V74.00M456.84 83.71V55.23M457.07 96.27V74.88M457.31 91.07V74.02M457.54 92.75V69.10M457.77 85.97V60.72M458.00 94.25V63.82M458.24 83.25V69.04M458.47 91.30V72.87M458.70 85.14V72.16M458.94 77.52V64.82M459.17 83.39V64.05M459.40 77.29V59.57M459.63 67.95V56.44M459.87 68.26V39.55M460.10 66.21V49.21" stroke="#aacdf0" stroke-width="0.4" opacity="0.85" fill="none"/>
<polyline points="311.30,92.71 311.77,99.84 312.23,95.56 312.70,96.79 313.16,94.83 313.63,96.42 314.09,97.15 314.56,90.88 315.03,90.90 315.49,92.52 315.96,96.69 316.42,91.18 316.89,91.99 317.35,93.49 317.82,93.40 318.29,93.67 318.75,94.00 319.22,91.52 319.68,91.25 320.15,94.07 320.61,94.20 321.08,96.92 321.55,94.84 322.01,98.45 322.48,96.54 322.94,93.87 323.41,93.62 323.87,92.41 324.34,92.79 324.81,90.36 325.27,89.02 325.74,90.77 326.20,86.03 326.67,81.79 327.13,82.82 327.60,88.48 328.07,82.65 328.53,84.22 329.00,82.67 329.46,80.45 329.93,82.30 330.39,88.29 330.86,83.97 331.33,89.51 331.79,88.76 332.26,85.17 332.72,81.68 333.19,85.18 333.65,88.87 334.12,84.23 334.59,88.51 335.05,90.76 335.52,95.18 335.98,95.08 336.45,86.52 336.92,86.72 337.38,88.13 337.85,86.56 338.31,80.95 338.78,83.65 339.24,78.60 339.71,82.63 340.18,82.03 340.64,83.92 341.11,86.49 341.57,86.04 342.04,82.77 342.50,81.47 342.97,78.95 343.44,77.46 343.90,80.39 344.37,79.71 344.83,73.34 345.30,78.78 345.76,76.12 346.23,72.80 346.70,71.34 347.16,77.85 347.63,71.35 348.09,74.17 348.56,71.28 349.02,81.79 349.49,88.44 349.96,89.24 350.42,91.02 350.89,89.32 351.35,87.56 351.82,87.72 352.28,89.77 352.75,85.55 353.22,88.06 353.68,87.67 354.15,92.24 354.61,89.82 355.08,90.86 355.54,93.33 356.01,90.91 356.48,81.16 356.94,85.68 357.41,88.20 357.87,82.75 358.34,88.16 358.80,84.85 359.27,82.97 359.74,83.35 360.20,82.90 360.67,82.66 361.13,82.99 361.60,77.61 362.06,78.76 362.53,79.30 363.00,76.17 363.46,75.93 363.93,80.06 364.39,71.96 364.86,72.01 365.32,68.50 365.79,73.68 366.26,66.66 366.72,77.71 367.19,77.16 367.65,78.69 368.12,84.40 368.58,85.36 369.05,86.72 369.52,91.93 369.98,85.08 370.45,88.53 370.91,90.00 371.38,82.08 371.84,89.05 372.31,86.93 372.78,86.83 373.24,89.00 373.71,87.35 374.17,85.55 374.64,90.52 375.10,91.83 375.57,93.28 376.04,90.48 376.50,89.90 376.97,89.17 377.43,84.86 377.90,83.00 378.36,82.51 378.83,82.66 379.30,80.29 379.76,80.70 380.23,85.19 380.69,76.77 381.16,79.05 381.62,78.47 382.09,76.00 382.56,75.58 383.02,76.17 383.49,81.80 383.95,72.50 384.42,68.77 384.88,67.26 385.35,66.31 385.82,71.92 386.28,75.89 386.75,84.02 387.21,88.19 387.68,86.81 388.15,91.07 388.61,86.20 389.08,86.39 389.54,85.42 390.01,90.00 390.47,90.01 390.94,82.36 391.41,87.60 391.87,83.42 392.34,88.87 392.80,79.47 393.27,85.19 393.73,84.31 394.20,91.66 394.67,88.96 395.13,84.00 395.60,87.31 396.06,82.95 396.53,86.91 396.99,86.64 397.46,82.31 397.93,87.80 398.39,81.85 398.86,82.24 399.32,80.00 399.79,77.47 400.25,76.91 400.72,73.08 401.19,79.57 401.65,72.62 402.12,70.88 402.58,69.69 403.05,65.70 403.51,63.65 403.98,62.87 404.45,68.00 404.91,70.17 405.38,71.12 405.84,74.52 406.31,81.20 406.77,85.30 407.24,87.84 407.71,91.16 408.17,88.10 408.64,89.49 409.10,88.91 409.57,87.92 410.03,83.14 410.50,92.23 410.97,92.39 411.43,90.31 411.90,88.79 412.36,87.54 412.83,86.07 413.29,84.76 413.76,82.92 414.23,82.08 414.69,80.02 415.16,82.17 415.62,76.60 416.09,71.24 416.55,78.13 417.02,76.63 417.49,79.72 417.95,79.21 418.42,77.19 418.88,83.90 419.35,79.66 419.81,84.01 420.28,79.18 420.75,76.44 421.21,72.00 421.68,67.17 422.14,66.22 422.61,60.35 423.07,61.77 423.54,64.86 424.01,77.90 424.47,86.62 424.94,88.78 425.40,83.28 425.87,84.47 426.33,82.41 426.80,85.25 427.27,87.93 427.73,83.66 428.20,88.82 428.66,89.03 429.13,93.14 429.59,88.88 430.06,91.34 430.53,86.52 430.99,90.19 431.46,84.22 431.92,84.34 432.39,80.61 432.85,78.15 433.32,81.20 433.79,77.21 434.25,74.15 434.72,77.26 435.18,72.56 435.65,73.31 436.12,76.61 436.58,67.31 437.05,69.38 437.51,67.42 437.98,66.32 438.44,71.27 438.91,74.41 439.38,72.03 439.84,73.83 440.31,72.14 440.77,63.49 441.24,61.11 441.70,56.52 442.17,66.28 442.64,74.43 443.10,81.14 443.57,84.25 444.03,90.92 444.50,85.85 444.96,90.06 445.43,86.43 445.90,87.81 446.36,91.68 446.83,91.13 447.29,91.19 447.76,89.93 448.22,86.73 448.69,87.89 449.16,89.11 449.62,83.77 450.09,84.40 450.55,76.78 451.02,72.11 451.48,70.20 451.95,77.91 452.42,71.64 452.88,68.48 453.35,69.37 453.81,60.99 454.28,65.41 454.74,66.08 455.21,71.40 455.68,74.97 456.14,75.61 456.61,79.95 457.07,84.09 457.54,81.51 458.00,84.13 458.47,78.53 458.94,71.17 459.40,68.43 459.87,59.94" fill="none" stroke="#4a4a4a" stroke-width="0.65" stroke-linejoin="round"/>
<line x1="311.3" y1="32.1" x2="311.3" y2="116.4" stroke="#333" stroke-width="1"/>
<line x1="309.1" y1="116.4" x2="311.3" y2="116.4" stroke="#333" stroke-width="1"/>
<text x="307.7" y="119.16" font-size="7.7" text-anchor="end" fill="#141414" stroke="#141414" stroke-width="0.15">0</text>
<line x1="309.1" y1="99.54" x2="311.3" y2="99.54" stroke="#333" stroke-width="1"/>
<text x="307.7" y="102.3" font-size="7.7" text-anchor="end" fill="#141414" stroke="#141414" stroke-width="0.15">2</text>
<line x1="309.1" y1="82.68" x2="311.3" y2="82.68" stroke="#333" stroke-width="1"/>
<text x="307.7" y="85.44" font-size="7.7" text-anchor="end" fill="#141414" stroke="#141414" stroke-width="0.15">4</text>
<line x1="309.1" y1="65.82" x2="311.3" y2="65.82" stroke="#333" stroke-width="1"/>
<text x="307.7" y="68.58" font-size="7.7" text-anchor="end" fill="#141414" stroke="#141414" stroke-width="0.15">6</text>
<line x1="309.1" y1="48.96" x2="311.3" y2="48.96" stroke="#333" stroke-width="1"/>
<text x="307.7" y="51.72" font-size="7.7" text-anchor="end" fill="#141414" stroke="#141414" stroke-width="0.15">8</text>
<line x1="309.1" y1="32.1" x2="311.3" y2="32.1" stroke="#333" stroke-width="1"/>
<text x="307.7" y="34.86" font-size="7.7" text-anchor="end" fill="#141414" stroke="#141414" stroke-width="0.15">10</text>
<line x1="311.3" y1="116.4" x2="466.3" y2="116.4" stroke="#333" stroke-width="1"/>
<line x1="311.3" y1="116.4" x2="311.3" y2="118.6" stroke="#333" stroke-width="1"/>
<text x="311.3" y="125.56" font-size="7.7" text-anchor="middle" fill="#141414" stroke="#141414" stroke-width="0.15">1</text>
<line x1="329.9" y1="116.4" x2="329.9" y2="118.6" stroke="#333" stroke-width="1"/>
<text x="329.9" y="125.56" font-size="7.7" text-anchor="middle" fill="#141414" stroke="#141414" stroke-width="0.15">2</text>
<line x1="348.5" y1="116.4" x2="348.5" y2="118.6" stroke="#333" stroke-width="1"/>
<text x="348.5" y="125.56" font-size="7.7" text-anchor="middle" fill="#141414" stroke="#141414" stroke-width="0.15">3</text>
<line x1="367.1" y1="116.4" x2="367.1" y2="118.6" stroke="#333" stroke-width="1"/>
<text x="367.1" y="125.56" font-size="7.7" text-anchor="middle" fill="#141414" stroke="#141414" stroke-width="0.15">4</text>
<line x1="385.7" y1="116.4" x2="385.7" y2="118.6" stroke="#333" stroke-width="1"/>
<text x="385.7" y="125.56" font-size="7.7" text-anchor="middle" fill="#141414" stroke="#141414" stroke-width="0.15">5</text>
<line x1="404.3" y1="116.4" x2="404.3" y2="118.6" stroke="#333" stroke-width="1"/>
<text x="404.3" y="125.56" font-size="7.7" text-anchor="middle" fill="#141414" stroke="#141414" stroke-width="0.15">6</text>
<line x1="422.9" y1="116.4" x2="422.9" y2="118.6" stroke="#333" stroke-width="1"/>
<text x="422.9" y="125.56" font-size="7.7" text-anchor="middle" fill="#141414" stroke="#141414" stroke-width="0.15">7</text>
<line x1="441.5" y1="116.4" x2="441.5" y2="118.6" stroke="#333" stroke-width="1"/>
<text x="441.5" y="125.56" font-size="7.7" text-anchor="middle" fill="#141414" stroke="#141414" stroke-width="0.15">8</text>
<line x1="460.1" y1="116.4" x2="460.1" y2="118.6" stroke="#333" stroke-width="1"/>
<text x="460.1" y="125.56" font-size="7.7" text-anchor="middle" fill="#141414" stroke="#141414" stroke-width="0.15">9</text>
<text x="393.2" y="34.46" font-size="7.7" text-anchor="middle" fill="#141414" stroke="#141414" stroke-width="0.15">MOCK</text>
<text transform="translate(293.6,76) rotate(-90)" x="0" y="2.76" font-size="7.7" text-anchor="middle" fill="#141414" stroke="#141414" stroke-width="0.15">VO₂(ml/kg/hr)/1000</text>
<polygon points="311.40,195.89 311.63,201.50 311.87,196.41 312.10,194.17 312.33,177.12 312.56,187.66 312.80,189.66 313.03,181.62 313.26,194.76 313.50,180.75 313.73,181.69 313.96,191.85 314.19,194.90 314.43,194.39 314.66,176.56 314.89,191.78 315.13,192.26 315.36,191.48 315.59,191.03 315.82,178.93 316.06,189.95 316.29,192.31 316.52,181.36 316.76,184.86 316.99,186.81 317.22,183.94 317.45,184.04 317.69,191.19 317.92,197.27 318.15,192.76 318.39,192.12 318.62,190.95 318.85,189.51 319.08,195.71 319.32,188.85 319.55,185.63 319.78,191.37 320.02,197.83 320.25,185.90 320.48,193.79 320.71,201.00 320.95,191.43 321.18,180.91 321.41,198.07 321.65,190.02 321.88,180.44 322.11,190.18 322.34,195.20 322.58,192.14 322.81,186.28 323.04,186.94 323.28,188.55 323.51,200.92 323.74,185.54 323.97,187.99 324.21,182.48 324.44,188.66 324.67,187.77 324.91,194.62 325.14,186.88 325.37,186.63 325.60,187.82 325.84,187.75 326.07,188.43 326.30,180.09 326.54,183.82 326.77,187.08 327.00,185.38 327.23,186.54 327.47,182.58 327.70,182.98 327.93,190.92 328.17,186.94 328.40,181.92 328.63,185.93 328.86,187.51 329.10,177.12 329.33,185.57 329.56,186.64 329.80,190.06 330.03,174.66 330.26,187.35 330.49,181.72 330.73,176.76 330.96,175.49 331.19,176.50 331.43,182.63 331.66,183.78 331.89,183.94 332.12,187.94 332.36,182.34 332.59,186.67 332.82,174.76 333.06,172.37 333.29,181.91 333.52,179.52 333.75,181.00 333.99,181.31 334.22,190.29 334.45,178.49 334.69,174.62 334.92,173.04 335.15,168.06 335.38,177.09 335.62,186.18 335.85,185.49 336.08,186.82 336.32,181.31 336.55,168.33 336.78,190.25 337.02,184.64 337.25,184.89 337.48,183.81 337.71,190.70 337.95,187.98 338.18,183.91 338.41,191.08 338.65,177.64 338.88,186.47 339.11,170.28 339.34,177.98 339.58,185.89 339.81,176.97 340.04,196.50 340.28,172.04 340.51,179.11 340.74,181.00 340.97,185.36 341.21,169.88 341.44,185.04 341.67,183.62 341.91,180.85 342.14,177.32 342.37,188.41 342.60,185.57 342.84,192.78 343.07,182.60 343.30,187.02 343.54,163.03 343.77,159.41 344.00,181.02 344.23,173.85 344.47,179.84 344.70,184.83 344.93,173.42 345.17,182.69 345.40,172.32 345.63,175.63 345.86,176.25 346.10,174.55 346.33,182.34 346.56,185.98 346.80,178.88 347.03,179.36 347.26,183.77 347.49,174.33 347.73,180.55 347.96,175.13 348.19,169.65 348.43,183.27 348.66,161.92 348.89,186.20 349.12,171.84 349.36,172.20 349.59,189.69 349.82,166.58 350.06,167.30 350.29,174.01 350.52,181.38 350.75,180.08 350.99,170.65 351.22,179.44 351.45,180.86 351.69,184.89 351.92,180.69 352.15,181.28 352.38,174.19 352.62,177.14 352.85,180.48 353.08,179.25 353.32,179.46 353.55,178.25 353.78,180.94 354.01,183.00 354.25,176.20 354.48,160.88 354.71,165.92 354.95,178.02 355.18,181.74 355.41,177.78 355.64,176.05 355.88,179.16 356.11,167.44 356.34,184.06 356.58,175.70 356.81,172.82 357.04,188.89 357.27,180.63 357.51,177.71 357.74,174.00 357.97,176.43 358.21,178.92 358.44,182.19 358.67,188.55 358.90,175.40 359.14,187.61 359.37,180.13 359.60,172.56 359.84,179.97 360.07,157.75 360.30,166.77 360.53,182.75 360.77,166.44 361.00,177.41 361.23,181.19 361.47,174.79 361.70,179.33 361.93,175.50 362.16,177.32 362.40,175.51 362.63,176.08 362.86,181.29 363.10,175.78 363.33,179.25 363.56,183.39 363.79,173.42 364.03,173.16 364.26,181.52 364.49,173.44 364.73,183.69 364.96,179.03 365.19,180.64 365.42,184.62 365.66,170.88 365.89,166.80 366.12,173.23 366.36,179.17 366.59,160.08 366.82,178.29 367.05,179.04 367.29,160.57 367.52,162.95 367.75,174.84 367.99,162.23 368.22,177.51 368.45,181.51 368.68,173.54 368.92,175.21 369.15,180.36 369.38,176.79 369.62,169.91 369.85,173.48 370.08,181.12 370.31,168.99 370.55,178.36 370.78,185.50 371.01,178.71 371.25,157.20 371.48,176.95 371.71,164.94 371.94,164.68 372.18,181.89 372.41,176.47 372.64,186.31 372.88,179.76 373.11,174.22 373.34,171.63 373.57,176.33 373.81,157.71 374.04,167.42 374.27,184.19 374.51,172.92 374.74,181.67 374.97,164.72 375.20,160.27 375.44,173.65 375.67,172.77 375.90,181.52 376.14,175.03 376.37,148.33 376.60,178.82 376.83,176.39 377.07,181.43 377.30,175.48 377.53,174.37 377.77,168.77 378.00,158.49 378.23,176.17 378.46,173.95 378.70,179.94 378.93,172.31 379.16,178.53 379.40,170.52 379.63,171.92 379.86,184.40 380.09,164.68 380.33,178.65 380.56,170.98 380.79,168.46 381.03,160.67 381.26,173.74 381.49,157.23 381.72,170.76 381.96,156.57 382.19,182.71 382.42,168.54 382.66,158.83 382.89,170.84 383.12,165.21 383.35,167.90 383.59,165.01 383.82,148.66 384.05,161.51 384.29,161.07 384.52,161.62 384.75,153.88 384.98,171.17 385.22,169.45 385.45,181.68 385.68,157.51 385.92,169.66 386.15,152.67 386.38,172.31 386.62,170.42 386.85,175.38 387.08,175.36 387.31,183.26 387.55,180.24 387.78,169.43 388.01,170.36 388.25,178.74 388.48,175.65 388.71,164.13 388.94,179.48 389.18,173.23 389.41,176.81 389.64,164.28 389.88,175.58 390.11,180.32 390.34,180.22 390.57,178.43 390.81,179.14 391.04,176.52 391.27,162.97 391.51,169.58 391.74,177.49 391.97,175.42 392.20,176.17 392.44,179.71 392.67,172.48 392.90,177.24 393.14,171.72 393.37,176.03 393.60,181.92 393.83,163.64 394.07,170.62 394.30,178.14 394.53,180.01 394.77,176.69 395.00,176.70 395.23,166.23 395.46,177.33 395.70,178.45 395.93,186.38 396.16,164.36 396.40,164.26 396.63,175.23 396.86,174.43 397.09,158.80 397.33,169.63 397.56,170.79 397.79,180.54 398.03,178.16 398.26,179.65 398.49,179.00 398.72,173.18 398.96,181.79 399.19,178.87 399.42,181.68 399.66,188.39 399.89,182.45 400.12,167.92 400.35,172.86 400.59,161.43 400.82,181.87 401.05,172.82 401.29,174.66 401.52,181.90 401.75,177.78 401.98,183.59 402.22,185.43 402.45,188.51 402.68,183.82 402.92,170.22 403.15,179.55 403.38,164.97 403.61,183.30 403.85,169.35 404.08,184.30 404.31,184.54 404.55,181.52 404.78,176.94 405.01,179.76 405.24,164.72 405.48,182.05 405.71,179.45 405.94,175.11 406.18,188.46 406.41,180.54 406.64,177.31 406.87,175.73 407.11,183.04 407.34,179.74 407.57,180.98 407.81,179.83 408.04,176.25 408.27,174.77 408.50,177.41 408.74,175.49 408.97,177.38 409.20,182.58 409.44,167.33 409.67,170.21 409.90,165.06 410.13,179.83 410.37,166.18 410.60,169.98 410.83,179.78 411.07,180.14 411.30,180.52 411.53,182.18 411.76,176.85 412.00,179.46 412.23,176.02 412.46,177.36 412.70,182.76 412.93,176.76 413.16,176.88 413.39,176.74 413.63,179.03 413.86,178.29 414.09,184.00 414.33,173.15 414.56,178.67 414.79,162.02 415.02,182.56 415.26,175.39 415.49,170.56 415.72,176.04 415.96,168.59 416.19,179.94 416.42,171.54 416.65,184.39 416.89,179.70 417.12,170.86 417.35,182.52 417.59,180.00 417.82,182.54 418.05,180.93 418.28,167.12 418.52,175.47 418.75,184.22 418.98,180.23 419.22,181.33 419.45,184.82 419.68,179.09 419.91,178.98 420.15,176.27 420.38,182.15 420.61,183.00 420.85,172.56 421.08,159.66 421.31,189.63 421.54,177.26 421.78,180.24 422.01,163.74 422.24,179.03 422.48,155.43 422.71,166.58 422.94,150.55 423.17,169.48 423.41,169.66 423.64,161.21 423.87,169.14 424.11,161.81 424.34,176.39 424.57,174.58 424.80,175.26 425.04,177.95 425.27,170.33 425.50,181.16 425.74,178.71 425.97,187.50 426.20,174.47 426.43,180.08 426.67,178.90 426.90,180.14 427.13,164.07 427.37,186.74 427.60,183.60 427.83,176.09 428.06,187.42 428.30,186.27 428.53,196.21 428.76,185.62 429.00,171.98 429.23,187.69 429.46,184.29 429.69,186.78 429.93,178.61 430.16,176.97 430.39,178.59 430.63,186.42 430.86,188.50 431.09,171.20 431.32,180.83 431.56,171.09 431.79,184.20 432.02,186.85 432.26,177.94 432.49,187.18 432.72,176.46 432.95,178.70 433.19,173.11 433.42,184.78 433.65,183.90 433.89,182.55 434.12,181.25 434.35,181.10 434.58,184.90 434.82,192.73 435.05,177.85 435.28,188.75 435.52,200.35 435.75,183.47 435.98,169.44 436.22,190.58 436.45,189.92 436.68,186.13 436.91,184.99 437.15,184.20 437.38,184.10 437.61,188.98 437.85,163.69 438.08,169.08 438.31,186.39 438.54,185.06 438.78,187.21 439.01,178.42 439.24,191.36 439.48,181.51 439.71,182.14 439.94,173.88 440.17,185.84 440.41,172.84 440.64,188.34 440.87,185.77 441.11,169.53 441.34,187.25 441.57,178.74 441.80,191.51 442.04,199.06 442.27,181.15 442.50,190.79 442.74,175.12 442.97,196.22 443.20,194.56 443.43,186.38 443.67,191.30 443.90,176.05 444.13,183.05 444.37,189.53 444.60,188.92 444.83,190.18 445.06,197.60 445.30,173.94 445.53,186.03 445.76,185.18 446.00,181.40 446.23,186.89 446.46,173.01 446.69,192.20 446.93,194.80 447.16,190.41 447.39,188.61 447.63,200.12 447.86,177.16 448.09,189.78 448.32,188.18 448.56,191.26 448.79,188.62 449.02,189.84 449.26,188.62 449.49,191.51 449.72,193.12 449.95,191.53 450.19,178.01 450.42,191.57 450.65,184.92 450.89,183.68 451.12,193.13 451.35,188.95 451.58,186.93 451.82,187.76 452.05,187.38 452.28,185.06 452.52,190.59 452.75,190.57 452.98,188.73 453.21,191.03 453.45,186.69 453.68,190.41 453.91,187.04 454.15,187.66 454.38,189.94 454.61,187.99 454.84,188.74 455.08,189.53 455.31,191.27 455.54,189.95 455.78,192.96 456.01,191.75 456.24,191.58 456.47,192.30 456.71,187.65 456.94,191.67 457.17,192.67 457.41,190.63 457.64,193.17 457.87,185.83 458.10,186.41 458.34,194.15 458.57,190.10 458.80,191.93 459.04,189.85 459.27,191.99 459.50,190.09 459.73,192.40 459.97,193.38 460.20,193.11 460.20,236.86 459.97,238.81 459.73,235.91 459.50,236.67 459.27,234.28 459.04,232.71 458.80,234.37 458.57,231.42 458.34,228.87 458.10,234.46 457.87,233.98 457.64,226.21 457.41,230.59 457.17,230.93 456.94,224.54 456.71,228.20 456.47,224.51 456.24,223.19 456.01,223.47 455.78,220.64 455.54,223.49 455.31,219.88 455.08,220.22 454.84,220.90 454.61,222.96 454.38,215.71 454.15,214.99 453.91,219.39 453.68,215.64 453.45,216.00 453.21,212.53 452.98,212.67 452.75,216.70 452.52,212.40 452.28,215.68 452.05,211.77 451.82,209.28 451.58,210.08 451.35,210.60 451.12,211.05 450.89,206.98 450.65,208.96 450.42,211.49 450.19,205.25 449.95,207.26 449.72,207.13 449.49,204.80 449.26,208.45 449.02,203.27 448.79,203.67 448.56,203.44 448.32,202.17 448.09,203.79 447.86,204.55 447.63,212.46 447.39,206.49 447.16,213.69 446.93,211.80 446.69,208.35 446.46,204.13 446.23,209.27 446.00,198.41 445.76,207.02 445.53,206.64 445.30,203.26 445.06,209.91 444.83,212.03 444.60,206.74 444.37,200.47 444.13,201.07 443.90,206.24 443.67,203.72 443.43,204.44 443.20,210.18 442.97,212.04 442.74,203.55 442.50,202.48 442.27,202.98 442.04,209.80 441.80,202.71 441.57,202.52 441.34,202.45 441.11,196.70 440.87,207.84 440.64,204.61 440.41,198.67 440.17,206.58 439.94,208.06 439.71,203.31 439.48,199.99 439.24,209.91 439.01,196.36 438.78,198.67 438.54,201.11 438.31,209.05 438.08,192.23 437.85,196.33 437.61,205.96 437.38,195.78 437.15,199.39 436.91,198.80 436.68,198.73 436.45,202.60 436.22,205.00 435.98,207.61 435.75,203.13 435.52,211.81 435.28,199.79 435.05,200.91 434.82,205.44 434.58,206.57 434.35,203.24 434.12,213.41 433.89,199.73 433.65,195.96 433.42,200.23 433.19,197.40 432.95,197.08 432.72,216.50 432.49,203.24 432.26,201.63 432.02,200.79 431.79,206.54 431.56,201.79 431.32,199.36 431.09,196.52 430.86,199.68 430.63,202.60 430.39,195.01 430.16,196.90 429.93,198.52 429.69,205.47 429.46,198.36 429.23,198.99 429.00,210.56 428.76,197.43 428.53,207.30 428.30,202.69 428.06,202.91 427.83,195.94 427.60,197.36 427.37,202.19 427.13,204.86 426.90,195.17 426.67,195.22 426.43,208.38 426.20,191.07 425.97,198.72 425.74,194.87 425.50,197.13 425.27,191.07 425.04,190.41 424.80,196.32 424.57,195.09 424.34,190.88 424.11,194.47 423.87,183.20 423.64,186.31 423.41,182.70 423.17,182.93 422.94,176.87 422.71,188.72 422.48,188.46 422.24,190.35 422.01,182.35 421.78,195.36 421.54,197.30 421.31,201.78 421.08,195.67 420.85,186.38 420.61,197.41 420.38,192.85 420.15,193.46 419.91,196.15 419.68,199.21 419.45,204.56 419.22,200.82 418.98,194.82 418.75,201.49 418.52,195.77 418.28,195.18 418.05,197.97 417.82,199.57 417.59,196.14 417.35,195.84 417.12,205.35 416.89,198.01 416.65,201.34 416.42,196.28 416.19,196.19 415.96,199.46 415.72,187.84 415.49,202.12 415.26,203.51 415.02,194.24 414.79,193.28 414.56,193.08 414.33,197.06 414.09,199.21 413.86,198.75 413.63,190.95 413.39,194.34 413.16,191.70 412.93,189.21 412.70,197.77 412.46,202.66 412.23,191.89 412.00,208.50 411.76,200.86 411.53,198.90 411.30,193.40 411.07,197.88 410.83,198.15 410.60,194.74 410.37,197.75 410.13,191.67 409.90,200.54 409.67,189.22 409.44,193.12 409.20,194.19 408.97,192.00 408.74,196.65 408.50,196.39 408.27,190.40 408.04,193.16 407.81,202.36 407.57,198.62 407.34,192.18 407.11,199.96 406.87,194.24 406.64,203.17 406.41,198.64 406.18,204.96 405.94,209.90 405.71,198.16 405.48,196.03 405.24,185.92 405.01,192.18 404.78,193.29 404.55,201.92 404.31,197.54 404.08,203.58 403.85,188.64 403.61,195.45 403.38,189.67 403.15,191.30 402.92,190.18 402.68,196.84 402.45,199.28 402.22,196.48 401.98,198.03 401.75,191.53 401.52,198.71 401.29,202.88 401.05,202.07 400.82,203.57 400.59,196.28 400.35,190.48 400.12,198.52 399.89,197.83 399.66,203.32 399.42,194.54 399.19,197.38 398.96,195.14 398.72,203.19 398.49,194.19 398.26,192.45 398.03,199.06 397.79,197.16 397.56,192.85 397.33,181.86 397.09,191.61 396.86,195.33 396.63,189.86 396.40,190.10 396.16,196.66 395.93,197.96 395.70,194.91 395.46,198.14 395.23,197.04 395.00,202.26 394.77,192.28 394.53,192.50 394.30,190.20 394.07,183.70 393.83,208.82 393.60,194.32 393.37,205.55 393.14,195.26 392.90,209.10 392.67,194.48 392.44,191.23 392.20,200.29 391.97,202.12 391.74,203.58 391.51,191.63 391.27,191.87 391.04,190.18 390.81,196.86 390.57,190.29 390.34,191.67 390.11,200.58 389.88,193.76 389.64,199.31 389.41,192.93 389.18,196.40 388.94,193.10 388.71,189.73 388.48,197.43 388.25,197.31 388.01,186.99 387.78,183.50 387.55,193.70 387.31,200.60 387.08,191.07 386.85,190.34 386.62,194.90 386.38,195.63 386.15,185.48 385.92,190.26 385.68,191.02 385.45,193.15 385.22,191.29 384.98,188.99 384.75,190.35 384.52,186.17 384.29,176.62 384.05,182.19 383.82,175.37 383.59,182.23 383.35,185.04 383.12,184.66 382.89,183.67 382.66,185.28 382.42,183.31 382.19,193.88 381.96,189.92 381.72,187.35 381.49,191.89 381.26,185.68 381.03,186.02 380.79,187.05 380.56,189.37 380.33,196.81 380.09,201.48 379.86,196.83 379.63,192.43 379.40,193.14 379.16,192.69 378.93,197.26 378.70,195.34 378.46,186.76 378.23,188.40 378.00,189.46 377.77,193.93 377.53,198.48 377.30,195.30 377.07,192.93 376.83,194.11 376.60,195.50 376.37,180.73 376.14,189.26 375.90,192.83 375.67,187.11 375.44,192.57 375.20,189.20 374.97,199.14 374.74,203.13 374.51,186.19 374.27,198.18 374.04,196.70 373.81,197.77 373.57,187.11 373.34,191.35 373.11,189.33 372.88,192.93 372.64,198.42 372.41,194.07 372.18,196.38 371.94,190.75 371.71,204.62 371.48,195.91 371.25,195.20 371.01,196.37 370.78,202.89 370.55,193.26 370.31,197.14 370.08,202.24 369.85,184.98 369.62,189.52 369.38,192.65 369.15,194.10 368.92,202.81 368.68,190.24 368.45,194.93 368.22,198.39 367.99,202.45 367.75,194.07 367.52,192.44 367.29,188.02 367.05,191.61 366.82,192.31 366.59,186.67 366.36,192.92 366.12,198.56 365.89,202.73 365.66,193.29 365.42,196.32 365.19,193.00 364.96,192.29 364.73,197.01 364.49,195.42 364.26,200.12 364.03,190.72 363.79,195.32 363.56,194.56 363.33,194.08 363.10,188.86 362.86,201.03 362.63,189.75 362.40,186.24 362.16,194.47 361.93,196.62 361.70,196.26 361.47,192.34 361.23,197.74 361.00,190.85 360.77,206.52 360.53,193.50 360.30,196.66 360.07,191.40 359.84,195.68 359.60,186.22 359.37,192.28 359.14,199.44 358.90,187.15 358.67,199.19 358.44,197.91 358.21,195.12 357.97,196.98 357.74,197.18 357.51,197.24 357.27,201.15 357.04,201.38 356.81,201.31 356.58,201.51 356.34,199.34 356.11,197.25 355.88,202.78 355.64,193.70 355.41,194.77 355.18,192.40 354.95,193.33 354.71,204.06 354.48,197.59 354.25,193.24 354.01,197.17 353.78,191.90 353.55,189.57 353.32,197.01 353.08,199.63 352.85,197.53 352.62,191.48 352.38,192.53 352.15,194.18 351.92,198.61 351.69,200.25 351.45,195.39 351.22,195.42 350.99,206.58 350.75,198.48 350.52,196.95 350.29,204.73 350.06,192.57 349.82,196.31 349.59,213.16 349.36,193.44 349.12,190.98 348.89,198.04 348.66,191.96 348.43,197.08 348.19,203.12 347.96,187.49 347.73,194.24 347.49,198.27 347.26,198.71 347.03,194.81 346.80,189.87 346.56,202.72 346.33,194.03 346.10,199.44 345.86,207.61 345.63,194.70 345.40,199.78 345.17,194.98 344.93,198.11 344.70,199.15 344.47,199.64 344.23,189.35 344.00,194.94 343.77,202.01 343.54,193.68 343.30,210.12 343.07,199.28 342.84,203.63 342.60,197.60 342.37,200.23 342.14,204.23 341.91,196.52 341.67,207.77 341.44,205.39 341.21,195.85 340.97,198.16 340.74,197.89 340.51,200.64 340.28,198.68 340.04,208.15 339.81,195.71 339.58,212.95 339.34,201.92 339.11,201.48 338.88,205.77 338.65,205.76 338.41,210.37 338.18,206.35 337.95,208.78 337.71,201.44 337.48,202.68 337.25,198.39 337.02,198.73 336.78,202.05 336.55,200.92 336.32,193.25 336.08,200.56 335.85,202.99 335.62,205.52 335.38,194.92 335.15,199.03 334.92,209.03 334.69,195.93 334.45,190.93 334.22,204.91 333.99,193.56 333.75,202.64 333.52,200.96 333.29,198.34 333.06,198.04 332.82,194.27 332.59,200.45 332.36,197.56 332.12,207.10 331.89,205.14 331.66,198.95 331.43,203.55 331.19,197.06 330.96,194.60 330.73,192.70 330.49,206.52 330.26,203.31 330.03,201.84 329.80,205.00 329.56,209.88 329.33,196.53 329.10,202.34 328.86,205.62 328.63,202.46 328.40,193.34 328.17,206.55 327.93,202.15 327.70,204.12 327.47,196.51 327.23,204.33 327.00,205.02 326.77,201.57 326.54,195.76 326.30,196.68 326.07,202.66 325.84,202.77 325.60,200.70 325.37,206.85 325.14,208.08 324.91,208.24 324.67,200.07 324.44,211.84 324.21,205.43 323.97,203.95 323.74,206.65 323.51,212.68 323.28,210.20 323.04,201.58 322.81,204.86 322.58,206.30 322.34,208.88 322.11,201.74 321.88,204.01 321.65,200.67 321.41,210.31 321.18,207.43 320.95,204.47 320.71,214.05 320.48,206.88 320.25,209.65 320.02,210.15 319.78,210.66 319.55,207.15 319.32,205.98 319.08,215.81 318.85,205.54 318.62,205.64 318.39,207.18 318.15,207.20 317.92,215.24 317.69,205.77 317.45,203.29 317.22,195.95 316.99,212.12 316.76,207.44 316.52,204.19 316.29,206.34 316.06,215.32 315.82,207.13 315.59,207.49 315.36,205.70 315.13,208.18 314.89,210.50 314.66,211.89 314.43,209.79 314.19,210.65 313.96,206.55 313.73,211.56 313.50,208.55 313.26,207.64 313.03,205.93 312.80,202.72 312.56,205.32 312.33,213.29 312.10,211.12 311.87,214.36 311.63,215.08 311.40,216.02" fill="#f8e7cb" stroke="none"/>
<path d="M311.40 216.02V195.89M311.63 215.08V201.50M311.87 214.36V196.41M312.10 211.12V194.17M312.33 213.29V177.12M312.56 205.32V187.66M312.80 202.72V189.66M313.03 205.93V181.62M313.26 207.64V194.76M313.50 208.55V180.75M313.73 211.56V181.69M313.96 206.55V191.85M314.19 210.65V194.90M314.43 209.79V194.39M314.66 211.89V176.56M314.89 210.50V191.78M315.13 208.18V192.26M315.36 205.70V191.48M315.59 207.49V191.03M315.82 207.13V178.93M316.06 215.32V189.95M316.29 206.34V192.31M316.52 204.19V181.36M316.76 207.44V184.86M316.99 212.12V186.81M317.22 195.95V183.94M317.45 203.29V184.04M317.69 205.77V191.19M317.92 215.24V197.27M318.15 207.20V192.76M318.39 207.18V192.12M318.62 205.64V190.95M318.85 205.54V189.51M319.08 215.81V195.71M319.32 205.98V188.85M319.55 207.15V185.63M319.78 210.66V191.37M320.02 210.15V197.83M320.25 209.65V185.90M320.48 206.88V193.79M320.71 214.05V201.00M320.95 204.47V191.43M321.18 207.43V180.91M321.41 210.31V198.07M321.65 200.67V190.02M321.88 204.01V180.44M322.11 201.74V190.18M322.34 208.88V195.20M322.58 206.30V192.14M322.81 204.86V186.28M323.04 201.58V186.94M323.28 210.20V188.55M323.51 212.68V200.92M323.74 206.65V185.54M323.97 203.95V187.99M324.21 205.43V182.48M324.44 211.84V188.66M324.67 200.07V187.77M324.91 208.24V194.62M325.14 208.08V186.88M325.37 206.85V186.63M325.60 200.70V187.82M325.84 202.77V187.75M326.07 202.66V188.43M326.30 196.68V180.09M326.54 195.76V183.82M326.77 201.57V187.08M327.00 205.02V185.38M327.23 204.33V186.54M327.47 196.51V182.58M327.70 204.12V182.98M327.93 202.15V190.92M328.17 206.55V186.94M328.40 193.34V181.92M328.63 202.46V185.93M328.86 205.62V187.51M329.10 202.34V177.12M329.33 196.53V185.57M329.56 209.88V186.64M329.80 205.00V190.06M330.03 201.84V174.66M330.26 203.31V187.35M330.49 206.52V181.72M330.73 192.70V176.76M330.96 194.60V175.49M331.19 197.06V176.50M331.43 203.55V182.63M331.66 198.95V183.78M331.89 205.14V183.94M332.12 207.10V187.94M332.36 197.56V182.34M332.59 200.45V186.67M332.82 194.27V174.76M333.06 198.04V172.37M333.29 198.34V181.91M333.52 200.96V179.52M333.75 202.64V181.00M333.99 193.56V181.31M334.22 204.91V190.29M334.45 190.93V178.49M334.69 195.93V174.62M334.92 209.03V173.04M335.15 199.03V168.06M335.38 194.92V177.09M335.62 205.52V186.18M335.85 202.99V185.49M336.08 200.56V186.82M336.32 193.25V181.31M336.55 200.92V168.33M336.78 202.05V190.25M337.02 198.73V184.64M337.25 198.39V184.89M337.48 202.68V183.81M337.71 201.44V190.70M337.95 208.78V187.98M338.18 206.35V183.91M338.41 210.37V191.08M338.65 205.76V177.64M338.88 205.77V186.47M339.11 201.48V170.28M339.34 201.92V177.98M339.58 212.95V185.89M339.81 195.71V176.97M340.04 208.15V196.50M340.28 198.68V172.04M340.51 200.64V179.11M340.74 197.89V181.00M340.97 198.16V185.36M341.21 195.85V169.88M341.44 205.39V185.04M341.67 207.77V183.62M341.91 196.52V180.85M342.14 204.23V177.32M342.37 200.23V188.41M342.60 197.60V185.57M342.84 203.63V192.78M343.07 199.28V182.60M343.30 210.12V187.02M343.54 193.68V163.03M343.77 202.01V159.41M344.00 194.94V181.02M344.23 189.35V173.85M344.47 199.64V179.84M344.70 199.15V184.83M344.93 198.11V173.42M345.17 194.98V182.69M345.40 199.78V172.32M345.63 194.70V175.63M345.86 207.61V176.25M346.10 199.44V174.55M346.33 194.03V182.34M346.56 202.72V185.98M346.80 189.87V178.88M347.03 194.81V179.36M347.26 198.71V183.77M347.49 198.27V174.33M347.73 194.24V180.55M347.96 187.49V175.13M348.19 203.12V169.65M348.43 197.08V183.27M348.66 191.96V161.92M348.89 198.04V186.20M349.12 190.98V171.84M349.36 193.44V172.20M349.59 213.16V189.69M349.82 196.31V166.58M350.06 192.57V167.30M350.29 204.73V174.01M350.52 196.95V181.38M350.75 198.48V180.08M350.99 206.58V170.65M351.22 195.42V179.44M351.45 195.39V180.86M351.69 200.25V184.89M351.92 198.61V180.69M352.15 194.18V181.28M352.38 192.53V174.19M352.62 191.48V177.14M352.85 197.53V180.48M353.08 199.63V179.25M353.32 197.01V179.46M353.55 189.57V178.25M353.78 191.90V180.94M354.01 197.17V183.00M354.25 193.24V176.20M354.48 197.59V160.88M354.71 204.06V165.92M354.95 193.33V178.02M355.18 192.40V181.74M355.41 194.77V177.78M355.64 193.70V176.05M355.88 202.78V179.16M356.11 197.25V167.44M356.34 199.34V184.06M356.58 201.51V175.70M356.81 201.31V172.82M357.04 201.38V188.89M357.27 201.15V180.63M357.51 197.24V177.71M357.74 197.18V174.00M357.97 196.98V176.43M358.21 195.12V178.92M358.44 197.91V182.19M358.67 199.19V188.55M358.90 187.15V175.40M359.14 199.44V187.61M359.37 192.28V180.13M359.60 186.22V172.56M359.84 195.68V179.97M360.07 191.40V157.75M360.30 196.66V166.77M360.53 193.50V182.75M360.77 206.52V166.44M361.00 190.85V177.41M361.23 197.74V181.19M361.47 192.34V174.79M361.70 196.26V179.33M361.93 196.62V175.50M362.16 194.47V177.32M362.40 186.24V175.51M362.63 189.75V176.08M362.86 201.03V181.29M363.10 188.86V175.78M363.33 194.08V179.25M363.56 194.56V183.39M363.79 195.32V173.42M364.03 190.72V173.16M364.26 200.12V181.52M364.49 195.42V173.44M364.73 197.01V183.69M364.96 192.29V179.03M365.19 193.00V180.64M365.42 196.32V184.62M365.66 193.29V170.88M365.89 202.73V166.80M366.12 198.56V173.23M366.36 192.92V179.17M366.59 186.67V160.08M366.82 192.31V178.29M367.05 191.61V179.04M367.29 188.02V160.57M367.52 192.44V162.95M367.75 194.07V174.84M367.99 202.45V162.23M368.22 198.39V177.51M368.45 194.93V181.51M368.68 190.24V173.54M368.92 202.81V175.21M369.15 194.10V180.36M369.38 192.65V176.79M369.62 189.52V169.91M369.85 184.98V173.48M370.08 202.24V181.12M370.31 197.14V168.99M370.55 193.26V178.36M370.78 202.89V185.50M371.01 196.37V178.71M371.25 195.20V157.20M371.48 195.91V176.95M371.71 204.62V164.94M371.94 190.75V164.68M372.18 196.38V181.89M372.41 194.07V176.47M372.64 198.42V186.31M372.88 192.93V179.76M373.11 189.33V174.22M373.34 191.35V171.63M373.57 187.11V176.33M373.81 197.77V157.71M374.04 196.70V167.42M374.27 198.18V184.19M374.51 186.19V172.92M374.74 203.13V181.67M374.97 199.14V164.72M375.20 189.20V160.27M375.44 192.57V173.65M375.67 187.11V172.77M375.90 192.83V181.52M376.14 189.26V175.03M376.37 180.73V148.33M376.60 195.50V178.82M376.83 194.11V176.39M377.07 192.93V181.43M377.30 195.30V175.48M377.53 198.48V174.37M377.77 193.93V168.77M378.00 189.46V158.49M378.23 188.40V176.17M378.46 186.76V173.95M378.70 195.34V179.94M378.93 197.26V172.31M379.16 192.69V178.53M379.40 193.14V170.52M379.63 192.43V171.92M379.86 196.83V184.40M380.09 201.48V164.68M380.33 196.81V178.65M380.56 189.37V170.98M380.79 187.05V168.46M381.03 186.02V160.67M381.26 185.68V173.74M381.49 191.89V157.23M381.72 187.35V170.76M381.96 189.92V156.57M382.19 193.88V182.71M382.42 183.31V168.54M382.66 185.28V158.83M382.89 183.67V170.84M383.12 184.66V165.21M383.35 185.04V167.90M383.59 182.23V165.01M383.82 175.37V148.66M384.05 182.19V161.51M384.29 176.62V161.07M384.52 186.17V161.62M384.75 190.35V153.88M384.98 188.99V171.17M385.22 191.29V169.45M385.45 193.15V181.68M385.68 191.02V157.51M385.92 190.26V169.66M386.15 185.48V152.67M386.38 195.63V172.31M386.62 194.90V170.42M386.85 190.34V175.38M387.08 191.07V175.36M387.31 200.60V183.26M387.55 193.70V180.24M387.78 183.50V169.43M388.01 186.99V170.36M388.25 197.31V178.74M388.48 197.43V175.65M388.71 189.73V164.13M388.94 193.10V179.48M389.18 196.40V173.23M389.41 192.93V176.81M389.64 199.31V164.28M389.88 193.76V175.58M390.11 200.58V180.32M390.34 191.67V180.22M390.57 190.29V178.43M390.81 196.86V179.14M391.04 190.18V176.52M391.27 191.87V162.97M391.51 191.63V169.58M391.74 203.58V177.49M391.97 202.12V175.42M392.20 200.29V176.17M392.44 191.23V179.71M392.67 194.48V172.48M392.90 209.10V177.24M393.14 195.26V171.72M393.37 205.55V176.03M393.60 194.32V181.92M393.83 208.82V163.64M394.07 183.70V170.62M394.30 190.20V178.14M394.53 192.50V180.01M394.77 192.28V176.69M395.00 202.26V176.70M395.23 197.04V166.23M395.46 198.14V177.33M395.70 194.91V178.45M395.93 197.96V186.38M396.16 196.66V164.36M396.40 190.10V164.26M396.63 189.86V175.23M396.86 195.33V174.43M397.09 191.61V158.80M397.33 181.86V169.63M397.56 192.85V170.79M397.79 197.16V180.54M398.03 199.06V178.16M398.26 192.45V179.65M398.49 194.19V179.00M398.72 203.19V173.18M398.96 195.14V181.79M399.19 197.38V178.87M399.42 194.54V181.68M399.66 203.32V188.39M399.89 197.83V182.45M400.12 198.52V167.92M400.35 190.48V172.86M400.59 196.28V161.43M400.82 203.57V181.87M401.05 202.07V172.82M401.29 202.88V174.66M401.52 198.71V181.90M401.75 191.53V177.78M401.98 198.03V183.59M402.22 196.48V185.43M402.45 199.28V188.51M402.68 196.84V183.82M402.92 190.18V170.22M403.15 191.30V179.55M403.38 189.67V164.97M403.61 195.45V183.30M403.85 188.64V169.35M404.08 203.58V184.30M404.31 197.54V184.54M404.55 201.92V181.52M404.78 193.29V176.94M405.01 192.18V179.76M405.24 185.92V164.72M405.48 196.03V182.05M405.71 198.16V179.45M405.94 209.90V175.11M406.18 204.96V188.46M406.41 198.64V180.54M406.64 203.17V177.31M406.87 194.24V175.73M407.11 199.96V183.04M407.34 192.18V179.74M407.57 198.62V180.98M407.81 202.36V179.83M408.04 193.16V176.25M408.27 190.40V174.77M408.50 196.39V177.41M408.74 196.65V175.49M408.97 192.00V177.38M409.20 194.19V182.58M409.44 193.12V167.33M409.67 189.22V170.21M409.90 200.54V165.06M410.13 191.67V179.83M410.37 197.75V166.18M410.60 194.74V169.98M410.83 198.15V179.78M411.07 197.88V180.14M411.30 193.40V180.52M411.53 198.90V182.18M411.76 200.86V176.85M412.00 208.50V179.46M412.23 191.89V176.02M412.46 202.66V177.36M412.70 197.77V182.76M412.93 189.21V176.76M413.16 191.70V176.88M413.39 194.34V176.74M413.63 190.95V179.03M413.86 198.75V178.29M414.09 199.21V184.00M414.33 197.06V173.15M414.56 193.08V178.67M414.79 193.28V162.02M415.02 194.24V182.56M415.26 203.51V175.39M415.49 202.12V170.56M415.72 187.84V176.04M415.96 199.46V168.59M416.19 196.19V179.94M416.42 196.28V171.54M416.65 201.34V184.39M416.89 198.01V179.70M417.12 205.35V170.86M417.35 195.84V182.52M417.59 196.14V180.00M417.82 199.57V182.54M418.05 197.97V180.93M418.28 195.18V167.12M418.52 195.77V175.47M418.75 201.49V184.22M418.98 194.82V180.23M419.22 200.82V181.33M419.45 204.56V184.82M419.68 199.21V179.09M419.91 196.15V178.98M420.15 193.46V176.27M420.38 192.85V182.15M420.61 197.41V183.00M420.85 186.38V172.56M421.08 195.67V159.66M421.31 201.78V189.63M421.54 197.30V177.26M421.78 195.36V180.24M422.01 182.35V163.74M422.24 190.35V179.03M422.48 188.46V155.43M422.71 188.72V166.58M422.94 176.87V150.55M423.17 182.93V169.48M423.41 182.70V169.66M423.64 186.31V161.21M423.87 183.20V169.14M424.11 194.47V161.81M424.34 190.88V176.39M424.57 195.09V174.58M424.80 196.32V175.26M425.04 190.41V177.95M425.27 191.07V170.33M425.50 197.13V181.16M425.74 194.87V178.71M425.97 198.72V187.50M426.20 191.07V174.47M426.43 208.38V180.08M426.67 195.22V178.90M426.90 195.17V180.14M427.13 204.86V164.07M427.37 202.19V186.74M427.60 197.36V183.60M427.83 195.94V176.09M428.06 202.91V187.42M428.30 202.69V186.27M428.53 207.30V196.21M428.76 197.43V185.62M429.00 210.56V171.98M429.23 198.99V187.69M429.46 198.36V184.29M429.69 205.47V186.78M429.93 198.52V178.61M430.16 196.90V176.97M430.39 195.01V178.59M430.63 202.60V186.42M430.86 199.68V188.50M431.09 196.52V171.20M431.32 199.36V180.83M431.56 201.79V171.09M431.79 206.54V184.20M432.02 200.79V186.85M432.26 201.63V177.94M432.49 203.24V187.18M432.72 216.50V176.46M432.95 197.08V178.70M433.19 197.40V173.11M433.42 200.23V184.78M433.65 195.96V183.90M433.89 199.73V182.55M434.12 213.41V181.25M434.35 203.24V181.10M434.58 206.57V184.90M434.82 205.44V192.73M435.05 200.91V177.85M435.28 199.79V188.75M435.52 211.81V200.35M435.75 203.13V183.47M435.98 207.61V169.44M436.22 205.00V190.58M436.45 202.60V189.92M436.68 198.73V186.13M436.91 198.80V184.99M437.15 199.39V184.20M437.38 195.78V184.10M437.61 205.96V188.98M437.85 196.33V163.69M438.08 192.23V169.08M438.31 209.05V186.39M438.54 201.11V185.06M438.78 198.67V187.21M439.01 196.36V178.42M439.24 209.91V191.36M439.48 199.99V181.51M439.71 203.31V182.14M439.94 208.06V173.88M440.17 206.58V185.84M440.41 198.67V172.84M440.64 204.61V188.34M440.87 207.84V185.77M441.11 196.70V169.53M441.34 202.45V187.25M441.57 202.52V178.74M441.80 202.71V191.51M442.04 209.80V199.06M442.27 202.98V181.15M442.50 202.48V190.79M442.74 203.55V175.12M442.97 212.04V196.22M443.20 210.18V194.56M443.43 204.44V186.38M443.67 203.72V191.30M443.90 206.24V176.05M444.13 201.07V183.05M444.37 200.47V189.53M444.60 206.74V188.92M444.83 212.03V190.18M445.06 209.91V197.60M445.30 203.26V173.94M445.53 206.64V186.03M445.76 207.02V185.18M446.00 198.41V181.40M446.23 209.27V186.89M446.46 204.13V173.01M446.69 208.35V192.20M446.93 211.80V194.80M447.16 213.69V190.41M447.39 206.49V188.61M447.63 212.46V200.12M447.86 204.55V177.16M448.09 203.79V189.78M448.32 202.17V188.18M448.56 203.44V191.26M448.79 203.67V188.62M449.02 203.27V189.84M449.26 208.45V188.62M449.49 204.80V191.51M449.72 207.13V193.12M449.95 207.26V191.53M450.19 205.25V178.01M450.42 211.49V191.57M450.65 208.96V184.92M450.89 206.98V183.68M451.12 211.05V193.13M451.35 210.60V188.95M451.58 210.08V186.93M451.82 209.28V187.76M452.05 211.77V187.38M452.28 215.68V185.06M452.52 212.40V190.59M452.75 216.70V190.57M452.98 212.67V188.73M453.21 212.53V191.03M453.45 216.00V186.69M453.68 215.64V190.41M453.91 219.39V187.04M454.15 214.99V187.66M454.38 215.71V189.94M454.61 222.96V187.99M454.84 220.90V188.74M455.08 220.22V189.53M455.31 219.88V191.27M455.54 223.49V189.95M455.78 220.64V192.96M456.01 223.47V191.75M456.24 223.19V191.58M456.47 224.51V192.30M456.71 228.20V187.65M456.94 224.54V191.67M457.17 230.93V192.67M457.41 230.59V190.63M457.64 226.21V193.17M457.87 233.98V185.83M458.10 234.46V186.41M458.34 228.87V194.15M458.57 231.42V190.10M458.80 234.37V191.93M459.04 232.71V189.85M459.27 234.28V191.99M459.50 236.67V190.09M459.73 235.91V192.40M459.97 238.81V193.38M460.20 236.86V193.11" stroke="#f0d3a8" stroke-width="0.4" opacity="0.8" fill="none"/>
<polyline points="311.40,204.82 311.87,202.11 312.33,202.16 312.80,196.19 313.26,201.20 313.73,201.72 314.19,202.78 314.66,197.72 315.13,197.89 315.59,199.26 316.06,207.25 316.52,198.26 316.99,197.30 317.45,194.36 317.92,203.61 318.39,199.65 318.85,197.34 319.32,196.77 319.78,201.01 320.25,197.66 320.71,206.82 321.18,198.80 321.65,195.34 322.11,195.96 322.58,199.22 323.04,194.26 323.51,206.80 323.97,197.09 324.44,199.92 324.91,201.43 325.37,196.74 325.84,195.26 326.30,188.39 326.77,194.33 327.23,197.36 327.70,193.55 328.17,196.17 328.63,192.58 329.10,186.50 329.56,198.26 330.03,190.87 330.49,194.12 330.96,184.15 331.43,190.46 331.89,197.29 332.36,192.19 332.82,188.70 333.29,190.81 333.75,191.82 334.22,197.60 334.69,190.59 335.15,192.02 335.62,195.85 336.08,193.69 336.55,192.52 337.02,191.69 337.48,193.25 337.95,199.72 338.41,200.72 338.88,193.71 339.34,190.36 339.81,189.71 340.28,192.57 340.74,189.44 341.21,188.42 341.67,193.01 342.14,194.42 342.60,191.59 343.07,192.55 343.54,185.09 344.00,187.98 344.47,189.74 344.93,188.86 345.40,191.16 345.86,194.72 346.33,188.19 346.80,184.37 347.26,191.24 347.73,187.40 348.19,188.94 348.66,185.97 349.12,183.49 349.59,201.42 350.06,187.03 350.52,189.16 350.99,196.21 351.45,188.13 351.92,189.65 352.38,183.36 352.85,189.01 353.32,190.01 353.78,186.42 354.25,182.26 354.71,191.40 355.18,187.07 355.64,184.87 356.11,190.03 356.58,186.62 357.04,195.14 357.51,186.24 357.97,189.04 358.44,190.05 358.90,181.27 359.37,186.20 359.84,189.24 360.30,188.02 360.77,194.32 361.23,189.46 361.70,190.33 362.16,185.89 362.63,182.92 363.10,182.32 363.56,188.97 364.03,181.94 364.49,187.89 364.96,185.66 365.42,190.47 365.89,186.32 366.36,184.95 366.82,185.30 367.29,182.54 367.75,186.10 368.22,187.95 368.68,184.52 369.15,187.23 369.62,181.04 370.08,191.68 370.55,185.81 371.01,188.31 371.48,186.43 371.94,182.36 372.41,185.27 372.88,185.71 373.34,181.49 373.81,183.26 374.27,191.19 374.74,190.59 375.20,182.34 375.67,179.94 376.14,180.91 376.60,187.76 377.07,187.18 377.53,186.43 378.00,180.33 378.46,180.35 378.93,181.60 379.40,178.56 379.86,190.62 380.33,187.73 380.79,177.76 381.26,179.71 381.72,179.06 382.19,188.30 382.66,177.41 383.12,174.94 383.59,173.62 384.05,173.04 384.52,175.63 384.98,180.08 385.45,187.41 385.92,179.68 386.38,183.97 386.85,182.86 387.31,191.93 387.78,176.46 388.25,188.03 388.71,181.33 389.18,182.97 389.64,188.90 390.11,190.45 390.57,184.36 391.04,183.85 391.51,185.70 391.97,189.31 392.44,185.47 392.90,193.57 393.37,187.48 393.83,191.43 394.30,183.56 394.77,184.49 395.23,187.06 395.70,186.68 396.16,188.00 396.63,182.54 397.09,184.03 397.56,184.34 398.03,193.39 398.49,186.60 398.96,188.47 399.42,188.11 399.89,191.63 400.35,181.67 400.82,191.26 401.29,194.06 401.75,184.66 402.22,190.96 402.68,190.33 403.15,185.43 403.61,189.38 404.08,193.94 404.55,196.21 405.01,185.97 405.48,189.04 405.94,201.10 406.41,187.03 406.87,184.99 407.34,185.96 407.81,194.35 408.27,182.59 408.74,184.09 409.20,188.39 409.67,179.71 410.13,185.75 410.60,187.49 411.07,189.01 411.53,189.76 412.00,196.13 412.46,190.01 412.93,182.99 413.39,184.85 413.86,186.57 414.33,185.11 414.79,185.03 415.26,188.51 415.72,181.94 416.19,185.50 416.65,192.54 417.12,193.76 417.59,188.07 418.05,189.45 418.52,188.07 418.98,187.52 419.45,191.82 419.91,189.84 420.38,187.50 420.85,179.47 421.31,195.70 421.78,187.80 422.24,184.69 422.71,177.65 423.17,177.53 423.64,180.94 424.11,182.44 424.57,189.42 425.04,184.18 425.50,189.15 425.97,193.11 426.43,193.85 426.90,187.65 427.37,194.63 427.83,186.02 428.30,192.15 428.76,191.53 429.23,193.34 429.69,194.37 430.16,186.94 430.63,192.40 431.09,189.14 431.56,194.71 432.02,193.82 432.49,195.21 432.95,190.77 433.42,192.51 433.89,193.76 434.35,192.17 434.82,199.08 435.28,194.27 435.75,191.84 436.22,196.45 436.68,192.43 437.15,191.80 437.61,197.47 438.08,183.69 438.54,193.09 439.01,189.89 439.48,190.75 439.94,195.30 440.41,192.97 440.87,193.86 441.34,194.85 441.80,197.11 442.27,196.84 442.74,196.72 443.20,202.37 443.67,196.87 444.13,192.06 444.60,196.12 445.06,203.76 445.53,198.77 446.00,189.90 446.46,189.31 446.93,200.42 447.39,197.55 447.86,197.36 448.32,195.82 448.79,196.15 449.26,198.53 449.72,200.13 450.19,195.67 450.65,196.94 451.12,202.09 451.58,200.90 452.05,201.16 452.52,201.50 452.98,201.65 453.45,202.73 453.91,204.00 454.38,202.83 454.84,205.36 455.31,205.57 455.78,206.80 456.24,207.38 456.71,207.92 457.17,208.61 457.64,209.71 458.10,210.98 458.57,211.90 459.04,213.09 459.50,214.42 459.97,215.14" fill="none" stroke="#e86262" stroke-width="0.65" stroke-linejoin="round"/>
<line x1="311.4" y1="150.2" x2="311.4" y2="234.2" stroke="#333" stroke-width="1"/>
<line x1="309.2" y1="234.2" x2="311.4" y2="234.2" stroke="#333" stroke-width="1"/>
<text x="307.8" y="236.96" font-size="7.7" text-anchor="end" fill="#141414" stroke="#141414" stroke-width="0.15">0</text>
<line x1="309.2" y1="206.2" x2="311.4" y2="206.2" stroke="#333" stroke-width="1"/>
<text x="307.8" y="208.96" font-size="7.7" text-anchor="end" fill="#141414" stroke="#141414" stroke-width="0.15">2</text>
<line x1="309.2" y1="178.2" x2="311.4" y2="178.2" stroke="#333" stroke-width="1"/>
<text x="307.8" y="180.96" font-size="7.7" text-anchor="end" fill="#141414" stroke="#141414" stroke-width="0.15">4</text>
<line x1="309.2" y1="150.2" x2="311.4" y2="150.2" stroke="#333" stroke-width="1"/>
<text x="307.8" y="152.96" font-size="7.7" text-anchor="end" fill="#141414" stroke="#141414" stroke-width="0.15">6</text>
<line x1="311.4" y1="234.2" x2="466.3" y2="234.2" stroke="#333" stroke-width="1"/>
<line x1="311.4" y1="234.2" x2="311.4" y2="236.4" stroke="#333" stroke-width="1"/>
<text x="311.4" y="243.36" font-size="7.7" text-anchor="middle" fill="#141414" stroke="#141414" stroke-width="0.15">1</text>
<line x1="330" y1="234.2" x2="330" y2="236.4" stroke="#333" stroke-width="1"/>
<text x="330" y="243.36" font-size="7.7" text-anchor="middle" fill="#141414" stroke="#141414" stroke-width="0.15">2</text>
<line x1="348.6" y1="234.2" x2="348.6" y2="236.4" stroke="#333" stroke-width="1"/>
<text x="348.6" y="243.36" font-size="7.7" text-anchor="middle" fill="#141414" stroke="#141414" stroke-width="0.15">3</text>
<line x1="367.2" y1="234.2" x2="367.2" y2="236.4" stroke="#333" stroke-width="1"/>
<text x="367.2" y="243.36" font-size="7.7" text-anchor="middle" fill="#141414" stroke="#141414" stroke-width="0.15">4</text>
<line x1="385.8" y1="234.2" x2="385.8" y2="236.4" stroke="#333" stroke-width="1"/>
<text x="385.8" y="243.36" font-size="7.7" text-anchor="middle" fill="#141414" stroke="#141414" stroke-width="0.15">5</text>
<line x1="404.4" y1="234.2" x2="404.4" y2="236.4" stroke="#333" stroke-width="1"/>
<text x="404.4" y="243.36" font-size="7.7" text-anchor="middle" fill="#141414" stroke="#141414" stroke-width="0.15">6</text>
<line x1="423" y1="234.2" x2="423" y2="236.4" stroke="#333" stroke-width="1"/>
<text x="423" y="243.36" font-size="7.7" text-anchor="middle" fill="#141414" stroke="#141414" stroke-width="0.15">7</text>
<line x1="441.6" y1="234.2" x2="441.6" y2="236.4" stroke="#333" stroke-width="1"/>
<text x="441.6" y="243.36" font-size="7.7" text-anchor="middle" fill="#141414" stroke="#141414" stroke-width="0.15">8</text>
<line x1="460.2" y1="234.2" x2="460.2" y2="236.4" stroke="#333" stroke-width="1"/>
<text x="460.2" y="243.36" font-size="7.7" text-anchor="middle" fill="#141414" stroke="#141414" stroke-width="0.15">9</text>
<text x="391.5" y="151.46" font-size="7.7" text-anchor="middle" fill="#141414" stroke="#141414" stroke-width="0.15">RABV</text>
<text transform="translate(295,189.5) rotate(-90)" x="0" y="2.76" font-size="7.7" text-anchor="middle" fill="#141414" stroke="#141414" stroke-width="0.15">VO₂(ml/kg/hr)/1000</text>
<text x="392" y="256.17" font-size="7.75" text-anchor="middle" fill="#141414" stroke="#141414" stroke-width="0.15">The day pots infection CVS-11</text>
<polygon points="508.60,96.15 508.83,93.93 509.07,92.07 509.30,90.79 509.53,88.10 509.76,90.05 510.00,91.64 510.23,89.40 510.46,90.75 510.70,87.39 510.93,87.42 511.16,87.83 511.39,87.05 511.63,83.63 511.86,83.34 512.09,82.05 512.33,80.81 512.56,80.30 512.79,78.70 513.02,76.08 513.26,84.68 513.49,86.99 513.72,83.96 513.96,82.44 514.19,82.10 514.42,73.56 514.65,79.14 514.89,87.53 515.12,84.19 515.35,81.61 515.59,82.23 515.82,77.96 516.05,77.54 516.28,82.47 516.52,77.50 516.75,79.30 516.98,81.47 517.22,77.57 517.45,80.00 517.68,76.82 517.91,80.99 518.15,78.31 518.38,64.34 518.61,73.89 518.85,74.98 519.08,77.48 519.31,72.56 519.54,74.11 519.78,73.62 520.01,70.09 520.24,72.53 520.48,73.23 520.71,68.87 520.94,73.88 521.17,71.58 521.41,64.97 521.64,70.47 521.87,72.63 522.11,73.65 522.34,66.91 522.57,66.89 522.80,70.75 523.04,76.08 523.27,74.50 523.50,69.52 523.74,71.49 523.97,73.02 524.20,63.49 524.43,70.83 524.67,70.60 524.90,72.39 525.13,72.44 525.37,74.41 525.60,69.08 525.83,74.26 526.06,73.98 526.30,73.54 526.53,76.33 526.76,78.89 527.00,79.17 527.23,78.92 527.46,78.85 527.69,65.58 527.93,58.87 528.16,62.55 528.39,62.15 528.63,61.53 528.86,63.48 529.09,63.30 529.32,63.84 529.56,59.91 529.79,64.34 530.02,61.64 530.26,61.97 530.49,62.58 530.72,57.23 530.95,63.76 531.19,63.92 531.42,66.43 531.65,64.67 531.89,59.60 532.12,65.84 532.35,69.02 532.58,69.39 532.82,71.42 533.05,72.88 533.28,71.20 533.52,64.03 533.75,65.83 533.98,65.09 534.22,65.24 534.45,56.39 534.68,68.86 534.91,69.00 535.15,67.98 535.38,67.11 535.61,67.37 535.85,58.58 536.08,62.75 536.31,59.33 536.54,63.28 536.78,59.28 537.01,61.25 537.24,60.30 537.48,55.87 537.71,56.48 537.94,55.51 538.17,55.35 538.41,56.00 538.64,54.11 538.87,42.49 539.11,53.45 539.34,49.55 539.57,50.65 539.80,47.90 540.04,45.17 540.27,53.97 540.50,50.80 540.74,52.10 540.97,50.12 541.20,50.10 541.43,51.63 541.67,48.23 541.90,54.94 542.13,51.12 542.37,50.14 542.60,53.41 542.83,50.80 543.06,46.19 543.30,54.15 543.53,53.61 543.76,50.78 544.00,49.02 544.23,51.71 544.46,47.98 544.69,56.35 544.93,50.75 545.16,52.22 545.39,53.92 545.63,54.31 545.86,55.30 546.09,55.26 546.32,56.61 546.56,54.64 546.79,56.28 547.02,58.11 547.26,60.10 547.49,58.53 547.72,62.38 547.95,62.54 548.19,64.21 548.42,61.14 548.65,62.98 548.89,64.66 549.12,55.34 549.35,65.75 549.58,61.95 549.82,66.88 550.05,62.75 550.28,69.16 550.52,69.86 550.75,73.52 550.98,72.76 551.21,62.92 551.45,72.99 551.68,69.82 551.91,68.06 552.15,65.98 552.38,67.96 552.61,67.82 552.84,68.11 553.08,64.49 553.31,66.00 553.54,62.86 553.78,63.81 554.01,62.50 554.24,64.22 554.47,57.56 554.71,53.31 554.94,64.03 555.17,56.69 555.41,58.70 555.64,60.12 555.87,55.03 556.10,55.47 556.34,49.21 556.57,58.63 556.80,56.82 557.04,51.80 557.27,53.86 557.50,51.70 557.73,51.67 557.97,52.10 558.20,55.16 558.43,56.40 558.67,52.77 558.90,53.43 559.13,52.99 559.36,54.21 559.60,56.00 559.83,51.34 560.06,47.08 560.30,52.43 560.53,50.79 560.76,50.55 560.99,55.62 561.23,51.58 561.46,53.28 561.69,46.19 561.93,52.73 562.16,50.88 562.39,52.22 562.62,48.51 562.86,50.44 563.09,52.66 563.32,43.20 563.56,44.90 563.79,49.36 564.02,52.29 564.25,52.20 564.49,57.14 564.72,52.38 564.95,61.10 565.19,58.93 565.42,65.97 565.65,61.40 565.88,65.32 566.12,63.12 566.35,70.49 566.58,68.93 566.82,68.17 567.05,65.87 567.28,69.62 567.51,70.19 567.75,61.07 567.98,70.26 568.21,71.17 568.45,68.08 568.68,69.14 568.91,63.82 569.14,66.92 569.38,64.44 569.61,68.57 569.84,63.54 570.08,68.77 570.31,56.98 570.54,62.64 570.77,65.14 571.01,70.12 571.24,67.01 571.47,65.38 571.71,65.90 571.94,65.97 572.17,63.28 572.40,64.70 572.64,61.92 572.87,65.23 573.10,62.68 573.34,63.10 573.57,63.29 573.80,61.52 574.03,59.40 574.27,61.71 574.50,59.67 574.73,55.50 574.97,47.21 575.20,54.67 575.43,55.33 575.66,58.69 575.90,55.45 576.13,53.23 576.36,53.72 576.60,44.63 576.83,53.97 577.06,54.59 577.29,55.12 577.53,54.90 577.76,55.88 577.99,52.00 578.23,50.96 578.46,49.60 578.69,53.05 578.92,54.63 579.16,50.56 579.39,50.82 579.62,49.26 579.86,54.27 580.09,44.65 580.32,44.72 580.55,51.24 580.79,53.06 581.02,49.12 581.25,48.11 581.49,52.55 581.72,53.21 581.95,55.03 582.18,54.21 582.42,55.45 582.65,60.92 582.88,59.90 583.12,60.74 583.35,63.56 583.58,62.31 583.82,63.89 584.05,65.87 584.28,57.51 584.51,61.09 584.75,67.58 584.98,68.31 585.21,72.80 585.45,71.03 585.68,70.13 585.91,61.11 586.14,66.57 586.38,65.30 586.61,62.95 586.84,62.57 587.08,58.65 587.31,60.38 587.54,64.52 587.77,58.56 588.01,56.40 588.24,63.13 588.47,53.42 588.71,58.41 588.94,61.32 589.17,60.72 589.40,58.95 589.64,61.66 589.87,59.64 590.10,61.98 590.34,58.94 590.57,63.39 590.80,60.74 591.03,62.69 591.27,59.68 591.50,59.25 591.73,59.18 591.97,52.15 592.20,52.24 592.43,55.22 592.66,55.99 592.90,52.44 593.13,59.76 593.36,58.09 593.60,57.31 593.83,47.03 594.06,52.08 594.29,49.53 594.53,54.43 594.76,51.99 594.99,51.74 595.23,47.36 595.46,51.01 595.69,56.84 595.92,53.74 596.16,55.16 596.39,46.91 596.62,53.53 596.86,54.94 597.09,49.90 597.32,46.54 597.55,45.09 597.79,51.80 598.02,50.69 598.25,54.11 598.49,49.44 598.72,50.11 598.95,47.54 599.18,51.75 599.42,46.36 599.65,49.69 599.88,41.68 600.12,51.78 600.35,47.60 600.58,47.95 600.81,50.15 601.05,45.43 601.28,45.36 601.51,55.36 601.75,50.51 601.98,57.32 602.21,55.15 602.44,60.58 602.68,56.69 602.91,62.60 603.14,63.54 603.38,63.28 603.61,56.10 603.84,60.75 604.07,57.46 604.31,64.70 604.54,62.46 604.77,67.07 605.01,62.69 605.24,65.41 605.47,64.03 605.70,60.49 605.94,62.94 606.17,59.43 606.40,62.94 606.64,62.66 606.87,64.21 607.10,64.13 607.33,59.98 607.57,59.07 607.80,58.75 608.03,62.28 608.27,60.53 608.50,64.72 608.73,62.12 608.96,62.03 609.20,65.25 609.43,59.90 609.66,63.63 609.90,61.03 610.13,56.79 610.36,62.41 610.59,56.87 610.83,61.04 611.06,56.59 611.29,55.20 611.53,54.92 611.76,56.66 611.99,56.83 612.22,52.84 612.46,56.27 612.69,57.51 612.92,55.74 613.16,45.65 613.39,43.28 613.62,57.89 613.85,46.89 614.09,52.62 614.32,50.76 614.55,54.80 614.79,51.95 615.02,57.48 615.25,53.24 615.48,52.05 615.72,43.83 615.95,41.81 616.18,51.10 616.42,49.73 616.65,53.69 616.88,56.56 617.11,52.35 617.35,49.10 617.58,53.41 617.81,51.10 618.05,50.58 618.28,52.24 618.51,53.12 618.74,44.58 618.98,47.56 619.21,49.58 619.44,46.18 619.68,53.47 619.91,49.07 620.14,50.50 620.37,52.30 620.61,54.41 620.84,53.84 621.07,50.30 621.31,57.49 621.54,56.73 621.77,63.81 622.00,55.28 622.24,62.63 622.47,60.03 622.70,60.10 622.94,66.21 623.17,66.40 623.40,62.24 623.63,64.99 623.87,66.43 624.10,65.04 624.33,60.68 624.57,67.21 624.80,70.76 625.03,68.18 625.26,67.87 625.50,69.21 625.73,70.28 625.96,62.40 626.20,64.55 626.43,65.57 626.66,67.86 626.89,60.09 627.13,62.25 627.36,63.02 627.59,59.28 627.83,56.20 628.06,59.07 628.29,48.27 628.52,59.81 628.76,59.68 628.99,58.34 629.22,51.62 629.46,53.27 629.69,49.04 629.92,49.38 630.15,49.55 630.39,45.51 630.62,52.33 630.85,52.24 631.09,55.86 631.32,52.62 631.55,53.97 631.78,51.38 632.02,48.16 632.25,49.82 632.48,49.52 632.72,53.10 632.95,54.49 633.18,49.62 633.42,57.50 633.65,51.07 633.88,54.19 634.11,52.26 634.35,55.58 634.58,53.69 634.81,54.99 635.05,53.71 635.28,51.92 635.51,51.10 635.74,51.31 635.98,47.19 636.21,56.46 636.44,53.34 636.68,53.24 636.91,52.24 637.14,53.44 637.37,57.21 637.61,53.52 637.84,58.95 638.07,53.53 638.31,50.79 638.54,49.17 638.77,56.91 639.00,52.31 639.24,58.20 639.47,58.38 639.70,59.91 639.94,57.44 640.17,63.76 640.40,54.86 640.63,61.94 640.87,60.94 641.10,61.60 641.33,64.79 641.57,61.79 641.80,61.11 642.03,68.84 642.26,68.36 642.50,68.19 642.73,60.61 642.96,68.98 643.20,69.11 643.43,64.66 643.66,64.36 643.89,64.08 644.13,66.42 644.36,67.73 644.59,71.35 644.83,68.69 645.06,65.42 645.29,65.91 645.52,67.17 645.76,57.65 645.99,68.06 646.22,65.68 646.46,63.91 646.69,62.31 646.92,61.48 647.15,65.30 647.39,60.71 647.62,63.96 647.85,57.19 648.09,60.72 648.32,59.96 648.55,62.34 648.78,50.93 649.02,57.87 649.25,57.99 649.48,59.18 649.72,54.21 649.95,64.48 650.18,62.21 650.41,55.79 650.65,55.02 650.88,50.09 651.11,55.83 651.35,54.24 651.58,55.07 651.81,56.68 652.04,46.63 652.28,57.33 652.51,53.04 652.74,53.72 652.98,55.41 653.21,52.04 653.44,53.79 653.67,54.14 653.91,51.93 654.14,52.30 654.37,53.66 654.61,49.23 654.84,48.49 655.07,52.62 655.30,50.09 655.54,49.11 655.77,52.66 656.00,54.92 656.24,53.66 656.47,55.45 656.70,50.81 656.93,59.87 657.17,58.93 657.40,54.27 657.40,67.94 657.17,68.07 656.93,69.04 656.70,71.57 656.47,74.62 656.24,64.14 656.00,67.61 655.77,64.69 655.54,60.51 655.30,63.86 655.07,65.78 654.84,61.49 654.61,61.68 654.37,72.14 654.14,60.88 653.91,68.91 653.67,63.59 653.44,62.39 653.21,60.93 652.98,66.49 652.74,63.33 652.51,65.87 652.28,66.36 652.04,64.80 651.81,66.78 651.58,67.66 651.35,64.63 651.11,70.81 650.88,67.84 650.65,65.89 650.41,74.65 650.18,72.93 649.95,73.23 649.72,80.86 649.48,69.17 649.25,72.31 649.02,69.43 648.78,70.73 648.55,72.67 648.32,73.07 648.09,71.76 647.85,70.34 647.62,74.33 647.39,73.31 647.15,78.60 646.92,83.05 646.69,71.85 646.46,78.84 646.22,76.57 645.99,78.68 645.76,78.13 645.52,77.54 645.29,76.52 645.06,80.44 644.83,77.13 644.59,89.42 644.36,80.23 644.13,74.88 643.89,74.28 643.66,82.51 643.43,78.79 643.20,82.66 642.96,78.75 642.73,82.88 642.50,87.49 642.26,77.56 642.03,79.23 641.80,76.25 641.57,81.49 641.33,73.27 641.10,78.85 640.87,73.37 640.63,80.56 640.40,72.52 640.17,73.57 639.94,70.39 639.70,70.13 639.47,71.07 639.24,67.12 639.00,72.13 638.77,73.02 638.54,63.83 638.31,63.54 638.07,64.33 637.84,67.63 637.61,65.70 637.37,66.53 637.14,71.30 636.91,63.08 636.68,65.49 636.44,62.43 636.21,66.21 635.98,75.05 635.74,64.03 635.51,61.32 635.28,66.15 635.05,66.71 634.81,64.91 634.58,62.38 634.35,64.84 634.11,65.26 633.88,63.90 633.65,61.73 633.42,69.52 633.18,61.22 632.95,65.49 632.72,62.84 632.48,58.05 632.25,64.55 632.02,62.27 631.78,62.43 631.55,65.40 631.32,63.59 631.09,64.67 630.85,61.61 630.62,70.02 630.39,68.26 630.15,65.57 629.92,61.69 629.69,60.41 629.46,73.91 629.22,65.65 628.99,67.41 628.76,76.75 628.52,69.99 628.29,64.53 628.06,71.74 627.83,69.39 627.59,68.82 627.36,72.68 627.13,73.50 626.89,78.77 626.66,76.29 626.43,80.90 626.20,79.17 625.96,77.08 625.73,79.28 625.50,79.31 625.26,76.31 625.03,83.86 624.80,81.54 624.57,88.27 624.33,79.22 624.10,79.62 623.87,75.11 623.63,86.76 623.40,83.81 623.17,75.93 622.94,84.05 622.70,71.49 622.47,73.53 622.24,74.33 622.00,68.10 621.77,77.77 621.54,68.05 621.31,67.97 621.07,67.71 620.84,67.83 620.61,68.51 620.37,60.79 620.14,63.59 619.91,65.42 619.68,62.80 619.44,58.56 619.21,59.08 618.98,67.72 618.74,58.54 618.51,63.76 618.28,71.10 618.05,62.93 617.81,62.80 617.58,66.91 617.35,64.15 617.11,62.27 616.88,69.05 616.65,64.39 616.42,62.14 616.18,65.37 615.95,64.79 615.72,64.83 615.48,65.71 615.25,64.20 615.02,69.68 614.79,63.96 614.55,65.41 614.32,59.81 614.09,70.38 613.85,67.12 613.62,68.49 613.39,61.31 613.16,67.26 612.92,64.83 612.69,66.46 612.46,67.18 612.22,68.61 611.99,71.71 611.76,74.50 611.53,63.82 611.29,70.34 611.06,69.13 610.83,70.29 610.59,70.68 610.36,71.43 610.13,74.32 609.90,70.59 609.66,77.54 609.43,72.33 609.20,77.19 608.96,72.67 608.73,82.58 608.50,73.75 608.27,73.84 608.03,72.46 607.80,82.27 607.57,72.29 607.33,70.62 607.10,73.59 606.87,76.72 606.64,77.11 606.40,72.79 606.17,75.38 605.94,79.24 605.70,78.76 605.47,76.66 605.24,83.84 605.01,71.98 604.77,78.16 604.54,76.40 604.31,73.51 604.07,82.20 603.84,74.78 603.61,72.79 603.38,72.03 603.14,77.52 602.91,76.80 602.68,68.98 602.44,69.49 602.21,67.65 601.98,67.10 601.75,65.18 601.51,64.52 601.28,61.47 601.05,63.03 600.81,62.21 600.58,64.91 600.35,58.95 600.12,60.69 599.88,60.78 599.65,62.58 599.42,63.39 599.18,60.30 598.95,65.77 598.72,64.95 598.49,62.49 598.25,62.89 598.02,61.26 597.79,61.96 597.55,62.99 597.32,61.64 597.09,63.62 596.86,66.54 596.62,63.20 596.39,66.76 596.16,74.71 595.92,64.91 595.69,67.74 595.46,64.25 595.23,66.19 594.99,67.58 594.76,62.16 594.53,66.26 594.29,63.87 594.06,65.87 593.83,65.69 593.60,67.19 593.36,68.40 593.13,69.59 592.90,74.24 592.66,69.13 592.43,70.63 592.20,70.89 591.97,71.94 591.73,74.54 591.50,68.90 591.27,71.28 591.03,71.49 590.80,74.87 590.57,72.38 590.34,71.96 590.10,73.28 589.87,74.66 589.64,75.43 589.40,67.87 589.17,70.50 588.94,70.44 588.71,69.68 588.47,67.00 588.24,75.14 588.01,78.77 587.77,73.13 587.54,76.59 587.31,72.98 587.08,67.40 586.84,79.97 586.61,75.56 586.38,77.99 586.14,82.04 585.91,83.55 585.68,81.76 585.45,80.54 585.21,82.36 584.98,76.92 584.75,78.61 584.51,78.68 584.28,72.68 584.05,78.43 583.82,73.55 583.58,71.84 583.35,72.93 583.12,77.60 582.88,76.18 582.65,69.61 582.42,67.21 582.18,68.53 581.95,66.69 581.72,63.42 581.49,68.38 581.25,61.08 581.02,67.06 580.79,67.53 580.55,61.02 580.32,67.66 580.09,60.46 579.86,75.25 579.62,64.10 579.39,60.07 579.16,59.50 578.92,68.63 578.69,63.12 578.46,59.78 578.23,63.81 577.99,67.18 577.76,70.17 577.53,65.43 577.29,71.04 577.06,63.12 576.83,63.54 576.60,61.67 576.36,65.30 576.13,69.86 575.90,66.06 575.66,69.31 575.43,66.12 575.20,77.75 574.97,68.26 574.73,71.57 574.50,71.81 574.27,70.55 574.03,72.28 573.80,71.88 573.57,76.57 573.34,78.97 573.10,80.44 572.87,77.34 572.64,78.58 572.40,76.17 572.17,75.64 571.94,75.60 571.71,79.59 571.47,91.83 571.24,76.83 571.01,84.34 570.77,82.25 570.54,73.19 570.31,76.00 570.08,78.86 569.84,75.35 569.61,83.72 569.38,79.67 569.14,77.23 568.91,76.70 568.68,78.74 568.45,92.20 568.21,84.62 567.98,81.92 567.75,82.89 567.51,87.07 567.28,82.03 567.05,78.83 566.82,82.27 566.58,80.71 566.35,79.03 566.12,75.47 565.88,75.71 565.65,72.26 565.42,78.85 565.19,73.65 564.95,75.36 564.72,69.90 564.49,67.19 564.25,64.60 564.02,62.53 563.79,62.47 563.56,66.26 563.32,61.86 563.09,64.83 562.86,61.60 562.62,60.51 562.39,62.69 562.16,61.33 561.93,67.11 561.69,64.41 561.46,63.34 561.23,63.71 560.99,66.69 560.76,72.60 560.53,60.07 560.30,65.03 560.06,71.92 559.83,66.21 559.60,67.45 559.36,66.75 559.13,63.92 558.90,62.17 558.67,66.15 558.43,66.38 558.20,70.27 557.97,76.43 557.73,65.52 557.50,62.93 557.27,65.08 557.04,67.19 556.80,74.54 556.57,68.92 556.34,70.17 556.10,64.42 555.87,69.73 555.64,79.24 555.41,68.61 555.17,67.76 554.94,72.52 554.71,73.27 554.47,71.83 554.24,75.83 554.01,77.46 553.78,76.61 553.54,83.72 553.31,77.81 553.08,80.89 552.84,79.88 552.61,78.23 552.38,80.17 552.15,76.36 551.91,81.49 551.68,80.83 551.45,82.68 551.21,84.66 550.98,82.71 550.75,82.05 550.52,79.69 550.28,82.21 550.05,77.61 549.82,78.03 549.58,77.05 549.35,74.76 549.12,84.67 548.89,75.18 548.65,74.15 548.42,71.01 548.19,74.91 547.95,74.46 547.72,72.46 547.49,71.40 547.26,70.68 547.02,68.89 546.79,71.08 546.56,68.22 546.32,65.13 546.09,75.26 545.86,71.42 545.63,71.05 545.39,63.36 545.16,61.79 544.93,65.75 544.69,65.92 544.46,62.25 544.23,61.94 544.00,58.31 543.76,59.86 543.53,64.32 543.30,62.75 543.06,64.80 542.83,62.93 542.60,63.33 542.37,63.44 542.13,65.20 541.90,66.84 541.67,58.06 541.43,65.06 541.20,60.55 540.97,61.70 540.74,67.11 540.50,67.26 540.27,64.49 540.04,64.57 539.80,68.12 539.57,68.59 539.34,64.89 539.11,65.24 538.87,59.54 538.64,63.49 538.41,69.95 538.17,67.91 537.94,68.56 537.71,70.43 537.48,67.06 537.24,69.06 537.01,70.28 536.78,70.24 536.54,72.23 536.31,71.79 536.08,72.46 535.85,75.54 535.61,76.37 535.38,77.74 535.15,76.64 534.91,82.38 534.68,80.21 534.45,75.36 534.22,79.95 533.98,86.92 533.75,79.71 533.52,81.97 533.28,80.56 533.05,81.35 532.82,81.72 532.58,81.53 532.35,87.29 532.12,82.91 531.89,84.21 531.65,84.72 531.42,75.26 531.19,73.32 530.95,74.12 530.72,71.57 530.49,74.36 530.26,75.38 530.02,73.16 529.79,73.91 529.56,75.40 529.32,72.50 529.09,76.65 528.86,73.71 528.63,72.20 528.39,76.30 528.16,78.36 527.93,72.67 527.69,79.79 527.46,88.28 527.23,87.97 527.00,88.69 526.76,89.25 526.53,86.57 526.30,86.46 526.06,85.30 525.83,94.27 525.60,87.60 525.37,84.45 525.13,82.14 524.90,85.34 524.67,82.79 524.43,85.08 524.20,84.62 523.97,87.22 523.74,81.77 523.50,81.03 523.27,86.06 523.04,86.37 522.80,86.25 522.57,83.73 522.34,88.72 522.11,84.21 521.87,82.18 521.64,84.03 521.41,84.18 521.17,84.62 520.94,92.18 520.71,82.91 520.48,86.44 520.24,85.12 520.01,82.07 519.78,83.58 519.54,94.60 519.31,82.82 519.08,87.57 518.85,93.01 518.61,88.59 518.38,88.14 518.15,87.45 517.91,91.40 517.68,90.07 517.45,99.73 517.22,88.49 516.98,94.10 516.75,90.46 516.52,90.40 516.28,99.61 516.05,98.54 515.82,93.20 515.59,93.57 515.35,92.49 515.12,93.66 514.89,100.12 514.65,93.27 514.42,95.47 514.19,96.55 513.96,97.52 513.72,94.51 513.49,102.91 513.26,94.51 513.02,90.32 512.79,94.02 512.56,94.45 512.33,94.43 512.09,93.50 511.86,94.15 511.63,96.76 511.39,99.53 511.16,97.58 510.93,101.17 510.70,99.79 510.46,100.59 510.23,98.63 510.00,107.76 509.76,98.66 509.53,98.53 509.30,102.70 509.07,103.47 508.83,102.40 508.60,110.28" fill="#deebf8" stroke="none"/>
<path d="M508.60 110.28V96.15M508.83 102.40V93.93M509.07 103.47V92.07M509.30 102.70V90.79M509.53 98.53V88.10M509.76 98.66V90.05M510.00 107.76V91.64M510.23 98.63V89.40M510.46 100.59V90.75M510.70 99.79V87.39M510.93 101.17V87.42M511.16 97.58V87.83M511.39 99.53V87.05M511.63 96.76V83.63M511.86 94.15V83.34M512.09 93.50V82.05M512.33 94.43V80.81M512.56 94.45V80.30M512.79 94.02V78.70M513.02 90.32V76.08M513.26 94.51V84.68M513.49 102.91V86.99M513.72 94.51V83.96M513.96 97.52V82.44M514.19 96.55V82.10M514.42 95.47V73.56M514.65 93.27V79.14M514.89 100.12V87.53M515.12 93.66V84.19M515.35 92.49V81.61M515.59 93.57V82.23M515.82 93.20V77.96M516.05 98.54V77.54M516.28 99.61V82.47M516.52 90.40V77.50M516.75 90.46V79.30M516.98 94.10V81.47M517.22 88.49V77.57M517.45 99.73V80.00M517.68 90.07V76.82M517.91 91.40V80.99M518.15 87.45V78.31M518.38 88.14V64.34M518.61 88.59V73.89M518.85 93.01V74.98M519.08 87.57V77.48M519.31 82.82V72.56M519.54 94.60V74.11M519.78 83.58V73.62M520.01 82.07V70.09M520.24 85.12V72.53M520.48 86.44V73.23M520.71 82.91V68.87M520.94 92.18V73.88M521.17 84.62V71.58M521.41 84.18V64.97M521.64 84.03V70.47M521.87 82.18V72.63M522.11 84.21V73.65M522.34 88.72V66.91M522.57 83.73V66.89M522.80 86.25V70.75M523.04 86.37V76.08M523.27 86.06V74.50M523.50 81.03V69.52M523.74 81.77V71.49M523.97 87.22V73.02M524.20 84.62V63.49M524.43 85.08V70.83M524.67 82.79V70.60M524.90 85.34V72.39M525.13 82.14V72.44M525.37 84.45V74.41M525.60 87.60V69.08M525.83 94.27V74.26M526.06 85.30V73.98M526.30 86.46V73.54M526.53 86.57V76.33M526.76 89.25V78.89M527.00 88.69V79.17M527.23 87.97V78.92M527.46 88.28V78.85M527.69 79.79V65.58M527.93 72.67V58.87M528.16 78.36V62.55M528.39 76.30V62.15M528.63 72.20V61.53M528.86 73.71V63.48M529.09 76.65V63.30M529.32 72.50V63.84M529.56 75.40V59.91M529.79 73.91V64.34M530.02 73.16V61.64M530.26 75.38V61.97M530.49 74.36V62.58M530.72 71.57V57.23M530.95 74.12V63.76M531.19 73.32V63.92M531.42 75.26V66.43M531.65 84.72V64.67M531.89 84.21V59.60M532.12 82.91V65.84M532.35 87.29V69.02M532.58 81.53V69.39M532.82 81.72V71.42M533.05 81.35V72.88M533.28 80.56V71.20M533.52 81.97V64.03M533.75 79.71V65.83M533.98 86.92V65.09M534.22 79.95V65.24M534.45 75.36V56.39M534.68 80.21V68.86M534.91 82.38V69.00M535.15 76.64V67.98M535.38 77.74V67.11M535.61 76.37V67.37M535.85 75.54V58.58M536.08 72.46V62.75M536.31 71.79V59.33M536.54 72.23V63.28M536.78 70.24V59.28M537.01 70.28V61.25M537.24 69.06V60.30M537.48 67.06V55.87M537.71 70.43V56.48M537.94 68.56V55.51M538.17 67.91V55.35M538.41 69.95V56.00M538.64 63.49V54.11M538.87 59.54V42.49M539.11 65.24V53.45M539.34 64.89V49.55M539.57 68.59V50.65M539.80 68.12V47.90M540.04 64.57V45.17M540.27 64.49V53.97M540.50 67.26V50.80M540.74 67.11V52.10M540.97 61.70V50.12M541.20 60.55V50.10M541.43 65.06V51.63M541.67 58.06V48.23M541.90 66.84V54.94M542.13 65.20V51.12M542.37 63.44V50.14M542.60 63.33V53.41M542.83 62.93V50.80M543.06 64.80V46.19M543.30 62.75V54.15M543.53 64.32V53.61M543.76 59.86V50.78M544.00 58.31V49.02M544.23 61.94V51.71M544.46 62.25V47.98M544.69 65.92V56.35M544.93 65.75V50.75M545.16 61.79V52.22M545.39 63.36V53.92M545.63 71.05V54.31M545.86 71.42V55.30M546.09 75.26V55.26M546.32 65.13V56.61M546.56 68.22V54.64M546.79 71.08V56.28M547.02 68.89V58.11M547.26 70.68V60.10M547.49 71.40V58.53M547.72 72.46V62.38M547.95 74.46V62.54M548.19 74.91V64.21M548.42 71.01V61.14M548.65 74.15V62.98M548.89 75.18V64.66M549.12 84.67V55.34M549.35 74.76V65.75M549.58 77.05V61.95M549.82 78.03V66.88M550.05 77.61V62.75M550.28 82.21V69.16M550.52 79.69V69.86M550.75 82.05V73.52M550.98 82.71V72.76M551.21 84.66V62.92M551.45 82.68V72.99M551.68 80.83V69.82M551.91 81.49V68.06M552.15 76.36V65.98M552.38 80.17V67.96M552.61 78.23V67.82M552.84 79.88V68.11M553.08 80.89V64.49M553.31 77.81V66.00M553.54 83.72V62.86M553.78 76.61V63.81M554.01 77.46V62.50M554.24 75.83V64.22M554.47 71.83V57.56M554.71 73.27V53.31M554.94 72.52V64.03M555.17 67.76V56.69M555.41 68.61V58.70M555.64 79.24V60.12M555.87 69.73V55.03M556.10 64.42V55.47M556.34 70.17V49.21M556.57 68.92V58.63M556.80 74.54V56.82M557.04 67.19V51.80M557.27 65.08V53.86M557.50 62.93V51.70M557.73 65.52V51.67M557.97 76.43V52.10M558.20 70.27V55.16M558.43 66.38V56.40M558.67 66.15V52.77M558.90 62.17V53.43M559.13 63.92V52.99M559.36 66.75V54.21M559.60 67.45V56.00M559.83 66.21V51.34M560.06 71.92V47.08M560.30 65.03V52.43M560.53 60.07V50.79M560.76 72.60V50.55M560.99 66.69V55.62M561.23 63.71V51.58M561.46 63.34V53.28M561.69 64.41V46.19M561.93 67.11V52.73M562.16 61.33V50.88M562.39 62.69V52.22M562.62 60.51V48.51M562.86 61.60V50.44M563.09 64.83V52.66M563.32 61.86V43.20M563.56 66.26V44.90M563.79 62.47V49.36M564.02 62.53V52.29M564.25 64.60V52.20M564.49 67.19V57.14M564.72 69.90V52.38M564.95 75.36V61.10M565.19 73.65V58.93M565.42 78.85V65.97M565.65 72.26V61.40M565.88 75.71V65.32M566.12 75.47V63.12M566.35 79.03V70.49M566.58 80.71V68.93M566.82 82.27V68.17M567.05 78.83V65.87M567.28 82.03V69.62M567.51 87.07V70.19M567.75 82.89V61.07M567.98 81.92V70.26M568.21 84.62V71.17M568.45 92.20V68.08M568.68 78.74V69.14M568.91 76.70V63.82M569.14 77.23V66.92M569.38 79.67V64.44M569.61 83.72V68.57M569.84 75.35V63.54M570.08 78.86V68.77M570.31 76.00V56.98M570.54 73.19V62.64M570.77 82.25V65.14M571.01 84.34V70.12M571.24 76.83V67.01M571.47 91.83V65.38M571.71 79.59V65.90M571.94 75.60V65.97M572.17 75.64V63.28M572.40 76.17V64.70M572.64 78.58V61.92M572.87 77.34V65.23M573.10 80.44V62.68M573.34 78.97V63.10M573.57 76.57V63.29M573.80 71.88V61.52M574.03 72.28V59.40M574.27 70.55V61.71M574.50 71.81V59.67M574.73 71.57V55.50M574.97 68.26V47.21M575.20 77.75V54.67M575.43 66.12V55.33M575.66 69.31V58.69M575.90 66.06V55.45M576.13 69.86V53.23M576.36 65.30V53.72M576.60 61.67V44.63M576.83 63.54V53.97M577.06 63.12V54.59M577.29 71.04V55.12M577.53 65.43V54.90M577.76 70.17V55.88M577.99 67.18V52.00M578.23 63.81V50.96M578.46 59.78V49.60M578.69 63.12V53.05M578.92 68.63V54.63M579.16 59.50V50.56M579.39 60.07V50.82M579.62 64.10V49.26M579.86 75.25V54.27M580.09 60.46V44.65M580.32 67.66V44.72M580.55 61.02V51.24M580.79 67.53V53.06M581.02 67.06V49.12M581.25 61.08V48.11M581.49 68.38V52.55M581.72 63.42V53.21M581.95 66.69V55.03M582.18 68.53V54.21M582.42 67.21V55.45M582.65 69.61V60.92M582.88 76.18V59.90M583.12 77.60V60.74M583.35 72.93V63.56M583.58 71.84V62.31M583.82 73.55V63.89M584.05 78.43V65.87M584.28 72.68V57.51M584.51 78.68V61.09M584.75 78.61V67.58M584.98 76.92V68.31M585.21 82.36V72.80M585.45 80.54V71.03M585.68 81.76V70.13M585.91 83.55V61.11M586.14 82.04V66.57M586.38 77.99V65.30M586.61 75.56V62.95M586.84 79.97V62.57M587.08 67.40V58.65M587.31 72.98V60.38M587.54 76.59V64.52M587.77 73.13V58.56M588.01 78.77V56.40M588.24 75.14V63.13M588.47 67.00V53.42M588.71 69.68V58.41M588.94 70.44V61.32M589.17 70.50V60.72M589.40 67.87V58.95M589.64 75.43V61.66M589.87 74.66V59.64M590.10 73.28V61.98M590.34 71.96V58.94M590.57 72.38V63.39M590.80 74.87V60.74M591.03 71.49V62.69M591.27 71.28V59.68M591.50 68.90V59.25M591.73 74.54V59.18M591.97 71.94V52.15M592.20 70.89V52.24M592.43 70.63V55.22M592.66 69.13V55.99M592.90 74.24V52.44M593.13 69.59V59.76M593.36 68.40V58.09M593.60 67.19V57.31M593.83 65.69V47.03M594.06 65.87V52.08M594.29 63.87V49.53M594.53 66.26V54.43M594.76 62.16V51.99M594.99 67.58V51.74M595.23 66.19V47.36M595.46 64.25V51.01M595.69 67.74V56.84M595.92 64.91V53.74M596.16 74.71V55.16M596.39 66.76V46.91M596.62 63.20V53.53M596.86 66.54V54.94M597.09 63.62V49.90M597.32 61.64V46.54M597.55 62.99V45.09M597.79 61.96V51.80M598.02 61.26V50.69M598.25 62.89V54.11M598.49 62.49V49.44M598.72 64.95V50.11M598.95 65.77V47.54M599.18 60.30V51.75M599.42 63.39V46.36M599.65 62.58V49.69M599.88 60.78V41.68M600.12 60.69V51.78M600.35 58.95V47.60M600.58 64.91V47.95M600.81 62.21V50.15M601.05 63.03V45.43M601.28 61.47V45.36M601.51 64.52V55.36M601.75 65.18V50.51M601.98 67.10V57.32M602.21 67.65V55.15M602.44 69.49V60.58M602.68 68.98V56.69M602.91 76.80V62.60M603.14 77.52V63.54M603.38 72.03V63.28M603.61 72.79V56.10M603.84 74.78V60.75M604.07 82.20V57.46M604.31 73.51V64.70M604.54 76.40V62.46M604.77 78.16V67.07M605.01 71.98V62.69M605.24 83.84V65.41M605.47 76.66V64.03M605.70 78.76V60.49M605.94 79.24V62.94M606.17 75.38V59.43M606.40 72.79V62.94M606.64 77.11V62.66M606.87 76.72V64.21M607.10 73.59V64.13M607.33 70.62V59.98M607.57 72.29V59.07M607.80 82.27V58.75M608.03 72.46V62.28M608.27 73.84V60.53M608.50 73.75V64.72M608.73 82.58V62.12M608.96 72.67V62.03M609.20 77.19V65.25M609.43 72.33V59.90M609.66 77.54V63.63M609.90 70.59V61.03M610.13 74.32V56.79M610.36 71.43V62.41M610.59 70.68V56.87M610.83 70.29V61.04M611.06 69.13V56.59M611.29 70.34V55.20M611.53 63.82V54.92M611.76 74.50V56.66M611.99 71.71V56.83M612.22 68.61V52.84M612.46 67.18V56.27M612.69 66.46V57.51M612.92 64.83V55.74M613.16 67.26V45.65M613.39 61.31V43.28M613.62 68.49V57.89M613.85 67.12V46.89M614.09 70.38V52.62M614.32 59.81V50.76M614.55 65.41V54.80M614.79 63.96V51.95M615.02 69.68V57.48M615.25 64.20V53.24M615.48 65.71V52.05M615.72 64.83V43.83M615.95 64.79V41.81M616.18 65.37V51.10M616.42 62.14V49.73M616.65 64.39V53.69M616.88 69.05V56.56M617.11 62.27V52.35M617.35 64.15V49.10M617.58 66.91V53.41M617.81 62.80V51.10M618.05 62.93V50.58M618.28 71.10V52.24M618.51 63.76V53.12M618.74 58.54V44.58M618.98 67.72V47.56M619.21 59.08V49.58M619.44 58.56V46.18M619.68 62.80V53.47M619.91 65.42V49.07M620.14 63.59V50.50M620.37 60.79V52.30M620.61 68.51V54.41M620.84 67.83V53.84M621.07 67.71V50.30M621.31 67.97V57.49M621.54 68.05V56.73M621.77 77.77V63.81M622.00 68.10V55.28M622.24 74.33V62.63M622.47 73.53V60.03M622.70 71.49V60.10M622.94 84.05V66.21M623.17 75.93V66.40M623.40 83.81V62.24M623.63 86.76V64.99M623.87 75.11V66.43M624.10 79.62V65.04M624.33 79.22V60.68M624.57 88.27V67.21M624.80 81.54V70.76M625.03 83.86V68.18M625.26 76.31V67.87M625.50 79.31V69.21M625.73 79.28V70.28M625.96 77.08V62.40M626.20 79.17V64.55M626.43 80.90V65.57M626.66 76.29V67.86M626.89 78.77V60.09M627.13 73.50V62.25M627.36 72.68V63.02M627.59 68.82V59.28M627.83 69.39V56.20M628.06 71.74V59.07M628.29 64.53V48.27M628.52 69.99V59.81M628.76 76.75V59.68M628.99 67.41V58.34M629.22 65.65V51.62M629.46 73.91V53.27M629.69 60.41V49.04M629.92 61.69V49.38M630.15 65.57V49.55M630.39 68.26V45.51M630.62 70.02V52.33M630.85 61.61V52.24M631.09 64.67V55.86M631.32 63.59V52.62M631.55 65.40V53.97M631.78 62.43V51.38M632.02 62.27V48.16M632.25 64.55V49.82M632.48 58.05V49.52M632.72 62.84V53.10M632.95 65.49V54.49M633.18 61.22V49.62M633.42 69.52V57.50M633.65 61.73V51.07M633.88 63.90V54.19M634.11 65.26V52.26M634.35 64.84V55.58M634.58 62.38V53.69M634.81 64.91V54.99M635.05 66.71V53.71M635.28 66.15V51.92M635.51 61.32V51.10M635.74 64.03V51.31M635.98 75.05V47.19M636.21 66.21V56.46M636.44 62.43V53.34M636.68 65.49V53.24M636.91 63.08V52.24M637.14 71.30V53.44M637.37 66.53V57.21M637.61 65.70V53.52M637.84 67.63V58.95M638.07 64.33V53.53M638.31 63.54V50.79M638.54 63.83V49.17M638.77 73.02V56.91M639.00 72.13V52.31M639.24 67.12V58.20M639.47 71.07V58.38M639.70 70.13V59.91M639.94 70.39V57.44M640.17 73.57V63.76M640.40 72.52V54.86M640.63 80.56V61.94M640.87 73.37V60.94M641.10 78.85V61.60M641.33 73.27V64.79M641.57 81.49V61.79M641.80 76.25V61.11M642.03 79.23V68.84M642.26 77.56V68.36M642.50 87.49V68.19M642.73 82.88V60.61M642.96 78.75V68.98M643.20 82.66V69.11M643.43 78.79V64.66M643.66 82.51V64.36M643.89 74.28V64.08M644.13 74.88V66.42M644.36 80.23V67.73M644.59 89.42V71.35M644.83 77.13V68.69M645.06 80.44V65.42M645.29 76.52V65.91M645.52 77.54V67.17M645.76 78.13V57.65M645.99 78.68V68.06M646.22 76.57V65.68M646.46 78.84V63.91M646.69 71.85V62.31M646.92 83.05V61.48M647.15 78.60V65.30M647.39 73.31V60.71M647.62 74.33V63.96M647.85 70.34V57.19M648.09 71.76V60.72M648.32 73.07V59.96M648.55 72.67V62.34M648.78 70.73V50.93M649.02 69.43V57.87M649.25 72.31V57.99M649.48 69.17V59.18M649.72 80.86V54.21M649.95 73.23V64.48M650.18 72.93V62.21M650.41 74.65V55.79M650.65 65.89V55.02M650.88 67.84V50.09M651.11 70.81V55.83M651.35 64.63V54.24M651.58 67.66V55.07M651.81 66.78V56.68M652.04 64.80V46.63M652.28 66.36V57.33M652.51 65.87V53.04M652.74 63.33V53.72M652.98 66.49V55.41M653.21 60.93V52.04M653.44 62.39V53.79M653.67 63.59V54.14M653.91 68.91V51.93M654.14 60.88V52.30M654.37 72.14V53.66M654.61 61.68V49.23M654.84 61.49V48.49M655.07 65.78V52.62M655.30 63.86V50.09M655.54 60.51V49.11M655.77 64.69V52.66M656.00 67.61V54.92M656.24 64.14V53.66M656.47 74.62V55.45M656.70 71.57V50.81M656.93 69.04V59.87M657.17 68.07V58.93M657.40 67.94V54.27" stroke="#b0d2f2" stroke-width="0.4" opacity="0.8" fill="none"/>
<polyline points="508.60,100.84 509.07,97.77 509.53,93.31 510.00,97.07 510.46,95.67 510.93,93.49 511.39,92.73 511.86,88.75 512.33,87.62 512.79,86.36 513.26,89.59 513.72,89.23 514.19,87.81 514.65,88.01 515.12,88.93 515.59,87.87 516.05,85.91 516.52,83.95 516.98,87.79 517.45,85.63 517.91,86.19 518.38,79.63 518.85,83.99 519.31,77.69 519.78,78.60 520.24,78.83 520.71,75.89 521.17,78.10 521.64,77.25 522.11,78.93 522.57,75.31 523.04,81.22 523.50,76.22 523.97,78.37 524.43,77.95 524.90,78.02 525.37,79.43 525.83,80.03 526.30,80.00 526.76,84.07 527.23,83.45 527.69,75.49 528.16,70.45 528.63,66.87 529.09,69.98 529.56,69.40 530.02,67.40 530.49,68.47 530.95,68.94 531.42,70.85 531.89,69.66 532.35,73.78 532.82,76.57 533.28,75.88 533.75,72.77 534.22,72.60 534.68,74.53 535.15,72.31 535.61,71.87 536.08,67.60 536.54,67.76 537.01,65.76 537.48,61.47 537.94,62.03 538.41,62.97 538.87,55.13 539.34,57.22 539.80,58.01 540.27,58.51 540.74,58.31 541.20,55.32 541.67,53.15 542.13,58.16 542.60,58.37 543.06,55.39 543.53,58.97 544.00,53.67 544.46,54.87 544.93,60.01 545.39,58.64 545.86,63.36 546.32,60.87 546.79,63.68 547.26,65.39 547.72,67.91 548.19,69.56 548.65,68.57 549.12,68.02 549.58,71.93 550.05,72.55 550.52,74.78 550.98,77.73 551.45,77.84 551.91,74.78 552.38,74.07 552.84,74.31 553.31,71.91 553.78,70.21 554.24,70.03 554.71,64.95 555.17,62.31 555.64,65.04 556.10,59.94 556.57,63.05 557.04,58.25 557.50,57.31 557.97,61.02 558.43,61.39 558.90,57.80 559.36,60.48 559.83,58.78 560.30,58.73 560.76,57.97 561.23,57.65 561.69,55.30 562.16,56.10 562.62,54.51 563.09,58.75 563.56,58.34 564.02,57.41 564.49,62.17 564.95,65.84 565.42,72.41 565.88,70.52 566.35,74.76 566.82,75.22 567.28,75.82 567.75,73.35 568.21,77.89 568.68,73.94 569.14,72.08 569.61,74.94 570.08,73.82 570.54,67.92 571.01,75.48 571.47,73.87 571.94,70.78 572.40,70.43 572.87,71.29 573.34,69.74 573.80,66.70 574.27,66.13 574.73,65.50 575.20,61.57 575.66,63.20 576.13,61.36 576.60,56.00 577.06,58.86 577.53,60.16 577.99,59.59 578.46,54.69 578.92,61.63 579.39,55.44 579.86,61.14 580.32,56.91 580.79,60.29 581.25,54.60 581.72,58.31 582.18,61.37 582.65,65.26 583.12,65.53 583.58,67.08 584.05,72.15 584.51,69.89 584.98,72.61 585.45,75.78 585.91,73.47 586.38,71.64 586.84,70.48 587.31,66.68 587.77,66.56 588.24,69.14 588.71,64.36 589.17,65.61 589.64,68.54 590.10,67.63 590.57,67.89 591.03,67.09 591.50,64.07 591.97,65.01 592.43,62.93 592.90,64.53 593.36,63.25 593.83,59.87 594.29,59.44 594.76,57.25 595.23,56.78 595.69,62.29 596.16,60.24 596.62,58.36 597.09,56.76 597.55,53.90 598.02,55.98 598.49,55.97 598.95,56.66 599.42,54.88 599.88,52.56 600.35,53.27 600.81,56.18 601.28,56.98 601.75,57.84 602.21,61.40 602.68,62.83 603.14,68.14 603.61,66.83 604.07,66.06 604.54,69.43 605.01,67.33 605.47,70.35 605.94,68.00 606.40,67.87 606.87,70.46 607.33,65.30 607.80,70.34 608.27,67.18 608.73,67.31 609.20,70.98 609.66,70.58 610.13,68.11 610.59,65.40 611.06,63.19 611.53,59.37 611.99,62.24 612.46,61.73 612.92,60.29 613.39,55.41 613.85,59.91 614.32,55.28 614.79,57.95 615.25,58.72 615.72,58.26 616.18,58.23 616.65,59.04 617.11,57.31 617.58,59.34 618.05,56.76 618.51,58.44 618.98,55.05 619.44,52.37 619.91,57.78 620.37,56.55 620.84,60.83 621.31,62.73 621.77,68.39 622.24,68.12 622.70,66.50 623.17,71.16 623.63,71.13 624.10,72.33 624.57,72.75 625.03,73.56 625.50,74.26 625.96,72.19 626.43,73.08 626.89,66.03 627.36,67.85 627.83,62.79 628.29,59.58 628.76,66.11 629.22,58.64 629.69,54.73 630.15,58.85 630.62,61.18 631.09,60.27 631.55,58.76 632.02,53.32 632.48,53.78 632.95,59.99 633.42,63.51 633.88,59.04 634.35,60.21 634.81,59.95 635.28,58.22 635.74,57.67 636.21,61.23 636.68,59.37 637.14,59.75 637.61,59.61 638.07,58.93 638.54,58.89 639.00,63.91 639.47,64.73 639.94,64.85 640.40,66.41 640.87,67.15 641.33,69.03 641.80,68.68 642.26,72.96 642.73,70.28 643.20,75.88 643.66,71.56 644.13,70.65 644.59,76.84 645.06,72.93 645.52,72.36 645.99,73.37 646.46,71.38 646.92,73.64 647.39,67.84 647.85,63.77 648.32,66.51 648.78,64.98 649.25,65.15 649.72,63.22 650.18,67.24 650.65,60.46 651.11,60.64 651.58,61.37 652.04,58.70 652.51,59.46 652.98,60.95 653.44,58.09 653.91,60.42 654.37,60.05 654.84,54.99 655.30,56.93 655.77,58.68 656.24,58.90 656.70,60.79 657.17,63.50" fill="none" stroke="#4a4a4a" stroke-width="0.65" stroke-linejoin="round"/>
<line x1="508.6" y1="32.4" x2="508.6" y2="116.4" stroke="#333" stroke-width="1"/>
<line x1="506.4" y1="116.4" x2="508.6" y2="116.4" stroke="#333" stroke-width="1"/>
<text x="505" y="119.16" font-size="7.7" text-anchor="end" fill="#141414" stroke="#141414" stroke-width="0.15">0.6</text>
<line x1="506.4" y1="99.6" x2="508.6" y2="99.6" stroke="#333" stroke-width="1"/>
<text x="505" y="102.36" font-size="7.7" text-anchor="end" fill="#141414" stroke="#141414" stroke-width="0.15">0.7</text>
<line x1="506.4" y1="82.8" x2="508.6" y2="82.8" stroke="#333" stroke-width="1"/>
<text x="505" y="85.56" font-size="7.7" text-anchor="end" fill="#141414" stroke="#141414" stroke-width="0.15">0.8</text>
<line x1="506.4" y1="66" x2="508.6" y2="66" stroke="#333" stroke-width="1"/>
<text x="505" y="68.76" font-size="7.7" text-anchor="end" fill="#141414" stroke="#141414" stroke-width="0.15">0.9</text>
<line x1="506.4" y1="49.2" x2="508.6" y2="49.2" stroke="#333" stroke-width="1"/>
<text x="505" y="51.96" font-size="7.7" text-anchor="end" fill="#141414" stroke="#141414" stroke-width="0.15">1.0</text>
<line x1="506.4" y1="32.4" x2="508.6" y2="32.4" stroke="#333" stroke-width="1"/>
<text x="505" y="35.16" font-size="7.7" text-anchor="end" fill="#141414" stroke="#141414" stroke-width="0.15">1.1</text>
<line x1="508.6" y1="116.4" x2="664.6" y2="116.4" stroke="#333" stroke-width="1"/>
<line x1="508.6" y1="116.4" x2="508.6" y2="118.6" stroke="#333" stroke-width="1"/>
<text x="508.6" y="125.56" font-size="7.7" text-anchor="middle" fill="#141414" stroke="#141414" stroke-width="0.15">1</text>
<line x1="527.2" y1="116.4" x2="527.2" y2="118.6" stroke="#333" stroke-width="1"/>
<text x="527.2" y="125.56" font-size="7.7" text-anchor="middle" fill="#141414" stroke="#141414" stroke-width="0.15">2</text>
<line x1="545.8" y1="116.4" x2="545.8" y2="118.6" stroke="#333" stroke-width="1"/>
<text x="545.8" y="125.56" font-size="7.7" text-anchor="middle" fill="#141414" stroke="#141414" stroke-width="0.15">3</text>
<line x1="564.4" y1="116.4" x2="564.4" y2="118.6" stroke="#333" stroke-width="1"/>
<text x="564.4" y="125.56" font-size="7.7" text-anchor="middle" fill="#141414" stroke="#141414" stroke-width="0.15">4</text>
<line x1="583" y1="116.4" x2="583" y2="118.6" stroke="#333" stroke-width="1"/>
<text x="583" y="125.56" font-size="7.7" text-anchor="middle" fill="#141414" stroke="#141414" stroke-width="0.15">5</text>
<line x1="601.6" y1="116.4" x2="601.6" y2="118.6" stroke="#333" stroke-width="1"/>
<text x="601.6" y="125.56" font-size="7.7" text-anchor="middle" fill="#141414" stroke="#141414" stroke-width="0.15">6</text>
<line x1="620.2" y1="116.4" x2="620.2" y2="118.6" stroke="#333" stroke-width="1"/>
<text x="620.2" y="125.56" font-size="7.7" text-anchor="middle" fill="#141414" stroke="#141414" stroke-width="0.15">7</text>
<line x1="638.8" y1="116.4" x2="638.8" y2="118.6" stroke="#333" stroke-width="1"/>
<text x="638.8" y="125.56" font-size="7.7" text-anchor="middle" fill="#141414" stroke="#141414" stroke-width="0.15">8</text>
<line x1="657.4" y1="116.4" x2="657.4" y2="118.6" stroke="#333" stroke-width="1"/>
<text x="657.4" y="125.56" font-size="7.7" text-anchor="middle" fill="#141414" stroke="#141414" stroke-width="0.15">9</text>
<text x="592.4" y="34.76" font-size="7.7" text-anchor="middle" fill="#141414" stroke="#141414" stroke-width="0.15">MOCK</text>
<text transform="translate(490.5,75.6) rotate(-90)" x="0" y="2.76" font-size="7.7" text-anchor="middle" fill="#141414" stroke="#141414" stroke-width="0.15">RER</text>
<polygon points="510.00,194.31 510.23,197.84 510.47,194.61 510.70,200.15 510.93,201.15 511.17,192.07 511.40,192.08 511.64,193.30 511.87,197.44 512.10,198.62 512.34,199.01 512.57,199.67 512.80,200.14 513.04,197.85 513.27,195.02 513.50,196.42 513.74,200.74 513.97,199.74 514.21,198.44 514.44,188.43 514.67,192.02 514.91,197.42 515.14,196.25 515.37,196.03 515.61,198.23 515.84,190.55 516.07,192.91 516.31,193.03 516.54,193.11 516.77,187.16 517.01,195.36 517.24,196.30 517.48,188.18 517.71,196.05 517.94,193.15 518.18,193.55 518.41,187.67 518.64,190.05 518.88,189.82 519.11,194.71 519.34,190.53 519.58,182.48 519.81,192.71 520.05,183.58 520.28,184.63 520.51,188.27 520.75,191.30 520.98,195.05 521.21,179.56 521.45,185.82 521.68,186.92 521.91,190.89 522.15,186.47 522.38,192.54 522.62,175.03 522.85,190.52 523.08,190.72 523.32,186.38 523.55,185.01 523.78,180.47 524.02,186.09 524.25,184.20 524.48,183.13 524.72,174.60 524.95,183.56 525.18,183.60 525.42,180.72 525.65,184.83 525.89,182.21 526.12,178.93 526.35,183.70 526.59,184.32 526.82,181.37 527.05,184.67 527.29,178.84 527.52,173.16 527.75,180.99 527.99,181.86 528.22,182.46 528.46,180.43 528.69,187.76 528.92,186.85 529.16,181.03 529.39,181.72 529.62,180.47 529.86,184.71 530.09,186.80 530.32,185.25 530.56,185.77 530.79,179.59 531.03,185.57 531.26,176.33 531.49,189.26 531.73,180.13 531.96,188.68 532.19,181.65 532.43,182.62 532.66,181.61 532.89,185.83 533.13,183.19 533.36,182.85 533.60,183.19 533.83,182.22 534.06,178.71 534.30,186.95 534.53,181.07 534.76,185.48 535.00,183.08 535.23,185.74 535.46,176.86 535.70,181.04 535.93,184.14 536.16,179.52 536.40,182.68 536.63,175.38 536.87,184.64 537.10,183.67 537.33,181.71 537.57,179.97 537.80,187.19 538.03,179.25 538.27,180.53 538.50,186.32 538.73,176.45 538.97,183.96 539.20,184.58 539.44,184.04 539.67,180.87 539.90,185.58 540.14,181.46 540.37,177.72 540.60,182.42 540.84,177.97 541.07,172.26 541.30,175.42 541.54,178.06 541.77,175.77 542.01,175.52 542.24,164.93 542.47,174.26 542.71,171.21 542.94,175.34 543.17,170.00 543.41,165.48 543.64,169.44 543.87,168.85 544.11,164.89 544.34,167.03 544.58,168.16 544.81,166.18 545.04,171.54 545.28,165.48 545.51,169.38 545.74,173.00 545.98,165.15 546.21,168.50 546.44,173.25 546.68,172.43 546.91,165.99 547.14,175.02 547.38,173.01 547.61,164.75 547.85,171.69 548.08,168.71 548.31,170.27 548.55,169.55 548.78,173.84 549.01,179.14 549.25,170.33 549.48,178.16 549.71,167.13 549.95,178.03 550.18,165.46 550.42,170.60 550.65,172.63 550.88,178.40 551.12,169.18 551.35,174.50 551.58,174.06 551.82,175.71 552.05,176.27 552.28,178.88 552.52,171.35 552.75,178.16 552.99,175.70 553.22,178.22 553.45,173.97 553.69,170.02 553.92,173.41 554.15,172.47 554.39,165.31 554.62,171.92 554.85,174.30 555.09,170.44 555.32,168.15 555.55,173.64 555.79,167.49 556.02,168.21 556.26,164.21 556.49,168.87 556.72,171.83 556.96,169.79 557.19,173.02 557.42,173.84 557.66,164.54 557.89,169.84 558.12,171.41 558.36,167.71 558.59,169.50 558.83,166.14 559.06,165.18 559.29,167.46 559.53,168.90 559.76,168.87 559.99,169.03 560.23,169.85 560.46,170.41 560.69,167.94 560.93,171.23 561.16,170.56 561.40,167.33 561.63,167.60 561.86,170.16 562.10,168.49 562.33,168.13 562.56,166.37 562.80,165.64 563.03,171.28 563.26,167.29 563.50,173.15 563.73,163.22 563.97,167.75 564.20,170.60 564.43,169.44 564.67,172.05 564.90,170.75 565.13,167.13 565.37,173.11 565.60,171.46 565.83,172.91 566.07,171.60 566.30,172.10 566.53,179.42 566.77,175.68 567.00,180.87 567.24,181.12 567.47,179.98 567.70,177.01 567.94,180.96 568.17,175.97 568.40,177.68 568.64,174.44 568.87,176.64 569.10,176.76 569.34,174.59 569.57,173.65 569.81,176.42 570.04,175.66 570.27,171.44 570.51,170.31 570.74,173.81 570.97,167.96 571.21,173.68 571.44,168.90 571.67,174.58 571.91,171.44 572.14,172.41 572.38,168.52 572.61,169.63 572.84,169.93 573.08,166.21 573.31,170.70 573.54,171.04 573.78,170.49 574.01,168.97 574.24,169.03 574.48,168.66 574.71,172.51 574.94,169.74 575.18,167.38 575.41,165.59 575.65,169.87 575.88,163.18 576.11,171.21 576.35,169.34 576.58,162.50 576.81,156.39 577.05,163.96 577.28,172.12 577.51,168.51 577.75,168.67 577.98,169.40 578.22,170.08 578.45,163.71 578.68,171.66 578.92,169.62 579.15,168.80 579.38,161.09 579.62,168.78 579.85,164.02 580.08,168.31 580.32,169.54 580.55,164.95 580.79,163.74 581.02,165.62 581.25,168.91 581.49,161.98 581.72,163.39 581.95,160.36 582.19,169.93 582.42,170.54 582.65,169.64 582.89,163.12 583.12,167.29 583.36,168.85 583.59,176.70 583.82,174.49 584.06,176.97 584.29,174.58 584.52,172.08 584.76,175.49 584.99,174.06 585.22,170.51 585.46,174.40 585.69,178.65 585.92,181.65 586.16,172.02 586.39,179.06 586.63,183.76 586.86,176.81 587.09,172.82 587.33,181.82 587.56,191.68 587.79,179.74 588.03,184.12 588.26,186.22 588.49,184.92 588.73,186.13 588.96,183.09 589.20,177.17 589.43,181.42 589.66,175.86 589.90,168.59 590.13,175.87 590.36,173.99 590.60,171.61 590.83,174.87 591.06,172.04 591.30,170.46 591.53,168.02 591.77,165.58 592.00,170.23 592.23,163.39 592.47,170.91 592.70,168.64 592.93,168.60 593.17,173.32 593.40,165.67 593.63,169.02 593.87,160.13 594.10,164.01 594.34,166.88 594.57,168.08 594.80,170.85 595.04,165.76 595.27,163.92 595.50,168.69 595.74,167.14 595.97,164.37 596.20,167.17 596.44,161.74 596.67,155.46 596.90,169.95 597.14,160.60 597.37,166.59 597.61,166.22 597.84,165.54 598.07,163.79 598.31,165.58 598.54,166.06 598.77,170.40 599.01,168.46 599.24,169.06 599.47,163.11 599.71,167.20 599.94,162.60 600.18,168.63 600.41,172.75 600.64,168.87 600.88,174.49 601.11,166.90 601.34,168.72 601.58,164.75 601.81,167.26 602.04,167.94 602.28,169.07 602.51,169.56 602.75,166.88 602.98,167.84 603.21,164.01 603.45,169.72 603.68,167.51 603.91,164.83 604.15,163.93 604.38,165.89 604.61,159.33 604.85,168.08 605.08,163.24 605.31,169.32 605.55,168.85 605.78,171.82 606.02,168.27 606.25,169.31 606.48,170.32 606.72,160.93 606.95,165.24 607.18,169.50 607.42,163.72 607.65,154.51 607.88,175.69 608.12,166.42 608.35,169.29 608.59,167.15 608.82,171.59 609.05,169.34 609.29,168.18 609.52,172.49 609.75,174.70 609.99,172.88 610.22,171.60 610.45,168.68 610.69,167.80 610.92,171.46 611.16,170.98 611.39,169.28 611.62,168.49 611.86,170.46 612.09,171.10 612.32,166.51 612.56,167.22 612.79,165.71 613.02,170.43 613.26,170.04 613.49,169.28 613.73,170.03 613.96,173.85 614.19,175.35 614.43,170.53 614.66,176.38 614.89,176.37 615.13,170.49 615.36,171.47 615.59,170.69 615.83,172.87 616.06,178.71 616.29,168.18 616.53,176.60 616.76,167.07 617.00,177.91 617.23,176.38 617.46,176.13 617.70,172.56 617.93,169.49 618.16,174.00 618.40,174.43 618.63,178.20 618.86,176.91 619.10,173.95 619.33,176.20 619.57,171.13 619.80,179.15 620.03,180.81 620.27,174.04 620.50,175.25 620.73,180.37 620.97,183.25 621.20,181.69 621.43,178.77 621.67,182.54 621.90,184.10 622.14,184.83 622.37,188.57 622.60,188.31 622.84,180.38 623.07,178.14 623.30,184.92 623.54,189.49 623.77,187.73 624.00,181.73 624.24,184.39 624.47,189.21 624.70,189.77 624.94,181.02 625.17,185.19 625.41,194.23 625.64,188.61 625.87,191.24 626.11,188.85 626.34,193.76 626.57,187.95 626.81,198.73 627.04,192.88 627.27,195.39 627.51,193.56 627.74,195.45 627.98,196.30 628.21,197.61 628.44,194.86 628.68,196.88 628.91,199.30 629.14,192.01 629.38,197.94 629.61,195.98 629.84,202.92 630.08,201.01 630.31,202.30 630.55,201.01 630.78,195.52 631.01,202.65 631.25,202.04 631.48,194.68 631.71,197.72 631.95,196.27 632.18,206.00 632.41,201.37 632.65,197.17 632.88,199.20 633.12,203.35 633.35,200.16 633.58,196.34 633.82,194.60 634.05,194.60 634.28,206.58 634.52,205.83 634.75,199.97 634.98,194.79 635.22,201.04 635.45,202.90 635.68,204.88 635.92,199.70 636.15,207.19 636.39,203.71 636.62,206.27 636.85,207.90 637.09,208.52 637.32,205.99 637.55,206.94 637.79,208.59 638.02,203.90 638.25,206.18 638.49,200.67 638.72,208.14 638.96,206.42 639.19,196.05 639.42,212.15 639.66,203.89 639.89,203.40 640.12,200.55 640.36,206.34 640.59,210.40 640.82,206.03 641.06,203.66 641.29,204.09 641.53,208.79 641.76,208.29 641.99,197.31 642.23,207.65 642.46,204.05 642.69,208.72 642.93,209.69 643.16,206.98 643.39,207.09 643.63,206.31 643.86,200.52 644.10,213.78 644.33,202.16 644.56,206.03 644.80,207.79 645.03,198.79 645.26,202.10 645.50,209.01 645.73,198.93 645.96,206.35 646.20,203.09 646.43,199.93 646.66,207.29 646.90,209.40 647.13,204.28 647.37,203.42 647.60,205.20 647.83,207.39 648.07,209.71 648.30,204.74 648.53,204.25 648.77,206.30 649.00,202.51 649.23,204.29 649.47,203.26 649.70,202.46 649.94,204.79 650.17,206.08 650.40,195.63 650.64,203.48 650.87,207.79 651.10,202.83 651.34,206.63 651.57,203.47 651.80,197.96 652.04,205.49 652.27,202.50 652.51,205.23 652.74,200.36 652.97,202.03 653.21,201.66 653.44,201.67 653.67,202.75 653.91,204.49 654.14,200.62 654.37,201.20 654.61,196.98 654.84,201.27 655.07,204.26 655.31,201.24 655.54,204.23 655.78,206.17 656.01,199.11 656.24,204.59 656.48,198.66 656.71,196.28 656.94,202.61 657.18,200.70 657.41,202.23 657.64,195.74 657.88,196.73 658.11,196.25 658.35,195.56 658.58,203.08 658.81,197.84 659.05,196.74 659.28,199.27 659.28,209.72 659.05,208.97 658.81,209.47 658.58,212.88 658.35,214.96 658.11,215.17 657.88,207.08 657.64,206.75 657.41,212.14 657.18,209.79 656.94,213.45 656.71,209.04 656.48,211.29 656.24,220.70 656.01,217.38 655.78,214.14 655.54,213.31 655.31,217.94 655.07,216.37 654.84,215.02 654.61,213.51 654.37,212.59 654.14,217.07 653.91,212.09 653.67,210.83 653.44,211.78 653.21,216.10 652.97,222.66 652.74,208.20 652.51,217.08 652.27,220.34 652.04,222.69 651.80,206.96 651.57,216.70 651.34,214.02 651.10,216.52 650.87,215.35 650.64,213.51 650.40,221.46 650.17,216.27 649.94,214.15 649.70,213.07 649.47,215.26 649.23,212.78 649.00,224.62 648.77,217.49 648.53,215.18 648.30,212.42 648.07,224.43 647.83,215.55 647.60,214.03 647.37,219.82 647.13,215.90 646.90,216.93 646.66,217.36 646.43,215.61 646.20,218.80 645.96,215.77 645.73,222.60 645.50,216.40 645.26,224.76 645.03,219.99 644.80,216.49 644.56,219.79 644.33,219.38 644.10,222.04 643.86,217.80 643.63,219.90 643.39,225.66 643.16,215.71 642.93,220.17 642.69,216.34 642.46,219.70 642.23,220.22 641.99,213.80 641.76,217.28 641.53,217.60 641.29,213.51 641.06,218.59 640.82,217.32 640.59,217.87 640.36,214.32 640.12,217.31 639.89,213.64 639.66,218.82 639.42,223.20 639.19,219.66 638.96,217.06 638.72,221.35 638.49,218.73 638.25,216.97 638.02,216.08 637.79,222.56 637.55,219.58 637.32,223.07 637.09,223.43 636.85,231.69 636.62,216.78 636.39,221.27 636.15,227.28 635.92,220.18 635.68,217.58 635.45,221.13 635.22,220.31 634.98,215.29 634.75,213.26 634.52,218.90 634.28,219.55 634.05,216.81 633.82,215.58 633.58,217.92 633.35,217.50 633.12,220.29 632.88,214.49 632.65,219.20 632.41,223.08 632.18,218.41 631.95,216.44 631.71,214.99 631.48,212.94 631.25,214.13 631.01,216.20 630.78,223.30 630.55,215.32 630.31,217.72 630.08,220.83 629.84,214.61 629.61,216.54 629.38,209.76 629.14,211.33 628.91,212.20 628.68,208.90 628.44,213.79 628.21,209.60 627.98,209.15 627.74,209.67 627.51,209.17 627.27,215.20 627.04,203.75 626.81,210.60 626.57,207.97 626.34,206.62 626.11,212.92 625.87,205.57 625.64,213.32 625.41,206.97 625.17,198.79 624.94,212.61 624.70,208.75 624.47,204.44 624.24,204.15 624.00,204.21 623.77,207.60 623.54,202.31 623.30,197.45 623.07,197.62 622.84,200.14 622.60,202.25 622.37,201.27 622.14,198.38 621.90,195.29 621.67,197.65 621.43,193.23 621.20,194.98 620.97,193.67 620.73,192.65 620.50,198.55 620.27,194.32 620.03,191.21 619.80,196.16 619.57,193.66 619.33,193.23 619.10,191.01 618.86,188.08 618.63,190.54 618.40,185.97 618.16,187.67 617.93,186.97 617.70,185.50 617.46,188.12 617.23,189.59 617.00,190.96 616.76,181.59 616.53,191.41 616.29,193.24 616.06,194.65 615.83,187.45 615.59,183.39 615.36,191.16 615.13,182.54 614.89,187.25 614.66,191.30 614.43,181.96 614.19,186.32 613.96,185.30 613.73,180.50 613.49,186.23 613.26,184.23 613.02,183.74 612.79,180.47 612.56,186.86 612.32,180.04 612.09,185.25 611.86,181.06 611.62,181.83 611.39,184.84 611.16,184.55 610.92,185.37 610.69,183.45 610.45,182.01 610.22,181.60 609.99,185.69 609.75,186.65 609.52,187.33 609.29,179.37 609.05,180.31 608.82,182.78 608.59,185.17 608.35,182.95 608.12,185.20 607.88,186.37 607.65,179.17 607.42,180.38 607.18,193.83 606.95,183.86 606.72,177.89 606.48,185.90 606.25,185.44 606.02,183.87 605.78,182.67 605.55,180.50 605.31,181.50 605.08,183.95 604.85,183.08 604.61,178.16 604.38,185.15 604.15,180.12 603.91,190.34 603.68,178.45 603.45,179.62 603.21,177.17 602.98,183.32 602.75,177.85 602.51,180.64 602.28,179.02 602.04,180.48 601.81,178.18 601.58,184.71 601.34,182.36 601.11,188.74 600.88,184.24 600.64,181.92 600.41,186.06 600.18,187.91 599.94,181.87 599.71,178.97 599.47,180.59 599.24,191.46 599.01,178.22 598.77,189.77 598.54,185.03 598.31,185.77 598.07,178.44 597.84,180.23 597.61,182.05 597.37,177.31 597.14,178.38 596.90,188.66 596.67,182.22 596.44,180.97 596.20,181.40 595.97,178.64 595.74,186.24 595.50,179.08 595.27,180.92 595.04,186.11 594.80,182.52 594.57,177.57 594.34,181.87 594.10,175.46 593.87,179.62 593.63,178.56 593.40,175.77 593.17,183.83 592.93,178.56 592.70,180.82 592.47,181.73 592.23,178.65 592.00,184.30 591.77,176.10 591.53,182.47 591.30,183.68 591.06,181.52 590.83,184.44 590.60,181.73 590.36,184.29 590.13,186.44 589.90,188.03 589.66,190.58 589.43,194.41 589.20,191.79 588.96,195.28 588.73,195.91 588.49,199.33 588.26,195.68 588.03,197.90 587.79,191.31 587.56,209.82 587.33,191.94 587.09,191.59 586.86,194.33 586.63,195.24 586.39,191.71 586.16,193.48 585.92,194.41 585.69,189.24 585.46,191.39 585.22,186.35 584.99,189.78 584.76,187.58 584.52,183.83 584.29,191.63 584.06,187.86 583.82,188.19 583.59,185.90 583.36,181.49 583.12,179.68 582.89,185.86 582.65,179.17 582.42,193.28 582.19,180.72 581.95,178.61 581.72,173.42 581.49,177.81 581.25,180.08 581.02,177.67 580.79,189.18 580.55,175.20 580.32,180.53 580.08,182.14 579.85,181.49 579.62,178.24 579.38,174.43 579.15,181.11 578.92,181.33 578.68,183.57 578.45,177.41 578.22,182.88 577.98,183.21 577.75,178.64 577.51,182.37 577.28,182.95 577.05,176.56 576.81,178.89 576.58,177.57 576.35,182.57 576.11,181.39 575.88,177.14 575.65,179.89 575.41,180.42 575.18,180.62 574.94,186.36 574.71,183.87 574.48,182.15 574.24,185.41 574.01,186.44 573.78,185.13 573.54,184.64 573.31,187.61 573.08,185.04 572.84,183.56 572.61,179.73 572.38,178.39 572.14,181.94 571.91,188.09 571.67,184.11 571.44,185.29 571.21,183.36 570.97,185.76 570.74,183.30 570.51,186.18 570.27,184.10 570.04,188.18 569.81,187.17 569.57,186.06 569.34,193.39 569.10,192.76 568.87,188.40 568.64,192.31 568.40,193.75 568.17,194.43 567.94,192.77 567.70,188.53 567.47,189.93 567.24,193.79 567.00,192.63 566.77,191.32 566.53,194.04 566.30,188.88 566.07,183.98 565.83,185.39 565.60,183.18 565.37,182.24 565.13,178.22 564.90,180.48 564.67,184.15 564.43,181.94 564.20,182.64 563.97,184.10 563.73,177.00 563.50,184.15 563.26,182.69 563.03,183.94 562.80,179.55 562.56,178.19 562.33,186.31 562.10,178.70 561.86,188.24 561.63,180.36 561.40,176.97 561.16,181.76 560.93,182.70 560.69,182.11 560.46,184.58 560.23,185.77 559.99,182.69 559.76,184.16 559.53,184.66 559.29,179.96 559.06,173.92 558.83,180.77 558.59,179.93 558.36,182.07 558.12,181.29 557.89,178.97 557.66,182.52 557.42,184.86 557.19,185.15 556.96,185.06 556.72,184.61 556.49,183.19 556.26,185.54 556.02,180.95 555.79,187.51 555.55,186.54 555.32,190.40 555.09,189.65 554.85,186.07 554.62,186.30 554.39,184.78 554.15,183.11 553.92,187.55 553.69,186.64 553.45,188.04 553.22,187.17 552.99,185.56 552.75,190.59 552.52,189.95 552.28,193.70 552.05,185.98 551.82,186.07 551.58,182.97 551.35,186.07 551.12,187.00 550.88,192.08 550.65,183.20 550.42,186.93 550.18,182.54 549.95,188.62 549.71,186.81 549.48,193.62 549.25,191.48 549.01,189.58 548.78,183.69 548.55,181.47 548.31,181.42 548.08,188.18 547.85,187.49 547.61,184.52 547.38,184.14 547.14,183.74 546.91,184.84 546.68,189.66 546.44,184.07 546.21,184.60 545.98,183.02 545.74,183.82 545.51,185.00 545.28,178.62 545.04,183.23 544.81,186.13 544.58,183.54 544.34,187.55 544.11,183.99 543.87,183.28 543.64,184.63 543.41,181.68 543.17,188.85 542.94,191.25 542.71,188.77 542.47,189.11 542.24,185.46 542.01,197.47 541.77,191.38 541.54,194.84 541.30,196.49 541.07,193.11 540.84,201.29 540.60,197.50 540.37,199.98 540.14,200.26 539.90,201.99 539.67,202.88 539.44,202.74 539.20,206.94 538.97,198.83 538.73,203.83 538.50,200.83 538.27,195.27 538.03,202.66 537.80,202.58 537.57,194.38 537.33,200.49 537.10,200.58 536.87,200.10 536.63,197.49 536.40,200.71 536.16,198.01 535.93,205.90 535.70,211.85 535.46,207.37 535.23,204.33 535.00,202.00 534.76,202.95 534.53,202.44 534.30,201.48 534.06,202.86 533.83,202.09 533.60,201.80 533.36,198.15 533.13,206.16 532.89,207.35 532.66,204.18 532.43,204.88 532.19,201.84 531.96,203.60 531.73,203.69 531.49,206.81 531.26,200.39 531.03,202.44 530.79,203.59 530.56,204.40 530.32,201.96 530.09,201.67 529.86,204.64 529.62,198.59 529.39,201.64 529.16,204.44 528.92,202.78 528.69,204.23 528.46,201.21 528.22,203.57 527.99,202.72 527.75,200.18 527.52,198.69 527.29,203.93 527.05,202.61 526.82,199.91 526.59,200.07 526.35,200.59 526.12,198.87 525.89,201.39 525.65,205.05 525.42,208.92 525.18,204.77 524.95,205.67 524.72,203.02 524.48,201.56 524.25,203.70 524.02,205.00 523.78,206.46 523.55,202.91 523.32,205.73 523.08,210.85 522.85,206.74 522.62,206.40 522.38,207.70 522.15,210.54 521.91,211.63 521.68,210.92 521.45,206.24 521.21,210.08 520.98,211.23 520.75,210.16 520.51,207.80 520.28,211.80 520.05,210.31 519.81,208.91 519.58,210.42 519.34,208.54 519.11,211.46 518.88,217.04 518.64,209.20 518.41,212.69 518.18,210.15 517.94,216.55 517.71,211.41 517.48,212.45 517.24,219.32 517.01,210.86 516.77,213.79 516.54,211.93 516.31,219.08 516.07,216.81 515.84,211.44 515.61,217.99 515.37,212.33 515.14,213.19 514.91,213.13 514.67,214.75 514.44,209.82 514.21,215.90 513.97,216.12 513.74,220.06 513.50,213.08 513.27,215.27 513.04,217.60 512.80,215.94 512.57,219.95 512.34,219.03 512.10,214.78 511.87,224.50 511.64,217.90 511.40,216.03 511.17,213.00 510.93,216.88 510.70,224.55 510.47,226.78 510.23,218.26 510.00,213.49" fill="#f8e7cb" stroke="none"/>
<path d="M510.00 213.49V194.31M510.23 218.26V197.84M510.47 226.78V194.61M510.70 224.55V200.15M510.93 216.88V201.15M511.17 213.00V192.07M511.40 216.03V192.08M511.64 217.90V193.30M511.87 224.50V197.44M512.10 214.78V198.62M512.34 219.03V199.01M512.57 219.95V199.67M512.80 215.94V200.14M513.04 217.60V197.85M513.27 215.27V195.02M513.50 213.08V196.42M513.74 220.06V200.74M513.97 216.12V199.74M514.21 215.90V198.44M514.44 209.82V188.43M514.67 214.75V192.02M514.91 213.13V197.42M515.14 213.19V196.25M515.37 212.33V196.03M515.61 217.99V198.23M515.84 211.44V190.55M516.07 216.81V192.91M516.31 219.08V193.03M516.54 211.93V193.11M516.77 213.79V187.16M517.01 210.86V195.36M517.24 219.32V196.30M517.48 212.45V188.18M517.71 211.41V196.05M517.94 216.55V193.15M518.18 210.15V193.55M518.41 212.69V187.67M518.64 209.20V190.05M518.88 217.04V189.82M519.11 211.46V194.71M519.34 208.54V190.53M519.58 210.42V182.48M519.81 208.91V192.71M520.05 210.31V183.58M520.28 211.80V184.63M520.51 207.80V188.27M520.75 210.16V191.30M520.98 211.23V195.05M521.21 210.08V179.56M521.45 206.24V185.82M521.68 210.92V186.92M521.91 211.63V190.89M522.15 210.54V186.47M522.38 207.70V192.54M522.62 206.40V175.03M522.85 206.74V190.52M523.08 210.85V190.72M523.32 205.73V186.38M523.55 202.91V185.01M523.78 206.46V180.47M524.02 205.00V186.09M524.25 203.70V184.20M524.48 201.56V183.13M524.72 203.02V174.60M524.95 205.67V183.56M525.18 204.77V183.60M525.42 208.92V180.72M525.65 205.05V184.83M525.89 201.39V182.21M526.12 198.87V178.93M526.35 200.59V183.70M526.59 200.07V184.32M526.82 199.91V181.37M527.05 202.61V184.67M527.29 203.93V178.84M527.52 198.69V173.16M527.75 200.18V180.99M527.99 202.72V181.86M528.22 203.57V182.46M528.46 201.21V180.43M528.69 204.23V187.76M528.92 202.78V186.85M529.16 204.44V181.03M529.39 201.64V181.72M529.62 198.59V180.47M529.86 204.64V184.71M530.09 201.67V186.80M530.32 201.96V185.25M530.56 204.40V185.77M530.79 203.59V179.59M531.03 202.44V185.57M531.26 200.39V176.33M531.49 206.81V189.26M531.73 203.69V180.13M531.96 203.60V188.68M532.19 201.84V181.65M532.43 204.88V182.62M532.66 204.18V181.61M532.89 207.35V185.83M533.13 206.16V183.19M533.36 198.15V182.85M533.60 201.80V183.19M533.83 202.09V182.22M534.06 202.86V178.71M534.30 201.48V186.95M534.53 202.44V181.07M534.76 202.95V185.48M535.00 202.00V183.08M535.23 204.33V185.74M535.46 207.37V176.86M535.70 211.85V181.04M535.93 205.90V184.14M536.16 198.01V179.52M536.40 200.71V182.68M536.63 197.49V175.38M536.87 200.10V184.64M537.10 200.58V183.67M537.33 200.49V181.71M537.57 194.38V179.97M537.80 202.58V187.19M538.03 202.66V179.25M538.27 195.27V180.53M538.50 200.83V186.32M538.73 203.83V176.45M538.97 198.83V183.96M539.20 206.94V184.58M539.44 202.74V184.04M539.67 202.88V180.87M539.90 201.99V185.58M540.14 200.26V181.46M540.37 199.98V177.72M540.60 197.50V182.42M540.84 201.29V177.97M541.07 193.11V172.26M541.30 196.49V175.42M541.54 194.84V178.06M541.77 191.38V175.77M542.01 197.47V175.52M542.24 185.46V164.93M542.47 189.11V174.26M542.71 188.77V171.21M542.94 191.25V175.34M543.17 188.85V170.00M543.41 181.68V165.48M543.64 184.63V169.44M543.87 183.28V168.85M544.11 183.99V164.89M544.34 187.55V167.03M544.58 183.54V168.16M544.81 186.13V166.18M545.04 183.23V171.54M545.28 178.62V165.48M545.51 185.00V169.38M545.74 183.82V173.00M545.98 183.02V165.15M546.21 184.60V168.50M546.44 184.07V173.25M546.68 189.66V172.43M546.91 184.84V165.99M547.14 183.74V175.02M547.38 184.14V173.01M547.61 184.52V164.75M547.85 187.49V171.69M548.08 188.18V168.71M548.31 181.42V170.27M548.55 181.47V169.55M548.78 183.69V173.84M549.01 189.58V179.14M549.25 191.48V170.33M549.48 193.62V178.16M549.71 186.81V167.13M549.95 188.62V178.03M550.18 182.54V165.46M550.42 186.93V170.60M550.65 183.20V172.63M550.88 192.08V178.40M551.12 187.00V169.18M551.35 186.07V174.50M551.58 182.97V174.06M551.82 186.07V175.71M552.05 185.98V176.27M552.28 193.70V178.88M552.52 189.95V171.35M552.75 190.59V178.16M552.99 185.56V175.70M553.22 187.17V178.22M553.45 188.04V173.97M553.69 186.64V170.02M553.92 187.55V173.41M554.15 183.11V172.47M554.39 184.78V165.31M554.62 186.30V171.92M554.85 186.07V174.30M555.09 189.65V170.44M555.32 190.40V168.15M555.55 186.54V173.64M555.79 187.51V167.49M556.02 180.95V168.21M556.26 185.54V164.21M556.49 183.19V168.87M556.72 184.61V171.83M556.96 185.06V169.79M557.19 185.15V173.02M557.42 184.86V173.84M557.66 182.52V164.54M557.89 178.97V169.84M558.12 181.29V171.41M558.36 182.07V167.71M558.59 179.93V169.50M558.83 180.77V166.14M559.06 173.92V165.18M559.29 179.96V167.46M559.53 184.66V168.90M559.76 184.16V168.87M559.99 182.69V169.03M560.23 185.77V169.85M560.46 184.58V170.41M560.69 182.11V167.94M560.93 182.70V171.23M561.16 181.76V170.56M561.40 176.97V167.33M561.63 180.36V167.60M561.86 188.24V170.16M562.10 178.70V168.49M562.33 186.31V168.13M562.56 178.19V166.37M562.80 179.55V165.64M563.03 183.94V171.28M563.26 182.69V167.29M563.50 184.15V173.15M563.73 177.00V163.22M563.97 184.10V167.75M564.20 182.64V170.60M564.43 181.94V169.44M564.67 184.15V172.05M564.90 180.48V170.75M565.13 178.22V167.13M565.37 182.24V173.11M565.60 183.18V171.46M565.83 185.39V172.91M566.07 183.98V171.60M566.30 188.88V172.10M566.53 194.04V179.42M566.77 191.32V175.68M567.00 192.63V180.87M567.24 193.79V181.12M567.47 189.93V179.98M567.70 188.53V177.01M567.94 192.77V180.96M568.17 194.43V175.97M568.40 193.75V177.68M568.64 192.31V174.44M568.87 188.40V176.64M569.10 192.76V176.76M569.34 193.39V174.59M569.57 186.06V173.65M569.81 187.17V176.42M570.04 188.18V175.66M570.27 184.10V171.44M570.51 186.18V170.31M570.74 183.30V173.81M570.97 185.76V167.96M571.21 183.36V173.68M571.44 185.29V168.90M571.67 184.11V174.58M571.91 188.09V171.44M572.14 181.94V172.41M572.38 178.39V168.52M572.61 179.73V169.63M572.84 183.56V169.93M573.08 185.04V166.21M573.31 187.61V170.70M573.54 184.64V171.04M573.78 185.13V170.49M574.01 186.44V168.97M574.24 185.41V169.03M574.48 182.15V168.66M574.71 183.87V172.51M574.94 186.36V169.74M575.18 180.62V167.38M575.41 180.42V165.59M575.65 179.89V169.87M575.88 177.14V163.18M576.11 181.39V171.21M576.35 182.57V169.34M576.58 177.57V162.50M576.81 178.89V156.39M577.05 176.56V163.96M577.28 182.95V172.12M577.51 182.37V168.51M577.75 178.64V168.67M577.98 183.21V169.40M578.22 182.88V170.08M578.45 177.41V163.71M578.68 183.57V171.66M578.92 181.33V169.62M579.15 181.11V168.80M579.38 174.43V161.09M579.62 178.24V168.78M579.85 181.49V164.02M580.08 182.14V168.31M580.32 180.53V169.54M580.55 175.20V164.95M580.79 189.18V163.74M581.02 177.67V165.62M581.25 180.08V168.91M581.49 177.81V161.98M581.72 173.42V163.39M581.95 178.61V160.36M582.19 180.72V169.93M582.42 193.28V170.54M582.65 179.17V169.64M582.89 185.86V163.12M583.12 179.68V167.29M583.36 181.49V168.85M583.59 185.90V176.70M583.82 188.19V174.49M584.06 187.86V176.97M584.29 191.63V174.58M584.52 183.83V172.08M584.76 187.58V175.49M584.99 189.78V174.06M585.22 186.35V170.51M585.46 191.39V174.40M585.69 189.24V178.65M585.92 194.41V181.65M586.16 193.48V172.02M586.39 191.71V179.06M586.63 195.24V183.76M586.86 194.33V176.81M587.09 191.59V172.82M587.33 191.94V181.82M587.56 209.82V191.68M587.79 191.31V179.74M588.03 197.90V184.12M588.26 195.68V186.22M588.49 199.33V184.92M588.73 195.91V186.13M588.96 195.28V183.09M589.20 191.79V177.17M589.43 194.41V181.42M589.66 190.58V175.86M589.90 188.03V168.59M590.13 186.44V175.87M590.36 184.29V173.99M590.60 181.73V171.61M590.83 184.44V174.87M591.06 181.52V172.04M591.30 183.68V170.46M591.53 182.47V168.02M591.77 176.10V165.58M592.00 184.30V170.23M592.23 178.65V163.39M592.47 181.73V170.91M592.70 180.82V168.64M592.93 178.56V168.60M593.17 183.83V173.32M593.40 175.77V165.67M593.63 178.56V169.02M593.87 179.62V160.13M594.10 175.46V164.01M594.34 181.87V166.88M594.57 177.57V168.08M594.80 182.52V170.85M595.04 186.11V165.76M595.27 180.92V163.92M595.50 179.08V168.69M595.74 186.24V167.14M595.97 178.64V164.37M596.20 181.40V167.17M596.44 180.97V161.74M596.67 182.22V155.46M596.90 188.66V169.95M597.14 178.38V160.60M597.37 177.31V166.59M597.61 182.05V166.22M597.84 180.23V165.54M598.07 178.44V163.79M598.31 185.77V165.58M598.54 185.03V166.06M598.77 189.77V170.40M599.01 178.22V168.46M599.24 191.46V169.06M599.47 180.59V163.11M599.71 178.97V167.20M599.94 181.87V162.60M600.18 187.91V168.63M600.41 186.06V172.75M600.64 181.92V168.87M600.88 184.24V174.49M601.11 188.74V166.90M601.34 182.36V168.72M601.58 184.71V164.75M601.81 178.18V167.26M602.04 180.48V167.94M602.28 179.02V169.07M602.51 180.64V169.56M602.75 177.85V166.88M602.98 183.32V167.84M603.21 177.17V164.01M603.45 179.62V169.72M603.68 178.45V167.51M603.91 190.34V164.83M604.15 180.12V163.93M604.38 185.15V165.89M604.61 178.16V159.33M604.85 183.08V168.08M605.08 183.95V163.24M605.31 181.50V169.32M605.55 180.50V168.85M605.78 182.67V171.82M606.02 183.87V168.27M606.25 185.44V169.31M606.48 185.90V170.32M606.72 177.89V160.93M606.95 183.86V165.24M607.18 193.83V169.50M607.42 180.38V163.72M607.65 179.17V154.51M607.88 186.37V175.69M608.12 185.20V166.42M608.35 182.95V169.29M608.59 185.17V167.15M608.82 182.78V171.59M609.05 180.31V169.34M609.29 179.37V168.18M609.52 187.33V172.49M609.75 186.65V174.70M609.99 185.69V172.88M610.22 181.60V171.60M610.45 182.01V168.68M610.69 183.45V167.80M610.92 185.37V171.46M611.16 184.55V170.98M611.39 184.84V169.28M611.62 181.83V168.49M611.86 181.06V170.46M612.09 185.25V171.10M612.32 180.04V166.51M612.56 186.86V167.22M612.79 180.47V165.71M613.02 183.74V170.43M613.26 184.23V170.04M613.49 186.23V169.28M613.73 180.50V170.03M613.96 185.30V173.85M614.19 186.32V175.35M614.43 181.96V170.53M614.66 191.30V176.38M614.89 187.25V176.37M615.13 182.54V170.49M615.36 191.16V171.47M615.59 183.39V170.69M615.83 187.45V172.87M616.06 194.65V178.71M616.29 193.24V168.18M616.53 191.41V176.60M616.76 181.59V167.07M617.00 190.96V177.91M617.23 189.59V176.38M617.46 188.12V176.13M617.70 185.50V172.56M617.93 186.97V169.49M618.16 187.67V174.00M618.40 185.97V174.43M618.63 190.54V178.20M618.86 188.08V176.91M619.10 191.01V173.95M619.33 193.23V176.20M619.57 193.66V171.13M619.80 196.16V179.15M620.03 191.21V180.81M620.27 194.32V174.04M620.50 198.55V175.25M620.73 192.65V180.37M620.97 193.67V183.25M621.20 194.98V181.69M621.43 193.23V178.77M621.67 197.65V182.54M621.90 195.29V184.10M622.14 198.38V184.83M622.37 201.27V188.57M622.60 202.25V188.31M622.84 200.14V180.38M623.07 197.62V178.14M623.30 197.45V184.92M623.54 202.31V189.49M623.77 207.60V187.73M624.00 204.21V181.73M624.24 204.15V184.39M624.47 204.44V189.21M624.70 208.75V189.77M624.94 212.61V181.02M625.17 198.79V185.19M625.41 206.97V194.23M625.64 213.32V188.61M625.87 205.57V191.24M626.11 212.92V188.85M626.34 206.62V193.76M626.57 207.97V187.95M626.81 210.60V198.73M627.04 203.75V192.88M627.27 215.20V195.39M627.51 209.17V193.56M627.74 209.67V195.45M627.98 209.15V196.30M628.21 209.60V197.61M628.44 213.79V194.86M628.68 208.90V196.88M628.91 212.20V199.30M629.14 211.33V192.01M629.38 209.76V197.94M629.61 216.54V195.98M629.84 214.61V202.92M630.08 220.83V201.01M630.31 217.72V202.30M630.55 215.32V201.01M630.78 223.30V195.52M631.01 216.20V202.65M631.25 214.13V202.04M631.48 212.94V194.68M631.71 214.99V197.72M631.95 216.44V196.27M632.18 218.41V206.00M632.41 223.08V201.37M632.65 219.20V197.17M632.88 214.49V199.20M633.12 220.29V203.35M633.35 217.50V200.16M633.58 217.92V196.34M633.82 215.58V194.60M634.05 216.81V194.60M634.28 219.55V206.58M634.52 218.90V205.83M634.75 213.26V199.97M634.98 215.29V194.79M635.22 220.31V201.04M635.45 221.13V202.90M635.68 217.58V204.88M635.92 220.18V199.70M636.15 227.28V207.19M636.39 221.27V203.71M636.62 216.78V206.27M636.85 231.69V207.90M637.09 223.43V208.52M637.32 223.07V205.99M637.55 219.58V206.94M637.79 222.56V208.59M638.02 216.08V203.90M638.25 216.97V206.18M638.49 218.73V200.67M638.72 221.35V208.14M638.96 217.06V206.42M639.19 219.66V196.05M639.42 223.20V212.15M639.66 218.82V203.89M639.89 213.64V203.40M640.12 217.31V200.55M640.36 214.32V206.34M640.59 217.87V210.40M640.82 217.32V206.03M641.06 218.59V203.66M641.29 213.51V204.09M641.53 217.60V208.79M641.76 217.28V208.29M641.99 213.80V197.31M642.23 220.22V207.65M642.46 219.70V204.05M642.69 216.34V208.72M642.93 220.17V209.69M643.16 215.71V206.98M643.39 225.66V207.09M643.63 219.90V206.31M643.86 217.80V200.52M644.10 222.04V213.78M644.33 219.38V202.16M644.56 219.79V206.03M644.80 216.49V207.79M645.03 219.99V198.79M645.26 224.76V202.10M645.50 216.40V209.01M645.73 222.60V198.93M645.96 215.77V206.35M646.20 218.80V203.09M646.43 215.61V199.93M646.66 217.36V207.29M646.90 216.93V209.40M647.13 215.90V204.28M647.37 219.82V203.42M647.60 214.03V205.20M647.83 215.55V207.39M648.07 224.43V209.71M648.30 212.42V204.74M648.53 215.18V204.25M648.77 217.49V206.30M649.00 224.62V202.51M649.23 212.78V204.29M649.47 215.26V203.26M649.70 213.07V202.46M649.94 214.15V204.79M650.17 216.27V206.08M650.40 221.46V195.63M650.64 213.51V203.48M650.87 215.35V207.79M651.10 216.52V202.83M651.34 214.02V206.63M651.57 216.70V203.47M651.80 206.96V197.96M652.04 222.69V205.49M652.27 220.34V202.50M652.51 217.08V205.23M652.74 208.20V200.36M652.97 222.66V202.03M653.21 216.10V201.66M653.44 211.78V201.67M653.67 210.83V202.75M653.91 212.09V204.49M654.14 217.07V200.62M654.37 212.59V201.20M654.61 213.51V196.98M654.84 215.02V201.27M655.07 216.37V204.26M655.31 217.94V201.24M655.54 213.31V204.23M655.78 214.14V206.17M656.01 217.38V199.11M656.24 220.70V204.59M656.48 211.29V198.66M656.71 209.04V196.28M656.94 213.45V202.61M657.18 209.79V200.70M657.41 212.14V202.23M657.64 206.75V195.74M657.88 207.08V196.73M658.11 215.17V196.25M658.35 214.96V195.56M658.58 212.88V203.08M658.81 209.47V197.84M659.05 208.97V196.74M659.28 209.72V199.27" stroke="#f0d3a8" stroke-width="0.4" opacity="0.8" fill="none"/>
<polyline points="510.00,204.25 510.47,207.24 510.93,209.01 511.40,206.73 511.87,207.02 512.34,208.41 512.80,208.04 513.27,205.14 513.74,210.40 514.21,207.17 514.67,203.38 515.14,204.72 515.61,207.02 516.07,201.60 516.54,202.52 517.01,203.11 517.48,200.32 517.94,201.25 518.41,201.67 518.88,201.12 519.34,199.53 519.81,200.81 520.28,201.95 520.75,200.73 521.21,198.39 521.68,198.92 522.15,202.34 522.62,192.47 523.08,199.04 523.55,193.96 524.02,195.54 524.48,191.40 524.95,194.61 525.42,192.44 525.89,191.80 526.35,192.14 526.82,190.64 527.29,188.99 527.75,190.59 528.22,192.42 528.69,195.82 529.16,194.55 529.62,190.01 530.09,194.24 530.56,195.75 531.03,194.00 531.49,196.73 531.96,196.14 532.43,193.75 532.89,196.17 533.36,190.81 533.83,192.16 534.30,194.21 534.76,194.22 535.23,195.03 535.70,192.46 536.16,188.77 536.63,188.28 537.10,192.12 537.57,187.17 538.03,191.20 538.50,193.57 538.97,191.39 539.44,193.39 539.90,193.78 540.37,188.85 540.84,186.27 541.30,185.95 541.77,183.57 542.24,178.68 542.71,179.99 543.17,179.43 543.64,177.03 544.11,176.87 544.58,175.85 545.04,177.39 545.51,177.19 545.98,174.33 546.44,178.66 546.91,178.22 547.38,177.87 547.85,179.59 548.31,175.85 548.78,178.77 549.25,179.44 549.71,180.89 550.18,176.22 550.65,177.37 551.12,177.03 551.58,178.52 552.05,181.12 552.52,180.65 552.99,180.63 553.45,180.18 553.92,177.80 554.39,177.92 554.85,180.34 555.32,177.84 555.79,175.32 556.26,178.40 556.72,178.22 557.19,179.08 557.66,175.36 558.12,176.35 558.59,174.72 559.06,169.55 559.53,176.78 559.99,175.86 560.46,177.49 560.93,176.96 561.40,172.15 561.86,175.16 562.33,173.65 562.80,173.30 563.26,174.99 563.73,172.34 564.20,176.62 564.67,178.10 565.13,172.68 565.60,177.32 566.07,178.53 566.53,186.73 567.00,186.75 567.47,184.95 567.94,186.87 568.40,187.30 568.87,182.52 569.34,180.50 569.81,181.80 570.27,178.48 570.74,178.56 571.21,178.52 571.67,179.34 572.14,177.17 572.61,174.68 573.08,179.04 573.54,176.16 574.01,177.71 574.48,175.77 574.94,178.05 575.41,175.60 575.88,171.51 576.35,174.67 576.81,170.73 577.28,177.54 577.75,173.65 578.22,175.96 578.68,177.62 579.15,174.96 579.62,173.51 580.08,175.22 580.55,170.08 581.02,171.65 581.49,169.89 581.95,173.08 582.42,177.81 582.89,177.75 583.36,176.62 583.82,181.34 584.29,179.22 584.76,181.54 585.22,180.85 585.69,183.95 586.16,185.50 586.63,189.50 587.09,186.36 587.56,196.86 588.03,191.01 588.49,194.05 588.96,189.19 589.43,187.91 589.90,181.23 590.36,179.14 590.83,179.65 591.30,177.07 591.77,170.84 592.23,171.02 592.70,174.73 593.17,178.58 593.63,173.79 594.10,169.73 594.57,172.82 595.04,172.00 595.50,173.89 595.97,171.21 596.44,171.35 596.90,177.37 597.37,171.95 597.84,174.02 598.31,171.78 598.77,176.38 599.24,176.61 599.71,173.09 600.18,174.87 600.64,175.39 601.11,175.21 601.58,174.73 602.04,174.21 602.51,175.10 602.98,175.58 603.45,174.67 603.91,174.22 604.38,175.52 604.85,175.58 605.31,175.41 605.78,177.24 606.25,177.38 606.72,172.98 607.18,177.57 607.65,170.37 608.12,174.40 608.59,174.52 609.05,174.82 609.52,177.43 609.99,179.29 610.45,175.38 610.92,178.42 611.39,177.06 611.86,175.76 612.32,174.30 612.79,172.71 613.26,175.87 613.73,175.27 614.19,180.84 614.66,183.13 615.13,176.52 615.59,177.04 616.06,186.68 616.53,182.65 617.00,184.43 617.46,181.89 617.93,181.08 618.40,180.20 618.86,182.10 619.33,186.85 619.80,186.45 620.27,185.58 620.73,186.51 621.20,188.34 621.67,188.53 622.14,191.61 622.60,195.28 623.07,188.27 623.54,195.90 624.00,196.25 624.47,196.82 624.94,196.49 625.41,200.75 625.87,198.40 626.34,200.19 626.81,204.66 627.27,206.39 627.74,202.56 628.21,203.60 628.68,202.89 629.14,205.16 629.61,202.54 630.08,206.97 630.55,208.16 631.01,209.42 631.48,205.59 631.95,208.98 632.41,208.48 632.88,206.85 633.35,208.83 633.82,207.96 634.28,213.06 634.75,206.48 635.22,210.67 635.68,212.09 636.15,213.40 636.62,211.52 637.09,215.97 637.55,213.26 638.02,209.99 638.49,213.63 638.96,211.74 639.42,217.68 639.89,208.52 640.36,210.33 640.82,211.68 641.29,208.80 641.76,212.79 642.23,213.93 642.69,212.53 643.16,211.35 643.63,213.11 644.10,217.91 644.56,212.91 645.03,213.28 645.50,212.71 645.96,211.06 646.43,211.10 646.90,213.17 647.37,210.63 647.83,211.47 648.30,208.58 648.77,212.17 649.23,208.54 649.70,207.76 650.17,211.17 650.64,208.50 651.10,209.68 651.57,210.09 652.04,213.30 652.51,211.15 652.97,209.24 653.44,207.41 653.91,208.29 654.37,207.63 654.84,208.15 655.31,208.16 655.78,210.15 656.24,208.97 656.71,202.66 657.18,205.24 657.64,202.93 658.11,205.71 658.58,207.98 659.05,202.85" fill="none" stroke="#e86262" stroke-width="0.65" stroke-linejoin="round"/>
<line x1="510" y1="151.5" x2="510" y2="235.2" stroke="#333" stroke-width="1"/>
<line x1="507.8" y1="235.2" x2="510" y2="235.2" stroke="#333" stroke-width="1"/>
<line x1="507.8" y1="218.46" x2="510" y2="218.46" stroke="#333" stroke-width="1"/>
<text x="506.4" y="221.22" font-size="7.7" text-anchor="end" fill="#141414" stroke="#141414" stroke-width="0.15">0.7</text>
<line x1="507.8" y1="201.72" x2="510" y2="201.72" stroke="#333" stroke-width="1"/>
<text x="506.4" y="204.48" font-size="7.7" text-anchor="end" fill="#141414" stroke="#141414" stroke-width="0.15">0.8</text>
<line x1="507.8" y1="184.98" x2="510" y2="184.98" stroke="#333" stroke-width="1"/>
<text x="506.4" y="187.74" font-size="7.7" text-anchor="end" fill="#141414" stroke="#141414" stroke-width="0.15">0.9</text>
<line x1="507.8" y1="168.24" x2="510" y2="168.24" stroke="#333" stroke-width="1"/>
<text x="506.4" y="171" font-size="7.7" text-anchor="end" fill="#141414" stroke="#141414" stroke-width="0.15">1.0</text>
<line x1="507.8" y1="151.5" x2="510" y2="151.5" stroke="#333" stroke-width="1"/>
<text x="506.4" y="154.26" font-size="7.7" text-anchor="end" fill="#141414" stroke="#141414" stroke-width="0.15">1.1</text>
<line x1="510" y1="235.2" x2="665.2" y2="235.2" stroke="#333" stroke-width="1"/>
<line x1="510" y1="235.2" x2="510" y2="237.4" stroke="#333" stroke-width="1"/>
<text x="510" y="244.36" font-size="7.7" text-anchor="middle" fill="#141414" stroke="#141414" stroke-width="0.15">1</text>
<line x1="528.66" y1="235.2" x2="528.66" y2="237.4" stroke="#333" stroke-width="1"/>
<text x="528.66" y="244.36" font-size="7.7" text-anchor="middle" fill="#141414" stroke="#141414" stroke-width="0.15">2</text>
<line x1="547.32" y1="235.2" x2="547.32" y2="237.4" stroke="#333" stroke-width="1"/>
<text x="547.32" y="244.36" font-size="7.7" text-anchor="middle" fill="#141414" stroke="#141414" stroke-width="0.15">3</text>
<line x1="565.98" y1="235.2" x2="565.98" y2="237.4" stroke="#333" stroke-width="1"/>
<text x="565.98" y="244.36" font-size="7.7" text-anchor="middle" fill="#141414" stroke="#141414" stroke-width="0.15">4</text>
<line x1="584.64" y1="235.2" x2="584.64" y2="237.4" stroke="#333" stroke-width="1"/>
<text x="584.64" y="244.36" font-size="7.7" text-anchor="middle" fill="#141414" stroke="#141414" stroke-width="0.15">5</text>
<line x1="603.3" y1="235.2" x2="603.3" y2="237.4" stroke="#333" stroke-width="1"/>
<text x="603.3" y="244.36" font-size="7.7" text-anchor="middle" fill="#141414" stroke="#141414" stroke-width="0.15">6</text>
<line x1="621.96" y1="235.2" x2="621.96" y2="237.4" stroke="#333" stroke-width="1"/>
<text x="621.96" y="244.36" font-size="7.7" text-anchor="middle" fill="#141414" stroke="#141414" stroke-width="0.15">7</text>
<line x1="640.62" y1="235.2" x2="640.62" y2="237.4" stroke="#333" stroke-width="1"/>
<text x="640.62" y="244.36" font-size="7.7" text-anchor="middle" fill="#141414" stroke="#141414" stroke-width="0.15">8</text>
<line x1="659.28" y1="235.2" x2="659.28" y2="237.4" stroke="#333" stroke-width="1"/>
<text x="659.28" y="244.36" font-size="7.7" text-anchor="middle" fill="#141414" stroke="#141414" stroke-width="0.15">9</text>
<text x="590.8" y="149.66" font-size="7.7" text-anchor="middle" fill="#141414" stroke="#141414" stroke-width="0.15">RABV</text>
<text transform="translate(489.8,192) rotate(-90)" x="0" y="2.76" font-size="7.7" text-anchor="middle" fill="#141414" stroke="#141414" stroke-width="0.15">RER</text>
<text x="583" y="257.17" font-size="7.75" text-anchor="middle" fill="#141414" stroke="#141414" stroke-width="0.15">The day pots infection CVS-11</text>
<rect x="574.2" y="540.13" width="13.2" height="66.27" fill="#000000" stroke="#111" stroke-width="0.9"/>
<line x1="580.8" y1="536.6" x2="580.8" y2="540.13" stroke="#111" stroke-width="1"/>
<line x1="577.3" y1="536.6" x2="584.3" y2="536.6" stroke="#111" stroke-width="1"/>
<rect x="594.7" y="571.28" width="12.5" height="35.12" fill="#ee1c1c" stroke="#111" stroke-width="0.9"/>
<line x1="600.95" y1="561.2" x2="600.95" y2="581.6" stroke="#111" stroke-width="1"/>
<line x1="597.45" y1="561.2" x2="604.45" y2="561.2" stroke="#111" stroke-width="1"/>
<line x1="597.45" y1="581.6" x2="604.45" y2="581.6" stroke="#111" stroke-width="1"/>
<rect x="627.9" y="540.13" width="13.2" height="66.27" fill="#000000" stroke="#111" stroke-width="0.9"/>
<line x1="634.5" y1="536.6" x2="634.5" y2="540.13" stroke="#111" stroke-width="1"/>
<line x1="631" y1="536.6" x2="638" y2="536.6" stroke="#111" stroke-width="1"/>
<rect x="648.4" y="542.12" width="12.5" height="64.28" fill="#ee1c1c" stroke="#111" stroke-width="0.9"/>
<line x1="654.65" y1="534.7" x2="654.65" y2="548.6" stroke="#111" stroke-width="1"/>
<line x1="651.15" y1="534.7" x2="658.15" y2="534.7" stroke="#111" stroke-width="1"/>
<line x1="651.15" y1="548.6" x2="658.15" y2="548.6" stroke="#111" stroke-width="1"/>
<line x1="567.7" y1="507" x2="567.7" y2="606.4" stroke="#222" stroke-width="1.1"/>
<line x1="567.7" y1="606.4" x2="674.1" y2="606.4" stroke="#222" stroke-width="1.1"/>
<line x1="565.5" y1="606.4" x2="567.7" y2="606.4" stroke="#222" stroke-width="1.1"/>
<text x="564.5" y="609.19" font-size="7.8" text-anchor="end" fill="#141414" stroke="#141414" stroke-width="0.16">0.0</text>
<line x1="565.5" y1="573.27" x2="567.7" y2="573.27" stroke="#222" stroke-width="1.1"/>
<text x="564.5" y="576.06" font-size="7.8" text-anchor="end" fill="#141414" stroke="#141414" stroke-width="0.16">0.5</text>
<line x1="565.5" y1="540.13" x2="567.7" y2="540.13" stroke="#222" stroke-width="1.1"/>
<text x="564.5" y="542.93" font-size="7.8" text-anchor="end" fill="#141414" stroke="#141414" stroke-width="0.16">1.0</text>
<line x1="565.5" y1="507" x2="567.7" y2="507" stroke="#222" stroke-width="1.1"/>
<text x="564.5" y="509.79" font-size="7.8" text-anchor="end" fill="#141414" stroke="#141414" stroke-width="0.16">1.5</text>
<text transform="translate(544.1,556.4) rotate(-90)" x="0" y="2.79" font-size="7.8" text-anchor="middle" fill="#141414" stroke="#141414" stroke-width="0.16">Relative luciferase activity</text>
<text x="589.8" y="620.59" font-size="7.8" text-anchor="middle" fill="#141414" stroke="#141414" stroke-width="0.16">BMAL1-WT</text>
<text x="646.4" y="620.59" font-size="7.8" text-anchor="middle" fill="#141414" stroke="#141414" stroke-width="0.16">BMAL1-dRORE</text>
<rect x="578.5" y="504.1" width="4.6" height="4.3" fill="#404040" stroke="none" stroke-width="1"/>
<text x="586.7" y="508.59" font-size="7.8" text-anchor="start" fill="#141414" stroke="#141414" stroke-width="0.16">MOCK</text>
<rect x="578.5" y="514.7" width="4.6" height="4.3" fill="#ee1c1c" stroke="none" stroke-width="1"/>
<text x="586.7" y="519.39" font-size="7.8" text-anchor="start" fill="#141414" stroke="#141414" stroke-width="0.16">RABV</text>
<line x1="580.9" y1="530.6" x2="601.2" y2="530.6" stroke="#111" stroke-width="1.1"/>
<text x="590.3" y="530.39" font-size="7.8" text-anchor="middle" fill="#141414" stroke="#141414" stroke-width="0.16">**</text>
<line x1="635.1" y1="529.8" x2="654.4" y2="529.8" stroke="#111" stroke-width="1.1"/>
<text x="644.8" y="528.29" font-size="7.8" text-anchor="middle" fill="#141414" stroke="#141414" stroke-width="0.16">ns</text></g></svg>
</body></html>
